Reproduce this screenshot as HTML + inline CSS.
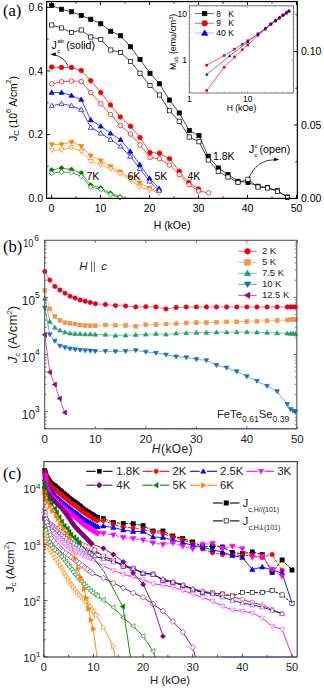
<!DOCTYPE html>
<html><head><meta charset="utf-8"><style>
html,body{margin:0;padding:0;background:#fff;}
svg{display:block;}
</style></head><body>
<svg width="324" height="689" viewBox="0 0 324 689">
<rect width="324" height="689" fill="#fff"/>
<polyline points="51.75,170 61.5,168 71.5,169.5 81.25,173 90.75,185 100.75,188 110.5,193.25 120,197" fill="none" stroke="#008000" stroke-width="0.7" />
<polygon points="51.75,167.48 54.27,170 51.75,172.52 49.23,170" fill="#008000" stroke="#008000" stroke-width="0.7" stroke-linejoin="miter"/>
<polygon points="61.5,165.48 64.02,168 61.5,170.52 58.98,168" fill="#008000" stroke="#008000" stroke-width="0.7" stroke-linejoin="miter"/>
<polygon points="71.5,166.98 74.02,169.5 71.5,172.02 68.98,169.5" fill="#008000" stroke="#008000" stroke-width="0.7" stroke-linejoin="miter"/>
<polygon points="81.25,170.48 83.77,173 81.25,175.52 78.73,173" fill="#008000" stroke="#008000" stroke-width="0.7" stroke-linejoin="miter"/>
<polygon points="90.75,182.48 93.27,185 90.75,187.52 88.23,185" fill="#008000" stroke="#008000" stroke-width="0.7" stroke-linejoin="miter"/>
<polygon points="100.75,185.48 103.27,188 100.75,190.52 98.23,188" fill="#008000" stroke="#008000" stroke-width="0.7" stroke-linejoin="miter"/>
<polygon points="110.5,190.73 113.02,193.25 110.5,195.77 107.98,193.25" fill="#008000" stroke="#008000" stroke-width="0.7" stroke-linejoin="miter"/>
<polygon points="120,194.48 122.52,197 120,199.52 117.48,197" fill="#008000" stroke="#008000" stroke-width="0.7" stroke-linejoin="miter"/>
<polyline points="51.75,173.25 61.5,172 71.5,172.5 81.25,176.25 90.75,187 100.75,189.5 110.5,194.5 120,197.5" fill="none" stroke="#008000" stroke-width="0.7" />
<polygon points="51.75,170.73 54.27,173.25 51.75,175.77 49.23,173.25" fill="#fff" stroke="#008000" stroke-width="0.7" stroke-linejoin="miter"/>
<polygon points="61.5,169.48 64.02,172 61.5,174.52 58.98,172" fill="#fff" stroke="#008000" stroke-width="0.7" stroke-linejoin="miter"/>
<polygon points="71.5,169.98 74.02,172.5 71.5,175.02 68.98,172.5" fill="#fff" stroke="#008000" stroke-width="0.7" stroke-linejoin="miter"/>
<polygon points="81.25,173.73 83.77,176.25 81.25,178.77 78.73,176.25" fill="#fff" stroke="#008000" stroke-width="0.7" stroke-linejoin="miter"/>
<polygon points="90.75,184.48 93.27,187 90.75,189.52 88.23,187" fill="#fff" stroke="#008000" stroke-width="0.7" stroke-linejoin="miter"/>
<polygon points="100.75,186.98 103.27,189.5 100.75,192.02 98.23,189.5" fill="#fff" stroke="#008000" stroke-width="0.7" stroke-linejoin="miter"/>
<polygon points="110.5,191.98 113.02,194.5 110.5,197.02 107.98,194.5" fill="#fff" stroke="#008000" stroke-width="0.7" stroke-linejoin="miter"/>
<polygon points="120,194.98 122.52,197.5 120,200.02 117.48,197.5" fill="#fff" stroke="#008000" stroke-width="0.7" stroke-linejoin="miter"/>
<polyline points="51.75,144.5 61.5,144.5 71.5,142 81.25,146.25 90.75,155.75 100.75,160.75 110.7,166.7 120.2,171.9 130.4,177.8 139.6,183 149.3,188 159.1,191.7" fill="none" stroke="#ff7f00" stroke-width="0.7" />
<polygon points="51.75,147.03 54.28,142.66 49.22,142.66" fill="#ff7f00" stroke="#ff7f00" stroke-width="0.7" stroke-linejoin="miter"/>
<polygon points="61.5,147.03 64.03,142.66 58.97,142.66" fill="#ff7f00" stroke="#ff7f00" stroke-width="0.7" stroke-linejoin="miter"/>
<polygon points="71.5,144.53 74.03,140.16 68.97,140.16" fill="#ff7f00" stroke="#ff7f00" stroke-width="0.7" stroke-linejoin="miter"/>
<polygon points="81.25,148.78 83.78,144.41 78.72,144.41" fill="#ff7f00" stroke="#ff7f00" stroke-width="0.7" stroke-linejoin="miter"/>
<polygon points="90.75,158.28 93.28,153.91 88.22,153.91" fill="#ff7f00" stroke="#ff7f00" stroke-width="0.7" stroke-linejoin="miter"/>
<polygon points="100.75,163.28 103.28,158.91 98.22,158.91" fill="#ff7f00" stroke="#ff7f00" stroke-width="0.7" stroke-linejoin="miter"/>
<polygon points="110.7,169.23 113.23,164.86 108.17,164.86" fill="#ff7f00" stroke="#ff7f00" stroke-width="0.7" stroke-linejoin="miter"/>
<polygon points="120.2,174.43 122.73,170.06 117.67,170.06" fill="#ff7f00" stroke="#ff7f00" stroke-width="0.7" stroke-linejoin="miter"/>
<polygon points="130.4,180.33 132.93,175.96 127.87,175.96" fill="#ff7f00" stroke="#ff7f00" stroke-width="0.7" stroke-linejoin="miter"/>
<polygon points="139.6,185.53 142.13,181.16 137.07,181.16" fill="#ff7f00" stroke="#ff7f00" stroke-width="0.7" stroke-linejoin="miter"/>
<polygon points="149.3,190.53 151.83,186.16 146.77,186.16" fill="#ff7f00" stroke="#ff7f00" stroke-width="0.7" stroke-linejoin="miter"/>
<polygon points="159.1,194.23 161.63,189.86 156.57,189.86" fill="#ff7f00" stroke="#ff7f00" stroke-width="0.7" stroke-linejoin="miter"/>
<polyline points="51.75,150 61.5,150 71.5,147.5 81.25,151.25 90.75,161.25 100.75,165 110.7,168.8 120.2,173.7 130.4,179.6 139.6,187 149.3,189.8 159.1,193" fill="none" stroke="#ff7f00" stroke-width="0.7" />
<polygon points="51.75,152.53 54.28,148.16 49.22,148.16" fill="#fff" stroke="#ff7f00" stroke-width="0.7" stroke-linejoin="miter"/>
<polygon points="61.5,152.53 64.03,148.16 58.97,148.16" fill="#fff" stroke="#ff7f00" stroke-width="0.7" stroke-linejoin="miter"/>
<polygon points="71.5,150.03 74.03,145.66 68.97,145.66" fill="#fff" stroke="#ff7f00" stroke-width="0.7" stroke-linejoin="miter"/>
<polygon points="81.25,153.78 83.78,149.41 78.72,149.41" fill="#fff" stroke="#ff7f00" stroke-width="0.7" stroke-linejoin="miter"/>
<polygon points="90.75,163.78 93.28,159.41 88.22,159.41" fill="#fff" stroke="#ff7f00" stroke-width="0.7" stroke-linejoin="miter"/>
<polygon points="100.75,167.53 103.28,163.16 98.22,163.16" fill="#fff" stroke="#ff7f00" stroke-width="0.7" stroke-linejoin="miter"/>
<polygon points="110.7,171.33 113.23,166.96 108.17,166.96" fill="#fff" stroke="#ff7f00" stroke-width="0.7" stroke-linejoin="miter"/>
<polygon points="120.2,176.23 122.73,171.86 117.67,171.86" fill="#fff" stroke="#ff7f00" stroke-width="0.7" stroke-linejoin="miter"/>
<polygon points="130.4,182.13 132.93,177.76 127.87,177.76" fill="#fff" stroke="#ff7f00" stroke-width="0.7" stroke-linejoin="miter"/>
<polygon points="139.6,189.53 142.13,185.16 137.07,185.16" fill="#fff" stroke="#ff7f00" stroke-width="0.7" stroke-linejoin="miter"/>
<polygon points="149.3,192.33 151.83,187.96 146.77,187.96" fill="#fff" stroke="#ff7f00" stroke-width="0.7" stroke-linejoin="miter"/>
<polygon points="159.1,195.53 161.63,191.16 156.57,191.16" fill="#fff" stroke="#ff7f00" stroke-width="0.7" stroke-linejoin="miter"/>
<polyline points="51.75,92.5 61.5,92.5 71.5,95.5 81.25,99.5 90.75,120 100.75,126.25 110.5,133.25 120.6,139.7 130.2,151.4 139.8,164.6 149.5,178.3 159.1,188.5" fill="none" stroke="#0000f0" stroke-width="0.7" />
<polygon points="51.75,89.97 54.28,94.34 49.22,94.34" fill="#0000f0" stroke="#0000f0" stroke-width="0.7" stroke-linejoin="miter"/>
<polygon points="61.5,89.97 64.03,94.34 58.97,94.34" fill="#0000f0" stroke="#0000f0" stroke-width="0.7" stroke-linejoin="miter"/>
<polygon points="71.5,92.97 74.03,97.34 68.97,97.34" fill="#0000f0" stroke="#0000f0" stroke-width="0.7" stroke-linejoin="miter"/>
<polygon points="81.25,96.97 83.78,101.34 78.72,101.34" fill="#0000f0" stroke="#0000f0" stroke-width="0.7" stroke-linejoin="miter"/>
<polygon points="90.75,117.47 93.28,121.84 88.22,121.84" fill="#0000f0" stroke="#0000f0" stroke-width="0.7" stroke-linejoin="miter"/>
<polygon points="100.75,123.72 103.28,128.09 98.22,128.09" fill="#0000f0" stroke="#0000f0" stroke-width="0.7" stroke-linejoin="miter"/>
<polygon points="110.5,130.72 113.03,135.09 107.97,135.09" fill="#0000f0" stroke="#0000f0" stroke-width="0.7" stroke-linejoin="miter"/>
<polygon points="120.6,137.17 123.13,141.54 118.07,141.54" fill="#0000f0" stroke="#0000f0" stroke-width="0.7" stroke-linejoin="miter"/>
<polygon points="130.2,148.87 132.73,153.24 127.67,153.24" fill="#0000f0" stroke="#0000f0" stroke-width="0.7" stroke-linejoin="miter"/>
<polygon points="139.8,162.07 142.33,166.44 137.27,166.44" fill="#0000f0" stroke="#0000f0" stroke-width="0.7" stroke-linejoin="miter"/>
<polygon points="149.5,175.77 152.03,180.14 146.97,180.14" fill="#0000f0" stroke="#0000f0" stroke-width="0.7" stroke-linejoin="miter"/>
<polygon points="159.1,185.97 161.63,190.34 156.57,190.34" fill="#0000f0" stroke="#0000f0" stroke-width="0.7" stroke-linejoin="miter"/>
<polyline points="51.75,105.75 61.5,103.75 71.5,105.75 81.25,109.5 90.75,127.5 100.75,133.25 110.5,139.5 120.6,146.25 130.2,156.4 139.8,168.6 149.5,181.3 159.1,190.4" fill="none" stroke="#0000f0" stroke-width="0.7" />
<polygon points="51.75,103.22 54.28,107.59 49.22,107.59" fill="#fff" stroke="#0000f0" stroke-width="0.7" stroke-linejoin="miter"/>
<polygon points="61.5,101.22 64.03,105.59 58.97,105.59" fill="#fff" stroke="#0000f0" stroke-width="0.7" stroke-linejoin="miter"/>
<polygon points="71.5,103.22 74.03,107.59 68.97,107.59" fill="#fff" stroke="#0000f0" stroke-width="0.7" stroke-linejoin="miter"/>
<polygon points="81.25,106.97 83.78,111.34 78.72,111.34" fill="#fff" stroke="#0000f0" stroke-width="0.7" stroke-linejoin="miter"/>
<polygon points="90.75,124.97 93.28,129.34 88.22,129.34" fill="#fff" stroke="#0000f0" stroke-width="0.7" stroke-linejoin="miter"/>
<polygon points="100.75,130.72 103.28,135.09 98.22,135.09" fill="#fff" stroke="#0000f0" stroke-width="0.7" stroke-linejoin="miter"/>
<polygon points="110.5,136.97 113.03,141.34 107.97,141.34" fill="#fff" stroke="#0000f0" stroke-width="0.7" stroke-linejoin="miter"/>
<polygon points="120.6,143.72 123.13,148.09 118.07,148.09" fill="#fff" stroke="#0000f0" stroke-width="0.7" stroke-linejoin="miter"/>
<polygon points="130.2,153.87 132.73,158.24 127.67,158.24" fill="#fff" stroke="#0000f0" stroke-width="0.7" stroke-linejoin="miter"/>
<polygon points="139.8,166.07 142.33,170.44 137.27,170.44" fill="#fff" stroke="#0000f0" stroke-width="0.7" stroke-linejoin="miter"/>
<polygon points="149.5,178.77 152.03,183.14 146.97,183.14" fill="#fff" stroke="#0000f0" stroke-width="0.7" stroke-linejoin="miter"/>
<polygon points="159.1,187.87 161.63,192.24 156.57,192.24" fill="#fff" stroke="#0000f0" stroke-width="0.7" stroke-linejoin="miter"/>
<polyline points="51.75,67 61.5,67.5 71.5,67.5 81.25,70.5 90.75,80.75 100.75,92.5 110.5,105 120.3,117 130.5,126.25 140,137.5 150,152.5 159.5,153.25 169.5,158.75 179.25,171.25 188.8,182.5 198.6,189" fill="none" stroke="#f00000" stroke-width="0.7" />
<circle cx="51.75" cy="67" r="2.3" fill="#f00000" stroke="#f00000" stroke-width="0.7"/>
<circle cx="61.5" cy="67.5" r="2.3" fill="#f00000" stroke="#f00000" stroke-width="0.7"/>
<circle cx="71.5" cy="67.5" r="2.3" fill="#f00000" stroke="#f00000" stroke-width="0.7"/>
<circle cx="81.25" cy="70.5" r="2.3" fill="#f00000" stroke="#f00000" stroke-width="0.7"/>
<circle cx="90.75" cy="80.75" r="2.3" fill="#f00000" stroke="#f00000" stroke-width="0.7"/>
<circle cx="100.75" cy="92.5" r="2.3" fill="#f00000" stroke="#f00000" stroke-width="0.7"/>
<circle cx="110.5" cy="105" r="2.3" fill="#f00000" stroke="#f00000" stroke-width="0.7"/>
<circle cx="120.3" cy="117" r="2.3" fill="#f00000" stroke="#f00000" stroke-width="0.7"/>
<circle cx="130.5" cy="126.25" r="2.3" fill="#f00000" stroke="#f00000" stroke-width="0.7"/>
<circle cx="140" cy="137.5" r="2.3" fill="#f00000" stroke="#f00000" stroke-width="0.7"/>
<circle cx="150" cy="152.5" r="2.3" fill="#f00000" stroke="#f00000" stroke-width="0.7"/>
<circle cx="159.5" cy="153.25" r="2.3" fill="#f00000" stroke="#f00000" stroke-width="0.7"/>
<circle cx="169.5" cy="158.75" r="2.3" fill="#f00000" stroke="#f00000" stroke-width="0.7"/>
<circle cx="179.25" cy="171.25" r="2.3" fill="#f00000" stroke="#f00000" stroke-width="0.7"/>
<circle cx="188.8" cy="182.5" r="2.3" fill="#f00000" stroke="#f00000" stroke-width="0.7"/>
<circle cx="198.6" cy="189" r="2.3" fill="#f00000" stroke="#f00000" stroke-width="0.7"/>
<polyline points="51.75,83.75 61.5,81.75 71.5,81 81.25,81.5 90.75,92.5 100.75,103.75 110.5,114.5 120.3,125.5 130.5,134 140,145 150,157.5 159.5,158.75 169.5,165 179.25,174.5 189.1,184.8 198.6,191 208.6,192.8" fill="none" stroke="#f00000" stroke-width="0.7" />
<circle cx="51.75" cy="83.75" r="2.3" fill="#fff" stroke="#f00000" stroke-width="0.7"/>
<circle cx="61.5" cy="81.75" r="2.3" fill="#fff" stroke="#f00000" stroke-width="0.7"/>
<circle cx="71.5" cy="81" r="2.3" fill="#fff" stroke="#f00000" stroke-width="0.7"/>
<circle cx="81.25" cy="81.5" r="2.3" fill="#fff" stroke="#f00000" stroke-width="0.7"/>
<circle cx="90.75" cy="92.5" r="2.3" fill="#fff" stroke="#f00000" stroke-width="0.7"/>
<circle cx="100.75" cy="103.75" r="2.3" fill="#fff" stroke="#f00000" stroke-width="0.7"/>
<circle cx="110.5" cy="114.5" r="2.3" fill="#fff" stroke="#f00000" stroke-width="0.7"/>
<circle cx="120.3" cy="125.5" r="2.3" fill="#fff" stroke="#f00000" stroke-width="0.7"/>
<circle cx="130.5" cy="134" r="2.3" fill="#fff" stroke="#f00000" stroke-width="0.7"/>
<circle cx="140" cy="145" r="2.3" fill="#fff" stroke="#f00000" stroke-width="0.7"/>
<circle cx="150" cy="157.5" r="2.3" fill="#fff" stroke="#f00000" stroke-width="0.7"/>
<circle cx="159.5" cy="158.75" r="2.3" fill="#fff" stroke="#f00000" stroke-width="0.7"/>
<circle cx="169.5" cy="165" r="2.3" fill="#fff" stroke="#f00000" stroke-width="0.7"/>
<circle cx="179.25" cy="174.5" r="2.3" fill="#fff" stroke="#f00000" stroke-width="0.7"/>
<circle cx="189.1" cy="184.8" r="2.3" fill="#fff" stroke="#f00000" stroke-width="0.7"/>
<circle cx="198.6" cy="191" r="2.3" fill="#fff" stroke="#f00000" stroke-width="0.7"/>
<circle cx="208.6" cy="192.8" r="2.3" fill="#fff" stroke="#f00000" stroke-width="0.7"/>
<polyline points="51.75,5.5 61.5,9.25 71.5,11.75 81.25,15.5 90.75,19.25 100.75,23.75 110.75,31.25 120.6,35.75 130.5,46.75 140,59.5 150,73.25 159.5,83.75 169.5,100 179.25,113 189.25,130.5 199,135.6 208.25,156.25 218.25,168 228,174.5 238,181.25 248,182.5 258,186.25 267.5,187.5 277.5,190.75 287.5,197" fill="none" stroke="#000" stroke-width="0.7" />
<rect x="49.65" y="3.4" width="4.2" height="4.2" fill="#000" stroke="#000" stroke-width="0.7"/>
<rect x="59.4" y="7.15" width="4.2" height="4.2" fill="#000" stroke="#000" stroke-width="0.7"/>
<rect x="69.4" y="9.65" width="4.2" height="4.2" fill="#000" stroke="#000" stroke-width="0.7"/>
<rect x="79.15" y="13.4" width="4.2" height="4.2" fill="#000" stroke="#000" stroke-width="0.7"/>
<rect x="88.65" y="17.15" width="4.2" height="4.2" fill="#000" stroke="#000" stroke-width="0.7"/>
<rect x="98.65" y="21.65" width="4.2" height="4.2" fill="#000" stroke="#000" stroke-width="0.7"/>
<rect x="108.65" y="29.15" width="4.2" height="4.2" fill="#000" stroke="#000" stroke-width="0.7"/>
<rect x="118.5" y="33.65" width="4.2" height="4.2" fill="#000" stroke="#000" stroke-width="0.7"/>
<rect x="128.4" y="44.65" width="4.2" height="4.2" fill="#000" stroke="#000" stroke-width="0.7"/>
<rect x="137.9" y="57.4" width="4.2" height="4.2" fill="#000" stroke="#000" stroke-width="0.7"/>
<rect x="147.9" y="71.15" width="4.2" height="4.2" fill="#000" stroke="#000" stroke-width="0.7"/>
<rect x="157.4" y="81.65" width="4.2" height="4.2" fill="#000" stroke="#000" stroke-width="0.7"/>
<rect x="167.4" y="97.9" width="4.2" height="4.2" fill="#000" stroke="#000" stroke-width="0.7"/>
<rect x="177.15" y="110.9" width="4.2" height="4.2" fill="#000" stroke="#000" stroke-width="0.7"/>
<rect x="187.15" y="128.4" width="4.2" height="4.2" fill="#000" stroke="#000" stroke-width="0.7"/>
<rect x="196.9" y="133.5" width="4.2" height="4.2" fill="#000" stroke="#000" stroke-width="0.7"/>
<rect x="206.15" y="154.15" width="4.2" height="4.2" fill="#000" stroke="#000" stroke-width="0.7"/>
<rect x="216.15" y="165.9" width="4.2" height="4.2" fill="#000" stroke="#000" stroke-width="0.7"/>
<rect x="225.9" y="172.4" width="4.2" height="4.2" fill="#000" stroke="#000" stroke-width="0.7"/>
<rect x="235.9" y="179.15" width="4.2" height="4.2" fill="#000" stroke="#000" stroke-width="0.7"/>
<rect x="245.9" y="180.4" width="4.2" height="4.2" fill="#000" stroke="#000" stroke-width="0.7"/>
<rect x="255.9" y="184.15" width="4.2" height="4.2" fill="#000" stroke="#000" stroke-width="0.7"/>
<rect x="265.4" y="185.4" width="4.2" height="4.2" fill="#000" stroke="#000" stroke-width="0.7"/>
<rect x="275.4" y="188.65" width="4.2" height="4.2" fill="#000" stroke="#000" stroke-width="0.7"/>
<rect x="285.4" y="194.9" width="4.2" height="4.2" fill="#000" stroke="#000" stroke-width="0.7"/>
<polyline points="51.75,25 61.5,28 71.5,32.5 81.25,30 90.75,37 100.75,39.5 110.75,50 120.6,52.5 130.5,61.5 140,73.25 150,85.5 159.5,95 169.5,110.75 179.25,121.25 189.25,137 199,141.75 208.25,160 218.25,171.25 228,177 238,182.5 248,179.25 258,187 267.5,188 277.5,191.25 287.5,197.5" fill="none" stroke="#000" stroke-width="0.7" />
<rect x="49.65" y="22.9" width="4.2" height="4.2" fill="#fff" stroke="#000" stroke-width="0.7"/>
<rect x="59.4" y="25.9" width="4.2" height="4.2" fill="#fff" stroke="#000" stroke-width="0.7"/>
<rect x="69.4" y="30.4" width="4.2" height="4.2" fill="#fff" stroke="#000" stroke-width="0.7"/>
<rect x="79.15" y="27.9" width="4.2" height="4.2" fill="#fff" stroke="#000" stroke-width="0.7"/>
<rect x="88.65" y="34.9" width="4.2" height="4.2" fill="#fff" stroke="#000" stroke-width="0.7"/>
<rect x="98.65" y="37.4" width="4.2" height="4.2" fill="#fff" stroke="#000" stroke-width="0.7"/>
<rect x="108.65" y="47.9" width="4.2" height="4.2" fill="#fff" stroke="#000" stroke-width="0.7"/>
<rect x="118.5" y="50.4" width="4.2" height="4.2" fill="#fff" stroke="#000" stroke-width="0.7"/>
<rect x="128.4" y="59.4" width="4.2" height="4.2" fill="#fff" stroke="#000" stroke-width="0.7"/>
<rect x="137.9" y="71.15" width="4.2" height="4.2" fill="#fff" stroke="#000" stroke-width="0.7"/>
<rect x="147.9" y="83.4" width="4.2" height="4.2" fill="#fff" stroke="#000" stroke-width="0.7"/>
<rect x="157.4" y="92.9" width="4.2" height="4.2" fill="#fff" stroke="#000" stroke-width="0.7"/>
<rect x="167.4" y="108.65" width="4.2" height="4.2" fill="#fff" stroke="#000" stroke-width="0.7"/>
<rect x="177.15" y="119.15" width="4.2" height="4.2" fill="#fff" stroke="#000" stroke-width="0.7"/>
<rect x="187.15" y="134.9" width="4.2" height="4.2" fill="#fff" stroke="#000" stroke-width="0.7"/>
<rect x="196.9" y="139.65" width="4.2" height="4.2" fill="#fff" stroke="#000" stroke-width="0.7"/>
<rect x="206.15" y="157.9" width="4.2" height="4.2" fill="#fff" stroke="#000" stroke-width="0.7"/>
<rect x="216.15" y="169.15" width="4.2" height="4.2" fill="#fff" stroke="#000" stroke-width="0.7"/>
<rect x="225.9" y="174.9" width="4.2" height="4.2" fill="#fff" stroke="#000" stroke-width="0.7"/>
<rect x="235.9" y="180.4" width="4.2" height="4.2" fill="#fff" stroke="#000" stroke-width="0.7"/>
<rect x="245.9" y="177.15" width="4.2" height="4.2" fill="#fff" stroke="#000" stroke-width="0.7"/>
<rect x="255.9" y="184.9" width="4.2" height="4.2" fill="#fff" stroke="#000" stroke-width="0.7"/>
<rect x="265.4" y="185.9" width="4.2" height="4.2" fill="#fff" stroke="#000" stroke-width="0.7"/>
<rect x="275.4" y="189.15" width="4.2" height="4.2" fill="#fff" stroke="#000" stroke-width="0.7"/>
<rect x="285.4" y="195.4" width="4.2" height="4.2" fill="#fff" stroke="#000" stroke-width="0.7"/>
<rect x="46.6" y="1.55" width="250.75000000000003" height="196.85" fill="none" stroke="#000" stroke-width="1.2"/>
<line x1="51.5" y1="198.4" x2="51.5" y2="194.9" stroke="#000" stroke-width="0.9" />
<line x1="51.5" y1="1.55" x2="51.5" y2="5.05" stroke="#000" stroke-width="0.9" />
<text x="51.5" y="211.5" font-family="Liberation Sans" font-size="10.5" text-anchor="middle" fill="#000" >0</text>
<line x1="76" y1="198.4" x2="76" y2="196.4" stroke="#000" stroke-width="0.9" />
<line x1="76" y1="1.55" x2="76" y2="3.55" stroke="#000" stroke-width="0.9" />
<line x1="100.5" y1="198.4" x2="100.5" y2="194.9" stroke="#000" stroke-width="0.9" />
<line x1="100.5" y1="1.55" x2="100.5" y2="5.05" stroke="#000" stroke-width="0.9" />
<text x="100.5" y="211.5" font-family="Liberation Sans" font-size="10.5" text-anchor="middle" fill="#000" >10</text>
<line x1="125" y1="198.4" x2="125" y2="196.4" stroke="#000" stroke-width="0.9" />
<line x1="125" y1="1.55" x2="125" y2="3.55" stroke="#000" stroke-width="0.9" />
<line x1="149.5" y1="198.4" x2="149.5" y2="194.9" stroke="#000" stroke-width="0.9" />
<line x1="149.5" y1="1.55" x2="149.5" y2="5.05" stroke="#000" stroke-width="0.9" />
<text x="149.5" y="211.5" font-family="Liberation Sans" font-size="10.5" text-anchor="middle" fill="#000" >20</text>
<line x1="174" y1="198.4" x2="174" y2="196.4" stroke="#000" stroke-width="0.9" />
<line x1="174" y1="1.55" x2="174" y2="3.55" stroke="#000" stroke-width="0.9" />
<line x1="198.5" y1="198.4" x2="198.5" y2="194.9" stroke="#000" stroke-width="0.9" />
<line x1="198.5" y1="1.55" x2="198.5" y2="5.05" stroke="#000" stroke-width="0.9" />
<text x="198.5" y="211.5" font-family="Liberation Sans" font-size="10.5" text-anchor="middle" fill="#000" >30</text>
<line x1="223" y1="198.4" x2="223" y2="196.4" stroke="#000" stroke-width="0.9" />
<line x1="223" y1="1.55" x2="223" y2="3.55" stroke="#000" stroke-width="0.9" />
<line x1="247.5" y1="198.4" x2="247.5" y2="194.9" stroke="#000" stroke-width="0.9" />
<line x1="247.5" y1="1.55" x2="247.5" y2="5.05" stroke="#000" stroke-width="0.9" />
<text x="247.5" y="211.5" font-family="Liberation Sans" font-size="10.5" text-anchor="middle" fill="#000" >40</text>
<line x1="272" y1="198.4" x2="272" y2="196.4" stroke="#000" stroke-width="0.9" />
<line x1="272" y1="1.55" x2="272" y2="3.55" stroke="#000" stroke-width="0.9" />
<line x1="296.5" y1="198.4" x2="296.5" y2="194.9" stroke="#000" stroke-width="0.9" />
<line x1="296.5" y1="1.55" x2="296.5" y2="5.05" stroke="#000" stroke-width="0.9" />
<text x="296.5" y="211.5" font-family="Liberation Sans" font-size="10.5" text-anchor="middle" fill="#000" >50</text>
<line x1="46.6" y1="198.05" x2="50.1" y2="198.05" stroke="#000" stroke-width="0.9" />
<text x="43" y="201.85" font-family="Liberation Sans" font-size="10.5" text-anchor="end" fill="#000" >0.0</text>
<line x1="46.6" y1="166.28" x2="48.6" y2="166.28" stroke="#000" stroke-width="0.9" />
<line x1="46.6" y1="134.5" x2="50.1" y2="134.5" stroke="#000" stroke-width="0.9" />
<text x="43" y="138.3" font-family="Liberation Sans" font-size="10.5" text-anchor="end" fill="#000" >0.2</text>
<line x1="46.6" y1="102.72" x2="48.6" y2="102.72" stroke="#000" stroke-width="0.9" />
<line x1="46.6" y1="70.95" x2="50.1" y2="70.95" stroke="#000" stroke-width="0.9" />
<text x="43" y="74.75" font-family="Liberation Sans" font-size="10.5" text-anchor="end" fill="#000" >0.4</text>
<line x1="46.6" y1="39.18" x2="48.6" y2="39.18" stroke="#000" stroke-width="0.9" />
<line x1="46.6" y1="7.4" x2="50.1" y2="7.4" stroke="#000" stroke-width="0.9" />
<text x="43" y="11.2" font-family="Liberation Sans" font-size="10.5" text-anchor="end" fill="#000" >0.6</text>
<line x1="297.35" y1="198.5" x2="293.85" y2="198.5" stroke="#000" stroke-width="0.9" />
<text x="301" y="202.3" font-family="Liberation Sans" font-size="10.5" text-anchor="start" fill="#000" >0.00</text>
<line x1="297.35" y1="161.75" x2="295.35" y2="161.75" stroke="#000" stroke-width="0.9" />
<line x1="297.35" y1="125" x2="293.85" y2="125" stroke="#000" stroke-width="0.9" />
<text x="301" y="128.8" font-family="Liberation Sans" font-size="10.5" text-anchor="start" fill="#000" >0.05</text>
<line x1="297.35" y1="88.25" x2="295.35" y2="88.25" stroke="#000" stroke-width="0.9" />
<line x1="297.35" y1="51.5" x2="293.85" y2="51.5" stroke="#000" stroke-width="0.9" />
<text x="301" y="55.3" font-family="Liberation Sans" font-size="10.5" text-anchor="start" fill="#000" >0.10</text>
<line x1="297.35" y1="14.75" x2="295.35" y2="14.75" stroke="#000" stroke-width="0.9" />
<text x="172" y="228.5" font-family="Liberation Sans" font-size="10.5" text-anchor="middle" fill="#000" >H (kOe)</text>
<text transform="translate(16.8,141) rotate(-90)" font-family="Liberation Sans" font-size="10.3">J<tspan font-size="7" dy="2.5">C</tspan><tspan dy="-2.5"> (10</tspan><tspan font-size="7" dy="-5.5">6</tspan><tspan dy="5.5"> A/cm</tspan><tspan font-size="7" dy="-5.5">2</tspan><tspan dy="5.5">)</tspan></text>
<text x="3" y="15.8" font-family="Liberation Serif" font-size="16.5" text-anchor="start" fill="#000" >(a)</text>
<text x="51.6" y="48.6" font-family="Liberation Sans" font-size="10.5">J</text>
<text x="57.2" y="43" font-family="Liberation Sans" font-size="6">ab</text>
<text x="57.2" y="52.8" font-family="Liberation Sans" font-size="6">c</text>
<text x="66.3" y="48.8" font-family="Liberation Sans" font-size="10.5">(solid)</text>
<path d="M68.2,66.5 Q64.4,57.2 54.5,54.8" fill="none" stroke="#000" stroke-width="0.75"/>
<polygon points="50.2,54.3 55.9,52.6 55.6,56.2" fill="#000"/>
<text x="248.9" y="152.5" font-family="Liberation Sans" font-size="10.5">J</text>
<text x="254.3" y="147.6" font-family="Liberation Sans" font-size="6.2">c</text>
<text x="254.3" y="157.2" font-family="Liberation Sans" font-size="6.2">c</text>
<text x="259.6" y="152.6" font-family="Liberation Sans" font-size="10.6">(open)</text>
<path d="M248.6,178 Q257.2,159.2 275.5,159.6" fill="none" stroke="#000" stroke-width="0.75"/>
<polygon points="279.4,159.4 274,157.7 274,161.2" fill="#000"/>
<text x="213" y="160" font-family="Liberation Sans" font-size="10.5" text-anchor="start" fill="#000" >1.8K</text>
<text x="187.5" y="179.5" font-family="Liberation Sans" font-size="10.5" text-anchor="start" fill="#000" >4K</text>
<text x="154.5" y="179.5" font-family="Liberation Sans" font-size="10.5" text-anchor="start" fill="#000" >5K</text>
<text x="127.5" y="179.5" font-family="Liberation Sans" font-size="10.5" text-anchor="start" fill="#000" >6K</text>
<text x="86.5" y="179.5" font-family="Liberation Sans" font-size="10.5" text-anchor="start" fill="#000" >7K</text>
<rect x="189.3" y="5.8" width="104.3" height="87.2" fill="#fff" stroke="#666" stroke-width="0.9"/>
<line x1="189.3" y1="93" x2="189.3" y2="90.5" stroke="#777" stroke-width="0.5" />
<line x1="189.3" y1="5.8" x2="189.3" y2="8.3" stroke="#777" stroke-width="0.5" />
<line x1="206.85" y1="93" x2="206.85" y2="91.7" stroke="#777" stroke-width="0.5" />
<line x1="206.85" y1="5.8" x2="206.85" y2="7.1" stroke="#777" stroke-width="0.5" />
<line x1="217.12" y1="93" x2="217.12" y2="91.7" stroke="#777" stroke-width="0.5" />
<line x1="217.12" y1="5.8" x2="217.12" y2="7.1" stroke="#777" stroke-width="0.5" />
<line x1="224.4" y1="93" x2="224.4" y2="91.7" stroke="#777" stroke-width="0.5" />
<line x1="224.4" y1="5.8" x2="224.4" y2="7.1" stroke="#777" stroke-width="0.5" />
<line x1="230.05" y1="93" x2="230.05" y2="91.7" stroke="#777" stroke-width="0.5" />
<line x1="230.05" y1="5.8" x2="230.05" y2="7.1" stroke="#777" stroke-width="0.5" />
<line x1="234.67" y1="93" x2="234.67" y2="91.7" stroke="#777" stroke-width="0.5" />
<line x1="234.67" y1="5.8" x2="234.67" y2="7.1" stroke="#777" stroke-width="0.5" />
<line x1="238.57" y1="93" x2="238.57" y2="91.7" stroke="#777" stroke-width="0.5" />
<line x1="238.57" y1="5.8" x2="238.57" y2="7.1" stroke="#777" stroke-width="0.5" />
<line x1="241.95" y1="93" x2="241.95" y2="91.7" stroke="#777" stroke-width="0.5" />
<line x1="241.95" y1="5.8" x2="241.95" y2="7.1" stroke="#777" stroke-width="0.5" />
<line x1="244.93" y1="93" x2="244.93" y2="91.7" stroke="#777" stroke-width="0.5" />
<line x1="244.93" y1="5.8" x2="244.93" y2="7.1" stroke="#777" stroke-width="0.5" />
<line x1="247.6" y1="93" x2="247.6" y2="90.5" stroke="#777" stroke-width="0.5" />
<line x1="247.6" y1="5.8" x2="247.6" y2="8.3" stroke="#777" stroke-width="0.5" />
<line x1="265.15" y1="93" x2="265.15" y2="91.7" stroke="#777" stroke-width="0.5" />
<line x1="265.15" y1="5.8" x2="265.15" y2="7.1" stroke="#777" stroke-width="0.5" />
<line x1="275.42" y1="93" x2="275.42" y2="91.7" stroke="#777" stroke-width="0.5" />
<line x1="275.42" y1="5.8" x2="275.42" y2="7.1" stroke="#777" stroke-width="0.5" />
<line x1="282.7" y1="93" x2="282.7" y2="91.7" stroke="#777" stroke-width="0.5" />
<line x1="282.7" y1="5.8" x2="282.7" y2="7.1" stroke="#777" stroke-width="0.5" />
<line x1="288.35" y1="93" x2="288.35" y2="91.7" stroke="#777" stroke-width="0.5" />
<line x1="288.35" y1="5.8" x2="288.35" y2="7.1" stroke="#777" stroke-width="0.5" />
<line x1="292.97" y1="93" x2="292.97" y2="91.7" stroke="#777" stroke-width="0.5" />
<line x1="292.97" y1="5.8" x2="292.97" y2="7.1" stroke="#777" stroke-width="0.5" />
<line x1="189.3" y1="92.21" x2="190.6" y2="92.21" stroke="#777" stroke-width="0.5" />
<line x1="293.6" y1="92.21" x2="292.3" y2="92.21" stroke="#777" stroke-width="0.5" />
<line x1="189.3" y1="84.15" x2="190.6" y2="84.15" stroke="#777" stroke-width="0.5" />
<line x1="293.6" y1="84.15" x2="292.3" y2="84.15" stroke="#777" stroke-width="0.5" />
<line x1="189.3" y1="78.43" x2="190.6" y2="78.43" stroke="#777" stroke-width="0.5" />
<line x1="293.6" y1="78.43" x2="292.3" y2="78.43" stroke="#777" stroke-width="0.5" />
<line x1="189.3" y1="73.99" x2="190.6" y2="73.99" stroke="#777" stroke-width="0.5" />
<line x1="293.6" y1="73.99" x2="292.3" y2="73.99" stroke="#777" stroke-width="0.5" />
<line x1="189.3" y1="70.36" x2="190.6" y2="70.36" stroke="#777" stroke-width="0.5" />
<line x1="293.6" y1="70.36" x2="292.3" y2="70.36" stroke="#777" stroke-width="0.5" />
<line x1="189.3" y1="67.29" x2="190.6" y2="67.29" stroke="#777" stroke-width="0.5" />
<line x1="293.6" y1="67.29" x2="292.3" y2="67.29" stroke="#777" stroke-width="0.5" />
<line x1="189.3" y1="64.64" x2="190.6" y2="64.64" stroke="#777" stroke-width="0.5" />
<line x1="293.6" y1="64.64" x2="292.3" y2="64.64" stroke="#777" stroke-width="0.5" />
<line x1="189.3" y1="62.3" x2="190.6" y2="62.3" stroke="#777" stroke-width="0.5" />
<line x1="293.6" y1="62.3" x2="292.3" y2="62.3" stroke="#777" stroke-width="0.5" />
<line x1="189.3" y1="60.2" x2="191.8" y2="60.2" stroke="#777" stroke-width="0.5" />
<line x1="293.6" y1="60.2" x2="291.1" y2="60.2" stroke="#777" stroke-width="0.5" />
<line x1="189.3" y1="46.41" x2="190.6" y2="46.41" stroke="#777" stroke-width="0.5" />
<line x1="293.6" y1="46.41" x2="292.3" y2="46.41" stroke="#777" stroke-width="0.5" />
<line x1="189.3" y1="38.35" x2="190.6" y2="38.35" stroke="#777" stroke-width="0.5" />
<line x1="293.6" y1="38.35" x2="292.3" y2="38.35" stroke="#777" stroke-width="0.5" />
<line x1="189.3" y1="32.63" x2="190.6" y2="32.63" stroke="#777" stroke-width="0.5" />
<line x1="293.6" y1="32.63" x2="292.3" y2="32.63" stroke="#777" stroke-width="0.5" />
<line x1="189.3" y1="28.19" x2="190.6" y2="28.19" stroke="#777" stroke-width="0.5" />
<line x1="293.6" y1="28.19" x2="292.3" y2="28.19" stroke="#777" stroke-width="0.5" />
<line x1="189.3" y1="24.56" x2="190.6" y2="24.56" stroke="#777" stroke-width="0.5" />
<line x1="293.6" y1="24.56" x2="292.3" y2="24.56" stroke="#777" stroke-width="0.5" />
<line x1="189.3" y1="21.49" x2="190.6" y2="21.49" stroke="#777" stroke-width="0.5" />
<line x1="293.6" y1="21.49" x2="292.3" y2="21.49" stroke="#777" stroke-width="0.5" />
<line x1="189.3" y1="18.84" x2="190.6" y2="18.84" stroke="#777" stroke-width="0.5" />
<line x1="293.6" y1="18.84" x2="292.3" y2="18.84" stroke="#777" stroke-width="0.5" />
<line x1="189.3" y1="16.5" x2="190.6" y2="16.5" stroke="#777" stroke-width="0.5" />
<line x1="293.6" y1="16.5" x2="292.3" y2="16.5" stroke="#777" stroke-width="0.5" />
<line x1="189.3" y1="14.4" x2="191.8" y2="14.4" stroke="#777" stroke-width="0.5" />
<line x1="293.6" y1="14.4" x2="291.1" y2="14.4" stroke="#777" stroke-width="0.5" />
<text x="187" y="17" font-family="Liberation Sans" font-size="8.5" text-anchor="end" fill="#000" >10</text>
<text x="187" y="63" font-family="Liberation Sans" font-size="8.5" text-anchor="end" fill="#000" >1</text>
<text x="189.3" y="101.5" font-family="Liberation Sans" font-size="8.5" text-anchor="middle" fill="#000" >1</text>
<text x="247.8" y="101.5" font-family="Liberation Sans" font-size="8.5" text-anchor="middle" fill="#000" >10</text>
<text x="241.5" y="111" font-family="Liberation Sans" font-size="8.5" text-anchor="middle" fill="#000" >H (kOe)</text>
<text transform="translate(176.4,70) rotate(-90)" font-family="Liberation Sans" font-size="8.8">M<tspan font-size="5.5" dy="2">ab</tspan><tspan dy="-2"> (emu/cm</tspan><tspan font-size="5.5" dy="-3.5">3</tspan><tspan dy="3.5">)</tspan></text>
<polyline points="206.8,90.5 224.1,67.3 234.6,57 242.2,49.8 247.8,45 258,35.5 265.4,29.3 270.9,24.6 275.6,21.2 279.4,18.4 283,15.6 286.3,13.3 289,11.3" fill="none" stroke="#c00000" stroke-width="0.6" />
<rect x="205.7" y="89.4" width="2.2" height="2.2" fill="#e00000" stroke="#e00000" stroke-width="0.3"/>
<rect x="223" y="66.2" width="2.2" height="2.2" fill="#e00000" stroke="#e00000" stroke-width="0.3"/>
<rect x="233.5" y="55.9" width="2.2" height="2.2" fill="#e00000" stroke="#e00000" stroke-width="0.3"/>
<rect x="241.1" y="48.7" width="2.2" height="2.2" fill="#e00000" stroke="#e00000" stroke-width="0.3"/>
<rect x="246.7" y="43.9" width="2.2" height="2.2" fill="#e00000" stroke="#e00000" stroke-width="0.3"/>
<rect x="256.9" y="34.4" width="2.2" height="2.2" fill="#e00000" stroke="#e00000" stroke-width="0.3"/>
<rect x="264.3" y="28.2" width="2.2" height="2.2" fill="#e00000" stroke="#e00000" stroke-width="0.3"/>
<rect x="269.8" y="23.5" width="2.2" height="2.2" fill="#e00000" stroke="#e00000" stroke-width="0.3"/>
<rect x="274.5" y="20.1" width="2.2" height="2.2" fill="#e00000" stroke="#e00000" stroke-width="0.3"/>
<rect x="278.3" y="17.3" width="2.2" height="2.2" fill="#e00000" stroke="#e00000" stroke-width="0.3"/>
<rect x="281.9" y="14.5" width="2.2" height="2.2" fill="#e00000" stroke="#e00000" stroke-width="0.3"/>
<rect x="285.2" y="12.2" width="2.2" height="2.2" fill="#e00000" stroke="#e00000" stroke-width="0.3"/>
<rect x="287.9" y="10.2" width="2.2" height="2.2" fill="#e00000" stroke="#e00000" stroke-width="0.3"/>
<polyline points="206.8,65.1 224.1,55.6 234.6,49.1 242.2,44.2 247.8,40.9 258,33.9 265.4,28.7 270.9,24.1 275.6,20.7 279.4,18 283,15.2 286.3,13 289,11.1" fill="none" stroke="#c00000" stroke-width="0.6" />
<rect x="205.7" y="64" width="2.2" height="2.2" fill="#e00000" stroke="#e00000" stroke-width="0.3"/>
<rect x="223" y="54.5" width="2.2" height="2.2" fill="#e00000" stroke="#e00000" stroke-width="0.3"/>
<rect x="233.5" y="48" width="2.2" height="2.2" fill="#e00000" stroke="#e00000" stroke-width="0.3"/>
<rect x="241.1" y="43.1" width="2.2" height="2.2" fill="#e00000" stroke="#e00000" stroke-width="0.3"/>
<rect x="246.7" y="39.8" width="2.2" height="2.2" fill="#e00000" stroke="#e00000" stroke-width="0.3"/>
<rect x="256.9" y="32.8" width="2.2" height="2.2" fill="#e00000" stroke="#e00000" stroke-width="0.3"/>
<rect x="264.3" y="27.6" width="2.2" height="2.2" fill="#e00000" stroke="#e00000" stroke-width="0.3"/>
<rect x="269.8" y="23" width="2.2" height="2.2" fill="#e00000" stroke="#e00000" stroke-width="0.3"/>
<rect x="274.5" y="19.6" width="2.2" height="2.2" fill="#e00000" stroke="#e00000" stroke-width="0.3"/>
<rect x="278.3" y="16.9" width="2.2" height="2.2" fill="#e00000" stroke="#e00000" stroke-width="0.3"/>
<rect x="281.9" y="14.1" width="2.2" height="2.2" fill="#e00000" stroke="#e00000" stroke-width="0.3"/>
<rect x="285.2" y="11.9" width="2.2" height="2.2" fill="#e00000" stroke="#e00000" stroke-width="0.3"/>
<rect x="287.9" y="10" width="2.2" height="2.2" fill="#e00000" stroke="#e00000" stroke-width="0.3"/>
<polyline points="206.8,74.5 229.6,56 247.8,41.9 258,34 265.4,28.3 270.9,23.6 275.6,20.1 279.4,17.3 283,14.6 286.3,12.3 289,10.4" fill="none" stroke="#2020e0" stroke-width="0.6" />
<polygon points="206.8,73.07 208.23,75.54 205.37,75.54" fill="#0000e0" stroke="#0000e0" stroke-width="0.3" stroke-linejoin="miter"/>
<polygon points="229.6,54.57 231.03,57.04 228.17,57.04" fill="#0000e0" stroke="#0000e0" stroke-width="0.3" stroke-linejoin="miter"/>
<polygon points="247.8,40.47 249.23,42.94 246.37,42.94" fill="#0000e0" stroke="#0000e0" stroke-width="0.3" stroke-linejoin="miter"/>
<polygon points="258,32.57 259.43,35.04 256.57,35.04" fill="#0000e0" stroke="#0000e0" stroke-width="0.3" stroke-linejoin="miter"/>
<polygon points="265.4,26.87 266.83,29.34 263.97,29.34" fill="#0000e0" stroke="#0000e0" stroke-width="0.3" stroke-linejoin="miter"/>
<polygon points="270.9,22.17 272.33,24.64 269.47,24.64" fill="#0000e0" stroke="#0000e0" stroke-width="0.3" stroke-linejoin="miter"/>
<polygon points="275.6,18.67 277.03,21.14 274.17,21.14" fill="#0000e0" stroke="#0000e0" stroke-width="0.3" stroke-linejoin="miter"/>
<polygon points="279.4,15.87 280.83,18.34 277.97,18.34" fill="#0000e0" stroke="#0000e0" stroke-width="0.3" stroke-linejoin="miter"/>
<polygon points="283,13.17 284.43,15.64 281.57,15.64" fill="#0000e0" stroke="#0000e0" stroke-width="0.3" stroke-linejoin="miter"/>
<polygon points="286.3,10.87 287.73,13.34 284.87,13.34" fill="#0000e0" stroke="#0000e0" stroke-width="0.3" stroke-linejoin="miter"/>
<polygon points="289,8.97 290.43,11.44 287.57,11.44" fill="#0000e0" stroke="#0000e0" stroke-width="0.3" stroke-linejoin="miter"/>
<line x1="194.9" y1="13.6" x2="213.9" y2="13.6" stroke="#000" stroke-width="0.6" />
<rect x="202.55" y="11.45" width="4.3" height="4.3" fill="#000" stroke="#000" stroke-width="0.7"/>
<line x1="194.9" y1="23.3" x2="213.9" y2="23.3" stroke="#e00000" stroke-width="0.6" />
<circle cx="204.7" cy="23.3" r="2.8" fill="#f00000" stroke="#f00000" stroke-width="0.7"/>
<line x1="194.9" y1="33" x2="213.9" y2="33" stroke="#8888ff" stroke-width="0.6" />
<polygon points="204.7,29.92 207.78,35.24 201.62,35.24" fill="#0000f0" stroke="#0000f0" stroke-width="0.7" stroke-linejoin="miter"/>
<text x="216.3" y="16.7" font-family="Liberation Sans" font-size="8.5" text-anchor="start" fill="#000" >8</text>
<text x="228.3" y="16.7" font-family="Liberation Sans" font-size="8.5" text-anchor="start" fill="#000" >K</text>
<text x="216.3" y="26.4" font-family="Liberation Sans" font-size="8.5" text-anchor="start" fill="#000" >9</text>
<text x="228.3" y="26.4" font-family="Liberation Sans" font-size="8.5" text-anchor="start" fill="#000" >K</text>
<text x="216.3" y="36.1" font-family="Liberation Sans" font-size="8.5" text-anchor="start" fill="#000" >40</text>
<text x="228.3" y="36.1" font-family="Liberation Sans" font-size="8.5" text-anchor="start" fill="#000" >K</text>
<polyline points="44.8,307.9 49.85,334.5 54.9,341 59.95,346 65,347.5 70.06,348.8 75.11,349.4 80.16,350 85.21,350.5 90.26,350.8 95.31,351.2 105.41,351.2 115.51,351.5 125.62,351.1 135.72,350.4 145.82,351.9 155.92,353 166.02,354.8 176.13,356.7 186.23,357.4 196.33,359.3 206.43,360.4 216.53,365.2 226.64,367.8 236.74,371.5 246.84,376.4 256.94,380.9 267.04,386 277.15,391.5 287.25,404.3 290.53,409.1 293.06,410.8 295.33,411.7" fill="none" stroke="#4a9ad0" stroke-width="0.8" />
<polygon points="44.8,310.21 47.11,306.22 42.49,306.22" fill="#1a6ebe" stroke="#1a6ebe" stroke-width="0.7" stroke-linejoin="miter"/>
<polygon points="49.85,336.81 52.16,332.82 47.54,332.82" fill="#1a6ebe" stroke="#1a6ebe" stroke-width="0.7" stroke-linejoin="miter"/>
<polygon points="54.9,343.31 57.21,339.32 52.59,339.32" fill="#1a6ebe" stroke="#1a6ebe" stroke-width="0.7" stroke-linejoin="miter"/>
<polygon points="59.95,348.31 62.26,344.32 57.64,344.32" fill="#1a6ebe" stroke="#1a6ebe" stroke-width="0.7" stroke-linejoin="miter"/>
<polygon points="65,349.81 67.31,345.82 62.69,345.82" fill="#1a6ebe" stroke="#1a6ebe" stroke-width="0.7" stroke-linejoin="miter"/>
<polygon points="70.06,351.11 72.37,347.12 67.75,347.12" fill="#1a6ebe" stroke="#1a6ebe" stroke-width="0.7" stroke-linejoin="miter"/>
<polygon points="75.11,351.71 77.42,347.72 72.8,347.72" fill="#1a6ebe" stroke="#1a6ebe" stroke-width="0.7" stroke-linejoin="miter"/>
<polygon points="80.16,352.31 82.47,348.32 77.85,348.32" fill="#1a6ebe" stroke="#1a6ebe" stroke-width="0.7" stroke-linejoin="miter"/>
<polygon points="85.21,352.81 87.52,348.82 82.9,348.82" fill="#1a6ebe" stroke="#1a6ebe" stroke-width="0.7" stroke-linejoin="miter"/>
<polygon points="90.26,353.11 92.57,349.12 87.95,349.12" fill="#1a6ebe" stroke="#1a6ebe" stroke-width="0.7" stroke-linejoin="miter"/>
<polygon points="95.31,353.51 97.62,349.52 93,349.52" fill="#1a6ebe" stroke="#1a6ebe" stroke-width="0.7" stroke-linejoin="miter"/>
<polygon points="105.41,353.51 107.72,349.52 103.1,349.52" fill="#1a6ebe" stroke="#1a6ebe" stroke-width="0.7" stroke-linejoin="miter"/>
<polygon points="115.51,353.81 117.82,349.82 113.2,349.82" fill="#1a6ebe" stroke="#1a6ebe" stroke-width="0.7" stroke-linejoin="miter"/>
<polygon points="125.62,353.41 127.93,349.42 123.31,349.42" fill="#1a6ebe" stroke="#1a6ebe" stroke-width="0.7" stroke-linejoin="miter"/>
<polygon points="135.72,352.71 138.03,348.72 133.41,348.72" fill="#1a6ebe" stroke="#1a6ebe" stroke-width="0.7" stroke-linejoin="miter"/>
<polygon points="145.82,354.21 148.13,350.22 143.51,350.22" fill="#1a6ebe" stroke="#1a6ebe" stroke-width="0.7" stroke-linejoin="miter"/>
<polygon points="155.92,355.31 158.23,351.32 153.61,351.32" fill="#1a6ebe" stroke="#1a6ebe" stroke-width="0.7" stroke-linejoin="miter"/>
<polygon points="166.02,357.11 168.33,353.12 163.71,353.12" fill="#1a6ebe" stroke="#1a6ebe" stroke-width="0.7" stroke-linejoin="miter"/>
<polygon points="176.13,359.01 178.44,355.02 173.82,355.02" fill="#1a6ebe" stroke="#1a6ebe" stroke-width="0.7" stroke-linejoin="miter"/>
<polygon points="186.23,359.71 188.54,355.72 183.92,355.72" fill="#1a6ebe" stroke="#1a6ebe" stroke-width="0.7" stroke-linejoin="miter"/>
<polygon points="196.33,361.61 198.64,357.62 194.02,357.62" fill="#1a6ebe" stroke="#1a6ebe" stroke-width="0.7" stroke-linejoin="miter"/>
<polygon points="206.43,362.71 208.74,358.72 204.12,358.72" fill="#1a6ebe" stroke="#1a6ebe" stroke-width="0.7" stroke-linejoin="miter"/>
<polygon points="216.53,367.51 218.84,363.52 214.22,363.52" fill="#1a6ebe" stroke="#1a6ebe" stroke-width="0.7" stroke-linejoin="miter"/>
<polygon points="226.64,370.11 228.95,366.12 224.33,366.12" fill="#1a6ebe" stroke="#1a6ebe" stroke-width="0.7" stroke-linejoin="miter"/>
<polygon points="236.74,373.81 239.05,369.82 234.43,369.82" fill="#1a6ebe" stroke="#1a6ebe" stroke-width="0.7" stroke-linejoin="miter"/>
<polygon points="246.84,378.71 249.15,374.72 244.53,374.72" fill="#1a6ebe" stroke="#1a6ebe" stroke-width="0.7" stroke-linejoin="miter"/>
<polygon points="256.94,383.21 259.25,379.22 254.63,379.22" fill="#1a6ebe" stroke="#1a6ebe" stroke-width="0.7" stroke-linejoin="miter"/>
<polygon points="267.04,388.31 269.35,384.32 264.73,384.32" fill="#1a6ebe" stroke="#1a6ebe" stroke-width="0.7" stroke-linejoin="miter"/>
<polygon points="277.15,393.81 279.46,389.82 274.84,389.82" fill="#1a6ebe" stroke="#1a6ebe" stroke-width="0.7" stroke-linejoin="miter"/>
<polygon points="287.25,406.61 289.56,402.62 284.94,402.62" fill="#1a6ebe" stroke="#1a6ebe" stroke-width="0.7" stroke-linejoin="miter"/>
<polygon points="290.53,411.41 292.84,407.42 288.22,407.42" fill="#1a6ebe" stroke="#1a6ebe" stroke-width="0.7" stroke-linejoin="miter"/>
<polygon points="293.06,413.11 295.37,409.12 290.75,409.12" fill="#1a6ebe" stroke="#1a6ebe" stroke-width="0.7" stroke-linejoin="miter"/>
<polygon points="295.33,414.01 297.64,410.02 293.02,410.02" fill="#1a6ebe" stroke="#1a6ebe" stroke-width="0.7" stroke-linejoin="miter"/>
<polyline points="44.8,298.6 49.85,321.5 54.9,327.5 59.95,330.3 65,332.2 70.06,333.2 75.11,333.8 80.16,333.8 85.21,334.2 90.26,334.2 95.31,334.5 105.41,334.5 115.51,335.5 125.62,335.2 135.72,334.8 145.82,334.4 155.92,333.7 166.02,334.4 176.13,333.3 186.23,333 196.33,332.6 206.43,332.6 216.53,332.2 226.64,332.2 236.74,332.1 246.84,332 256.94,332.3 267.04,332.6 277.15,333 287.25,333.3 290.53,333.5 293.06,333.6 295.33,333.7" fill="none" stroke="#50c090" stroke-width="0.8" />
<polygon points="44.8,296.29 47.11,300.28 42.49,300.28" fill="#1ea06e" stroke="#1ea06e" stroke-width="0.7" stroke-linejoin="miter"/>
<polygon points="49.85,319.19 52.16,323.18 47.54,323.18" fill="#1ea06e" stroke="#1ea06e" stroke-width="0.7" stroke-linejoin="miter"/>
<polygon points="54.9,325.19 57.21,329.18 52.59,329.18" fill="#1ea06e" stroke="#1ea06e" stroke-width="0.7" stroke-linejoin="miter"/>
<polygon points="59.95,327.99 62.26,331.98 57.64,331.98" fill="#1ea06e" stroke="#1ea06e" stroke-width="0.7" stroke-linejoin="miter"/>
<polygon points="65,329.89 67.31,333.88 62.69,333.88" fill="#1ea06e" stroke="#1ea06e" stroke-width="0.7" stroke-linejoin="miter"/>
<polygon points="70.06,330.89 72.37,334.88 67.75,334.88" fill="#1ea06e" stroke="#1ea06e" stroke-width="0.7" stroke-linejoin="miter"/>
<polygon points="75.11,331.49 77.42,335.48 72.8,335.48" fill="#1ea06e" stroke="#1ea06e" stroke-width="0.7" stroke-linejoin="miter"/>
<polygon points="80.16,331.49 82.47,335.48 77.85,335.48" fill="#1ea06e" stroke="#1ea06e" stroke-width="0.7" stroke-linejoin="miter"/>
<polygon points="85.21,331.89 87.52,335.88 82.9,335.88" fill="#1ea06e" stroke="#1ea06e" stroke-width="0.7" stroke-linejoin="miter"/>
<polygon points="90.26,331.89 92.57,335.88 87.95,335.88" fill="#1ea06e" stroke="#1ea06e" stroke-width="0.7" stroke-linejoin="miter"/>
<polygon points="95.31,332.19 97.62,336.18 93,336.18" fill="#1ea06e" stroke="#1ea06e" stroke-width="0.7" stroke-linejoin="miter"/>
<polygon points="105.41,332.19 107.72,336.18 103.1,336.18" fill="#1ea06e" stroke="#1ea06e" stroke-width="0.7" stroke-linejoin="miter"/>
<polygon points="115.51,333.19 117.82,337.18 113.2,337.18" fill="#1ea06e" stroke="#1ea06e" stroke-width="0.7" stroke-linejoin="miter"/>
<polygon points="125.62,332.89 127.93,336.88 123.31,336.88" fill="#1ea06e" stroke="#1ea06e" stroke-width="0.7" stroke-linejoin="miter"/>
<polygon points="135.72,332.49 138.03,336.48 133.41,336.48" fill="#1ea06e" stroke="#1ea06e" stroke-width="0.7" stroke-linejoin="miter"/>
<polygon points="145.82,332.09 148.13,336.08 143.51,336.08" fill="#1ea06e" stroke="#1ea06e" stroke-width="0.7" stroke-linejoin="miter"/>
<polygon points="155.92,331.39 158.23,335.38 153.61,335.38" fill="#1ea06e" stroke="#1ea06e" stroke-width="0.7" stroke-linejoin="miter"/>
<polygon points="166.02,332.09 168.33,336.08 163.71,336.08" fill="#1ea06e" stroke="#1ea06e" stroke-width="0.7" stroke-linejoin="miter"/>
<polygon points="176.13,330.99 178.44,334.98 173.82,334.98" fill="#1ea06e" stroke="#1ea06e" stroke-width="0.7" stroke-linejoin="miter"/>
<polygon points="186.23,330.69 188.54,334.68 183.92,334.68" fill="#1ea06e" stroke="#1ea06e" stroke-width="0.7" stroke-linejoin="miter"/>
<polygon points="196.33,330.29 198.64,334.28 194.02,334.28" fill="#1ea06e" stroke="#1ea06e" stroke-width="0.7" stroke-linejoin="miter"/>
<polygon points="206.43,330.29 208.74,334.28 204.12,334.28" fill="#1ea06e" stroke="#1ea06e" stroke-width="0.7" stroke-linejoin="miter"/>
<polygon points="216.53,329.89 218.84,333.88 214.22,333.88" fill="#1ea06e" stroke="#1ea06e" stroke-width="0.7" stroke-linejoin="miter"/>
<polygon points="226.64,329.89 228.95,333.88 224.33,333.88" fill="#1ea06e" stroke="#1ea06e" stroke-width="0.7" stroke-linejoin="miter"/>
<polygon points="236.74,329.79 239.05,333.78 234.43,333.78" fill="#1ea06e" stroke="#1ea06e" stroke-width="0.7" stroke-linejoin="miter"/>
<polygon points="246.84,329.69 249.15,333.68 244.53,333.68" fill="#1ea06e" stroke="#1ea06e" stroke-width="0.7" stroke-linejoin="miter"/>
<polygon points="256.94,329.99 259.25,333.98 254.63,333.98" fill="#1ea06e" stroke="#1ea06e" stroke-width="0.7" stroke-linejoin="miter"/>
<polygon points="267.04,330.29 269.35,334.28 264.73,334.28" fill="#1ea06e" stroke="#1ea06e" stroke-width="0.7" stroke-linejoin="miter"/>
<polygon points="277.15,330.69 279.46,334.68 274.84,334.68" fill="#1ea06e" stroke="#1ea06e" stroke-width="0.7" stroke-linejoin="miter"/>
<polygon points="287.25,330.99 289.56,334.98 284.94,334.98" fill="#1ea06e" stroke="#1ea06e" stroke-width="0.7" stroke-linejoin="miter"/>
<polygon points="290.53,331.19 292.84,335.18 288.22,335.18" fill="#1ea06e" stroke="#1ea06e" stroke-width="0.7" stroke-linejoin="miter"/>
<polygon points="293.06,331.29 295.37,335.28 290.75,335.28" fill="#1ea06e" stroke="#1ea06e" stroke-width="0.7" stroke-linejoin="miter"/>
<polygon points="295.33,331.39 297.64,335.38 293.02,335.38" fill="#1ea06e" stroke="#1ea06e" stroke-width="0.7" stroke-linejoin="miter"/>
<polyline points="44.8,290.5 49.85,308.9 54.9,316.3 59.95,320.3 65,322.7 70.06,323.3 75.11,324 80.16,325 85.21,325.5 90.26,325.75 95.31,325.75 105.41,325 115.51,325.2 125.62,325.5 135.72,326.2 145.82,324.8 155.92,324.4 166.02,324.1 176.13,323.7 186.23,323 196.33,322.6 206.43,322.6 216.53,322.2 226.64,321.9 236.74,321.8 246.84,321.5 256.94,321.2 267.04,320.8 277.15,320.5 287.25,320 290.53,319.6 293.06,319.4 295.33,319.3" fill="none" stroke="#f4b07a" stroke-width="0.8" />
<rect x="42.9" y="288.6" width="3.8" height="3.8" fill="#f0964a" stroke="#f0964a" stroke-width="0.7"/>
<rect x="47.95" y="307" width="3.8" height="3.8" fill="#f0964a" stroke="#f0964a" stroke-width="0.7"/>
<rect x="53" y="314.4" width="3.8" height="3.8" fill="#f0964a" stroke="#f0964a" stroke-width="0.7"/>
<rect x="58.05" y="318.4" width="3.8" height="3.8" fill="#f0964a" stroke="#f0964a" stroke-width="0.7"/>
<rect x="63.1" y="320.8" width="3.8" height="3.8" fill="#f0964a" stroke="#f0964a" stroke-width="0.7"/>
<rect x="68.16" y="321.4" width="3.8" height="3.8" fill="#f0964a" stroke="#f0964a" stroke-width="0.7"/>
<rect x="73.21" y="322.1" width="3.8" height="3.8" fill="#f0964a" stroke="#f0964a" stroke-width="0.7"/>
<rect x="78.26" y="323.1" width="3.8" height="3.8" fill="#f0964a" stroke="#f0964a" stroke-width="0.7"/>
<rect x="83.31" y="323.6" width="3.8" height="3.8" fill="#f0964a" stroke="#f0964a" stroke-width="0.7"/>
<rect x="88.36" y="323.85" width="3.8" height="3.8" fill="#f0964a" stroke="#f0964a" stroke-width="0.7"/>
<rect x="93.41" y="323.85" width="3.8" height="3.8" fill="#f0964a" stroke="#f0964a" stroke-width="0.7"/>
<rect x="103.51" y="323.1" width="3.8" height="3.8" fill="#f0964a" stroke="#f0964a" stroke-width="0.7"/>
<rect x="113.61" y="323.3" width="3.8" height="3.8" fill="#f0964a" stroke="#f0964a" stroke-width="0.7"/>
<rect x="123.72" y="323.6" width="3.8" height="3.8" fill="#f0964a" stroke="#f0964a" stroke-width="0.7"/>
<rect x="133.82" y="324.3" width="3.8" height="3.8" fill="#f0964a" stroke="#f0964a" stroke-width="0.7"/>
<rect x="143.92" y="322.9" width="3.8" height="3.8" fill="#f0964a" stroke="#f0964a" stroke-width="0.7"/>
<rect x="154.02" y="322.5" width="3.8" height="3.8" fill="#f0964a" stroke="#f0964a" stroke-width="0.7"/>
<rect x="164.12" y="322.2" width="3.8" height="3.8" fill="#f0964a" stroke="#f0964a" stroke-width="0.7"/>
<rect x="174.23" y="321.8" width="3.8" height="3.8" fill="#f0964a" stroke="#f0964a" stroke-width="0.7"/>
<rect x="184.33" y="321.1" width="3.8" height="3.8" fill="#f0964a" stroke="#f0964a" stroke-width="0.7"/>
<rect x="194.43" y="320.7" width="3.8" height="3.8" fill="#f0964a" stroke="#f0964a" stroke-width="0.7"/>
<rect x="204.53" y="320.7" width="3.8" height="3.8" fill="#f0964a" stroke="#f0964a" stroke-width="0.7"/>
<rect x="214.63" y="320.3" width="3.8" height="3.8" fill="#f0964a" stroke="#f0964a" stroke-width="0.7"/>
<rect x="224.74" y="320" width="3.8" height="3.8" fill="#f0964a" stroke="#f0964a" stroke-width="0.7"/>
<rect x="234.84" y="319.9" width="3.8" height="3.8" fill="#f0964a" stroke="#f0964a" stroke-width="0.7"/>
<rect x="244.94" y="319.6" width="3.8" height="3.8" fill="#f0964a" stroke="#f0964a" stroke-width="0.7"/>
<rect x="255.04" y="319.3" width="3.8" height="3.8" fill="#f0964a" stroke="#f0964a" stroke-width="0.7"/>
<rect x="265.14" y="318.9" width="3.8" height="3.8" fill="#f0964a" stroke="#f0964a" stroke-width="0.7"/>
<rect x="275.25" y="318.6" width="3.8" height="3.8" fill="#f0964a" stroke="#f0964a" stroke-width="0.7"/>
<rect x="285.35" y="318.1" width="3.8" height="3.8" fill="#f0964a" stroke="#f0964a" stroke-width="0.7"/>
<rect x="288.63" y="317.7" width="3.8" height="3.8" fill="#f0964a" stroke="#f0964a" stroke-width="0.7"/>
<rect x="291.16" y="317.5" width="3.8" height="3.8" fill="#f0964a" stroke="#f0964a" stroke-width="0.7"/>
<rect x="293.43" y="317.4" width="3.8" height="3.8" fill="#f0964a" stroke="#f0964a" stroke-width="0.7"/>
<polyline points="44.8,271.5 49.85,280.1 54.9,286.4 59.95,290 65,293.2 70.06,296.2 75.11,298 80.16,300 85.21,301.25 90.26,302.5 95.31,303.75 105.41,304.5 115.51,305.6 125.62,306 135.72,307 145.82,306.7 155.92,307 166.02,309 176.13,307.5 186.23,307 196.33,307 206.43,307 216.53,307 226.64,307 236.74,307 246.84,307 256.94,307 267.04,307 277.15,307 287.25,307 290.53,307 293.06,306.9 295.33,306.9" fill="none" stroke="#f05060" stroke-width="0.8" />
<circle cx="44.8" cy="271.5" r="2.15" fill="#e6001e" stroke="#e6001e" stroke-width="0.7"/>
<circle cx="49.85" cy="280.1" r="2.15" fill="#e6001e" stroke="#e6001e" stroke-width="0.7"/>
<circle cx="54.9" cy="286.4" r="2.15" fill="#e6001e" stroke="#e6001e" stroke-width="0.7"/>
<circle cx="59.95" cy="290" r="2.15" fill="#e6001e" stroke="#e6001e" stroke-width="0.7"/>
<circle cx="65" cy="293.2" r="2.15" fill="#e6001e" stroke="#e6001e" stroke-width="0.7"/>
<circle cx="70.06" cy="296.2" r="2.15" fill="#e6001e" stroke="#e6001e" stroke-width="0.7"/>
<circle cx="75.11" cy="298" r="2.15" fill="#e6001e" stroke="#e6001e" stroke-width="0.7"/>
<circle cx="80.16" cy="300" r="2.15" fill="#e6001e" stroke="#e6001e" stroke-width="0.7"/>
<circle cx="85.21" cy="301.25" r="2.15" fill="#e6001e" stroke="#e6001e" stroke-width="0.7"/>
<circle cx="90.26" cy="302.5" r="2.15" fill="#e6001e" stroke="#e6001e" stroke-width="0.7"/>
<circle cx="95.31" cy="303.75" r="2.15" fill="#e6001e" stroke="#e6001e" stroke-width="0.7"/>
<circle cx="105.41" cy="304.5" r="2.15" fill="#e6001e" stroke="#e6001e" stroke-width="0.7"/>
<circle cx="115.51" cy="305.6" r="2.15" fill="#e6001e" stroke="#e6001e" stroke-width="0.7"/>
<circle cx="125.62" cy="306" r="2.15" fill="#e6001e" stroke="#e6001e" stroke-width="0.7"/>
<circle cx="135.72" cy="307" r="2.15" fill="#e6001e" stroke="#e6001e" stroke-width="0.7"/>
<circle cx="145.82" cy="306.7" r="2.15" fill="#e6001e" stroke="#e6001e" stroke-width="0.7"/>
<circle cx="155.92" cy="307" r="2.15" fill="#e6001e" stroke="#e6001e" stroke-width="0.7"/>
<circle cx="166.02" cy="309" r="2.15" fill="#e6001e" stroke="#e6001e" stroke-width="0.7"/>
<circle cx="176.13" cy="307.5" r="2.15" fill="#e6001e" stroke="#e6001e" stroke-width="0.7"/>
<circle cx="186.23" cy="307" r="2.15" fill="#e6001e" stroke="#e6001e" stroke-width="0.7"/>
<circle cx="196.33" cy="307" r="2.15" fill="#e6001e" stroke="#e6001e" stroke-width="0.7"/>
<circle cx="206.43" cy="307" r="2.15" fill="#e6001e" stroke="#e6001e" stroke-width="0.7"/>
<circle cx="216.53" cy="307" r="2.15" fill="#e6001e" stroke="#e6001e" stroke-width="0.7"/>
<circle cx="226.64" cy="307" r="2.15" fill="#e6001e" stroke="#e6001e" stroke-width="0.7"/>
<circle cx="236.74" cy="307" r="2.15" fill="#e6001e" stroke="#e6001e" stroke-width="0.7"/>
<circle cx="246.84" cy="307" r="2.15" fill="#e6001e" stroke="#e6001e" stroke-width="0.7"/>
<circle cx="256.94" cy="307" r="2.15" fill="#e6001e" stroke="#e6001e" stroke-width="0.7"/>
<circle cx="267.04" cy="307" r="2.15" fill="#e6001e" stroke="#e6001e" stroke-width="0.7"/>
<circle cx="277.15" cy="307" r="2.15" fill="#e6001e" stroke="#e6001e" stroke-width="0.7"/>
<circle cx="287.25" cy="307" r="2.15" fill="#e6001e" stroke="#e6001e" stroke-width="0.7"/>
<circle cx="290.53" cy="307" r="2.15" fill="#e6001e" stroke="#e6001e" stroke-width="0.7"/>
<circle cx="293.06" cy="306.9" r="2.15" fill="#e6001e" stroke="#e6001e" stroke-width="0.7"/>
<circle cx="295.33" cy="306.9" r="2.15" fill="#e6001e" stroke="#e6001e" stroke-width="0.7"/>
<polyline points="44.7,334.7 49.8,372.2 54.8,384.5 59.6,398.6 64.8,412.5" fill="none" stroke="#a040a0" stroke-width="0.8" />
<polygon points="42.23,334.7 46.5,332.22 46.5,337.18" fill="#8c0a8c" stroke="#8c0a8c" stroke-width="0.7" stroke-linejoin="miter"/>
<polygon points="47.32,372.2 51.6,369.72 51.6,374.68" fill="#8c0a8c" stroke="#8c0a8c" stroke-width="0.7" stroke-linejoin="miter"/>
<polygon points="52.32,384.5 56.6,382.02 56.6,386.98" fill="#8c0a8c" stroke="#8c0a8c" stroke-width="0.7" stroke-linejoin="miter"/>
<polygon points="57.12,398.6 61.4,396.12 61.4,401.08" fill="#8c0a8c" stroke="#8c0a8c" stroke-width="0.7" stroke-linejoin="miter"/>
<polygon points="62.32,412.5 66.6,410.02 66.6,414.98" fill="#8c0a8c" stroke="#8c0a8c" stroke-width="0.7" stroke-linejoin="miter"/>
<rect x="44.7" y="240.3" width="252.1" height="188.5" fill="none" stroke="#555" stroke-width="1.1"/>
<line x1="104" y1="428.8" x2="296.8" y2="428.8" stroke="#3a3aa0" stroke-width="1.1" stroke-dasharray="1.2,0.6"/>
<line x1="44.8" y1="428.8" x2="44.8" y2="426.3" stroke="#555" stroke-width="0.9" />
<line x1="44.8" y1="240.3" x2="44.8" y2="242.8" stroke="#555" stroke-width="0.9" />
<text x="44.8" y="442.8" font-family="Liberation Sans" font-size="11.5" text-anchor="middle" fill="#222" >0</text>
<line x1="95.31" y1="428.8" x2="95.31" y2="426.3" stroke="#555" stroke-width="0.9" />
<line x1="95.31" y1="240.3" x2="95.31" y2="242.8" stroke="#555" stroke-width="0.9" />
<text x="95.31" y="442.8" font-family="Liberation Sans" font-size="11.5" text-anchor="middle" fill="#222" >10</text>
<line x1="145.82" y1="428.8" x2="145.82" y2="426.3" stroke="#555" stroke-width="0.9" />
<line x1="145.82" y1="240.3" x2="145.82" y2="242.8" stroke="#555" stroke-width="0.9" />
<text x="145.82" y="442.8" font-family="Liberation Sans" font-size="11.5" text-anchor="middle" fill="#222" >20</text>
<line x1="196.33" y1="428.8" x2="196.33" y2="426.3" stroke="#555" stroke-width="0.9" />
<line x1="196.33" y1="240.3" x2="196.33" y2="242.8" stroke="#555" stroke-width="0.9" />
<text x="196.33" y="442.8" font-family="Liberation Sans" font-size="11.5" text-anchor="middle" fill="#222" >30</text>
<line x1="246.84" y1="428.8" x2="246.84" y2="426.3" stroke="#555" stroke-width="0.9" />
<line x1="246.84" y1="240.3" x2="246.84" y2="242.8" stroke="#555" stroke-width="0.9" />
<text x="246.84" y="442.8" font-family="Liberation Sans" font-size="11.5" text-anchor="middle" fill="#222" >40</text>
<line x1="297.35" y1="428.8" x2="297.35" y2="426.3" stroke="#555" stroke-width="0.9" />
<line x1="297.35" y1="240.3" x2="297.35" y2="242.8" stroke="#555" stroke-width="0.9" />
<text x="297.35" y="442.8" font-family="Liberation Sans" font-size="11.5" text-anchor="middle" fill="#222" >50</text>
<line x1="44.7" y1="428.79" x2="46.7" y2="428.79" stroke="#555" stroke-width="0.8" />
<line x1="296.8" y1="428.79" x2="294.8" y2="428.79" stroke="#555" stroke-width="0.8" />
<line x1="44.7" y1="424.27" x2="46.7" y2="424.27" stroke="#555" stroke-width="0.8" />
<line x1="296.8" y1="424.27" x2="294.8" y2="424.27" stroke="#555" stroke-width="0.8" />
<line x1="44.7" y1="420.44" x2="46.7" y2="420.44" stroke="#555" stroke-width="0.8" />
<line x1="296.8" y1="420.44" x2="294.8" y2="420.44" stroke="#555" stroke-width="0.8" />
<line x1="44.7" y1="417.13" x2="46.7" y2="417.13" stroke="#555" stroke-width="0.8" />
<line x1="296.8" y1="417.13" x2="294.8" y2="417.13" stroke="#555" stroke-width="0.8" />
<line x1="44.7" y1="414.21" x2="46.7" y2="414.21" stroke="#555" stroke-width="0.8" />
<line x1="296.8" y1="414.21" x2="294.8" y2="414.21" stroke="#555" stroke-width="0.8" />
<line x1="44.7" y1="411.6" x2="48.2" y2="411.6" stroke="#555" stroke-width="0.8" />
<line x1="296.8" y1="411.6" x2="293.3" y2="411.6" stroke="#555" stroke-width="0.8" />
<line x1="44.7" y1="394.41" x2="46.7" y2="394.41" stroke="#555" stroke-width="0.8" />
<line x1="296.8" y1="394.41" x2="294.8" y2="394.41" stroke="#555" stroke-width="0.8" />
<line x1="44.7" y1="384.36" x2="46.7" y2="384.36" stroke="#555" stroke-width="0.8" />
<line x1="296.8" y1="384.36" x2="294.8" y2="384.36" stroke="#555" stroke-width="0.8" />
<line x1="44.7" y1="377.22" x2="46.7" y2="377.22" stroke="#555" stroke-width="0.8" />
<line x1="296.8" y1="377.22" x2="294.8" y2="377.22" stroke="#555" stroke-width="0.8" />
<line x1="44.7" y1="371.69" x2="46.7" y2="371.69" stroke="#555" stroke-width="0.8" />
<line x1="296.8" y1="371.69" x2="294.8" y2="371.69" stroke="#555" stroke-width="0.8" />
<line x1="44.7" y1="367.17" x2="46.7" y2="367.17" stroke="#555" stroke-width="0.8" />
<line x1="296.8" y1="367.17" x2="294.8" y2="367.17" stroke="#555" stroke-width="0.8" />
<line x1="44.7" y1="363.34" x2="46.7" y2="363.34" stroke="#555" stroke-width="0.8" />
<line x1="296.8" y1="363.34" x2="294.8" y2="363.34" stroke="#555" stroke-width="0.8" />
<line x1="44.7" y1="360.03" x2="46.7" y2="360.03" stroke="#555" stroke-width="0.8" />
<line x1="296.8" y1="360.03" x2="294.8" y2="360.03" stroke="#555" stroke-width="0.8" />
<line x1="44.7" y1="357.11" x2="46.7" y2="357.11" stroke="#555" stroke-width="0.8" />
<line x1="296.8" y1="357.11" x2="294.8" y2="357.11" stroke="#555" stroke-width="0.8" />
<line x1="44.7" y1="354.5" x2="48.2" y2="354.5" stroke="#555" stroke-width="0.8" />
<line x1="296.8" y1="354.5" x2="293.3" y2="354.5" stroke="#555" stroke-width="0.8" />
<line x1="44.7" y1="337.31" x2="46.7" y2="337.31" stroke="#555" stroke-width="0.8" />
<line x1="296.8" y1="337.31" x2="294.8" y2="337.31" stroke="#555" stroke-width="0.8" />
<line x1="44.7" y1="327.26" x2="46.7" y2="327.26" stroke="#555" stroke-width="0.8" />
<line x1="296.8" y1="327.26" x2="294.8" y2="327.26" stroke="#555" stroke-width="0.8" />
<line x1="44.7" y1="320.12" x2="46.7" y2="320.12" stroke="#555" stroke-width="0.8" />
<line x1="296.8" y1="320.12" x2="294.8" y2="320.12" stroke="#555" stroke-width="0.8" />
<line x1="44.7" y1="314.59" x2="46.7" y2="314.59" stroke="#555" stroke-width="0.8" />
<line x1="296.8" y1="314.59" x2="294.8" y2="314.59" stroke="#555" stroke-width="0.8" />
<line x1="44.7" y1="310.07" x2="46.7" y2="310.07" stroke="#555" stroke-width="0.8" />
<line x1="296.8" y1="310.07" x2="294.8" y2="310.07" stroke="#555" stroke-width="0.8" />
<line x1="44.7" y1="306.24" x2="46.7" y2="306.24" stroke="#555" stroke-width="0.8" />
<line x1="296.8" y1="306.24" x2="294.8" y2="306.24" stroke="#555" stroke-width="0.8" />
<line x1="44.7" y1="302.93" x2="46.7" y2="302.93" stroke="#555" stroke-width="0.8" />
<line x1="296.8" y1="302.93" x2="294.8" y2="302.93" stroke="#555" stroke-width="0.8" />
<line x1="44.7" y1="300.01" x2="46.7" y2="300.01" stroke="#555" stroke-width="0.8" />
<line x1="296.8" y1="300.01" x2="294.8" y2="300.01" stroke="#555" stroke-width="0.8" />
<line x1="44.7" y1="297.4" x2="48.2" y2="297.4" stroke="#555" stroke-width="0.8" />
<line x1="296.8" y1="297.4" x2="293.3" y2="297.4" stroke="#555" stroke-width="0.8" />
<line x1="44.7" y1="280.21" x2="46.7" y2="280.21" stroke="#555" stroke-width="0.8" />
<line x1="296.8" y1="280.21" x2="294.8" y2="280.21" stroke="#555" stroke-width="0.8" />
<line x1="44.7" y1="270.16" x2="46.7" y2="270.16" stroke="#555" stroke-width="0.8" />
<line x1="296.8" y1="270.16" x2="294.8" y2="270.16" stroke="#555" stroke-width="0.8" />
<line x1="44.7" y1="263.02" x2="46.7" y2="263.02" stroke="#555" stroke-width="0.8" />
<line x1="296.8" y1="263.02" x2="294.8" y2="263.02" stroke="#555" stroke-width="0.8" />
<line x1="44.7" y1="257.49" x2="46.7" y2="257.49" stroke="#555" stroke-width="0.8" />
<line x1="296.8" y1="257.49" x2="294.8" y2="257.49" stroke="#555" stroke-width="0.8" />
<line x1="44.7" y1="252.97" x2="46.7" y2="252.97" stroke="#555" stroke-width="0.8" />
<line x1="296.8" y1="252.97" x2="294.8" y2="252.97" stroke="#555" stroke-width="0.8" />
<line x1="44.7" y1="249.14" x2="46.7" y2="249.14" stroke="#555" stroke-width="0.8" />
<line x1="296.8" y1="249.14" x2="294.8" y2="249.14" stroke="#555" stroke-width="0.8" />
<line x1="44.7" y1="245.83" x2="46.7" y2="245.83" stroke="#555" stroke-width="0.8" />
<line x1="296.8" y1="245.83" x2="294.8" y2="245.83" stroke="#555" stroke-width="0.8" />
<line x1="44.7" y1="242.91" x2="46.7" y2="242.91" stroke="#555" stroke-width="0.8" />
<line x1="296.8" y1="242.91" x2="294.8" y2="242.91" stroke="#555" stroke-width="0.8" />
<text x="23.2" y="247" font-family="Liberation Sans" font-size="11.2" fill="#222" textLength="10.1" lengthAdjust="spacingAndGlyphs">10</text>
<text x="34.2" y="240.6" font-family="Liberation Sans" font-size="8.6" fill="#222">6</text>
<text x="39.8" y="304.7" font-family="Liberation Sans" font-size="12" text-anchor="end" fill="#222">10<tspan font-size="8.5" dy="-6.8">5</tspan></text>
<text x="39.8" y="361.8" font-family="Liberation Sans" font-size="12" text-anchor="end" fill="#222">10<tspan font-size="8.5" dy="-6.8">4</tspan></text>
<text x="39.8" y="418.9" font-family="Liberation Sans" font-size="12" text-anchor="end" fill="#222">10<tspan font-size="8.5" dy="-6.8">3</tspan></text>
<text x="3" y="252" font-family="Liberation Serif" font-size="16.5" text-anchor="start" fill="#000" >(b)</text>
<text transform="translate(17,363.3) rotate(-90)" font-family="Liberation Sans" font-size="13.2" fill="#222"><tspan font-style="italic">J</tspan><tspan font-size="8" dy="3">c</tspan><tspan dy="-3"> (A/cm</tspan><tspan font-size="8" dy="-5">2</tspan><tspan dy="5">)</tspan></text>
<text x="151.8" y="452.6" font-family="Liberation Sans" font-size="12" fill="#222"><tspan font-style="italic">H</tspan><tspan letter-spacing="0.35" dx="0.6">(kOe)</tspan></text>
<text x="79.3" y="270.4" font-family="Liberation Sans" font-size="11.5" fill="#222"><tspan font-style="italic">H</tspan></text>
<line x1="91.6" y1="261.5" x2="91.6" y2="271.8" stroke="#444" stroke-width="0.9" />
<line x1="94.4" y1="261.5" x2="94.4" y2="271.8" stroke="#444" stroke-width="0.9" />
<text x="101.3" y="270.4" font-family="Liberation Sans" font-size="11.5" font-style="italic" fill="#222">c</text>
<text x="216.9" y="418.2" font-family="Liberation Sans" font-size="11.3" fill="#222">FeTe<tspan font-size="8.6" dy="3.6">0.61</tspan><tspan dy="-3.6">Se</tspan><tspan font-size="8.6" dy="3.6">0.39</tspan></text>
<line x1="238.2" y1="251.3" x2="256.7" y2="251.3" stroke="#f05060" stroke-width="0.9" />
<circle cx="247.5" cy="251.3" r="2.8" fill="#e6001e" stroke="#e6001e" stroke-width="0.5"/>
<text x="261.9" y="254.4" font-family="Liberation Sans" font-size="9.5" text-anchor="start" fill="#222" >2 K</text>
<line x1="238.2" y1="262.3" x2="256.7" y2="262.3" stroke="#f4b07a" stroke-width="0.9" />
<rect x="244.5" y="259.3" width="6" height="6" fill="#f0964a" stroke="#f0964a" stroke-width="0.5"/>
<text x="261.9" y="265.4" font-family="Liberation Sans" font-size="9.5" text-anchor="start" fill="#222" >5 K</text>
<line x1="238.2" y1="273.3" x2="256.7" y2="273.3" stroke="#50c090" stroke-width="0.9" />
<polygon points="247.5,270 250.8,275.7 244.2,275.7" fill="#1ea06e" stroke="#1ea06e" stroke-width="0.5" stroke-linejoin="miter"/>
<text x="261.9" y="276.4" font-family="Liberation Sans" font-size="9.5" text-anchor="start" fill="#222" >7.5 K</text>
<line x1="238.2" y1="284.3" x2="256.7" y2="284.3" stroke="#4a9ad0" stroke-width="0.9" />
<polygon points="247.5,287.6 250.8,281.9 244.2,281.9" fill="#1a6ebe" stroke="#1a6ebe" stroke-width="0.5" stroke-linejoin="miter"/>
<text x="261.9" y="287.4" font-family="Liberation Sans" font-size="9.5" text-anchor="start" fill="#222" >10 K</text>
<line x1="238.2" y1="295.3" x2="256.7" y2="295.3" stroke="#a040a0" stroke-width="0.9" />
<polygon points="244.2,295.3 249.9,292 249.9,298.6" fill="#8c0a8c" stroke="#8c0a8c" stroke-width="0.5" stroke-linejoin="miter"/>
<text x="261.9" y="298.4" font-family="Liberation Sans" font-size="9.5" text-anchor="start" fill="#222" >12.5 K</text>
<g>
<polyline points="44.8,518 46.27,520.62 47.82,523.16 50.22,524.95 52.63,526.74 55.04,528.53 57.5,530.25 59.96,531.97 62.41,533.69 64.87,535.41 67.33,537.13 69.79,538.85 72.4,540.32 75.03,541.77 77.66,543.21 80.3,544.63 83.04,545.85 85.79,547.06 88.53,548.27 91.27,549.49 94.02,550.7 94.7,551 103.37,556.5 113.3,560.5 123.22,566.5 133.15,568.5 143.08,573.5 153.01,574.2 162.94,580.5 172.86,582.5 182.79,585.5 192.72,590 202.65,592.5 212.58,593 222.5,594 232.43,596 242.36,592.5 252.29,592.5 262.22,592.5 272.14,590.5 282.07,595 292,603.3" fill="none" stroke="#000" stroke-width="0.9" stroke-dasharray="3,1.2"/>
<rect x="42.7" y="515.9" width="4.2" height="4.2" fill="#fff" stroke="#000" stroke-width="0.6"/>
<rect x="44.17" y="518.52" width="4.2" height="4.2" fill="#fff" stroke="#000" stroke-width="0.6"/>
<rect x="45.72" y="521.06" width="4.2" height="4.2" fill="#fff" stroke="#000" stroke-width="0.6"/>
<rect x="48.12" y="522.85" width="4.2" height="4.2" fill="#fff" stroke="#000" stroke-width="0.6"/>
<rect x="50.53" y="524.64" width="4.2" height="4.2" fill="#fff" stroke="#000" stroke-width="0.6"/>
<rect x="52.94" y="526.43" width="4.2" height="4.2" fill="#fff" stroke="#000" stroke-width="0.6"/>
<rect x="55.4" y="528.15" width="4.2" height="4.2" fill="#fff" stroke="#000" stroke-width="0.6"/>
<rect x="57.86" y="529.87" width="4.2" height="4.2" fill="#fff" stroke="#000" stroke-width="0.6"/>
<rect x="60.31" y="531.59" width="4.2" height="4.2" fill="#fff" stroke="#000" stroke-width="0.6"/>
<rect x="62.77" y="533.31" width="4.2" height="4.2" fill="#fff" stroke="#000" stroke-width="0.6"/>
<rect x="65.23" y="535.03" width="4.2" height="4.2" fill="#fff" stroke="#000" stroke-width="0.6"/>
<rect x="67.69" y="536.75" width="4.2" height="4.2" fill="#fff" stroke="#000" stroke-width="0.6"/>
<rect x="70.3" y="538.22" width="4.2" height="4.2" fill="#fff" stroke="#000" stroke-width="0.6"/>
<rect x="72.93" y="539.67" width="4.2" height="4.2" fill="#fff" stroke="#000" stroke-width="0.6"/>
<rect x="75.56" y="541.11" width="4.2" height="4.2" fill="#fff" stroke="#000" stroke-width="0.6"/>
<rect x="78.2" y="542.53" width="4.2" height="4.2" fill="#fff" stroke="#000" stroke-width="0.6"/>
<rect x="80.94" y="543.75" width="4.2" height="4.2" fill="#fff" stroke="#000" stroke-width="0.6"/>
<rect x="83.69" y="544.96" width="4.2" height="4.2" fill="#fff" stroke="#000" stroke-width="0.6"/>
<rect x="86.43" y="546.17" width="4.2" height="4.2" fill="#fff" stroke="#000" stroke-width="0.6"/>
<rect x="89.17" y="547.39" width="4.2" height="4.2" fill="#fff" stroke="#000" stroke-width="0.6"/>
<rect x="91.92" y="548.6" width="4.2" height="4.2" fill="#fff" stroke="#000" stroke-width="0.6"/>
<rect x="92.6" y="548.9" width="4.2" height="4.2" fill="#fff" stroke="#000" stroke-width="0.6"/>
<rect x="101.27" y="554.4" width="4.2" height="4.2" fill="#fff" stroke="#000" stroke-width="0.6"/>
<rect x="111.2" y="558.4" width="4.2" height="4.2" fill="#fff" stroke="#000" stroke-width="0.6"/>
<rect x="121.12" y="564.4" width="4.2" height="4.2" fill="#fff" stroke="#000" stroke-width="0.6"/>
<rect x="131.05" y="566.4" width="4.2" height="4.2" fill="#fff" stroke="#000" stroke-width="0.6"/>
<rect x="140.98" y="571.4" width="4.2" height="4.2" fill="#fff" stroke="#000" stroke-width="0.6"/>
<rect x="150.91" y="572.1" width="4.2" height="4.2" fill="#fff" stroke="#000" stroke-width="0.6"/>
<rect x="160.84" y="578.4" width="4.2" height="4.2" fill="#fff" stroke="#000" stroke-width="0.6"/>
<rect x="170.76" y="580.4" width="4.2" height="4.2" fill="#fff" stroke="#000" stroke-width="0.6"/>
<rect x="180.69" y="583.4" width="4.2" height="4.2" fill="#fff" stroke="#000" stroke-width="0.6"/>
<rect x="190.62" y="587.9" width="4.2" height="4.2" fill="#fff" stroke="#000" stroke-width="0.6"/>
<rect x="200.55" y="590.4" width="4.2" height="4.2" fill="#fff" stroke="#000" stroke-width="0.6"/>
<rect x="210.48" y="590.9" width="4.2" height="4.2" fill="#fff" stroke="#000" stroke-width="0.6"/>
<rect x="220.4" y="591.9" width="4.2" height="4.2" fill="#fff" stroke="#000" stroke-width="0.6"/>
<rect x="230.33" y="593.9" width="4.2" height="4.2" fill="#fff" stroke="#000" stroke-width="0.6"/>
<rect x="240.26" y="590.4" width="4.2" height="4.2" fill="#fff" stroke="#000" stroke-width="0.6"/>
<rect x="250.19" y="590.4" width="4.2" height="4.2" fill="#fff" stroke="#000" stroke-width="0.6"/>
<rect x="260.12" y="590.4" width="4.2" height="4.2" fill="#fff" stroke="#000" stroke-width="0.6"/>
<rect x="270.04" y="588.4" width="4.2" height="4.2" fill="#fff" stroke="#000" stroke-width="0.6"/>
<rect x="279.97" y="592.9" width="4.2" height="4.2" fill="#fff" stroke="#000" stroke-width="0.6"/>
<rect x="289.9" y="601.2" width="4.2" height="4.2" fill="#fff" stroke="#000" stroke-width="0.6"/>
</g>
<g>
<polyline points="44.8,517 46.27,519.62 47.82,522.16 50.22,523.95 52.63,525.74 55.04,527.53 57.5,529.25 59.96,530.97 62.41,532.69 64.87,534.41 67.33,536.13 69.79,537.85 72.4,539.32 75.03,540.77 77.66,542.21 80.3,543.63 83.04,544.85 85.79,546.06 88.53,547.27 91.27,548.49 94.02,549.7 94.7,550 103.37,555.9 113.3,560 123.22,566 133.15,568 143.08,573 153.01,574 162.94,580 172.86,582 182.79,585 192.72,589 202.65,591 212.58,593 222.5,594.5 232.43,596.5 242.36,599.5 252.29,602.5 262.22,605 272.14,609.5 282.07,613.5" fill="none" stroke="#ff0000" stroke-width="0.9" />
<circle cx="44.8" cy="517" r="2.2" fill="#fff" stroke="#ff0000" stroke-width="0.5"/>
<circle cx="46.27" cy="519.62" r="2.2" fill="#fff" stroke="#ff0000" stroke-width="0.5"/>
<circle cx="47.82" cy="522.16" r="2.2" fill="#fff" stroke="#ff0000" stroke-width="0.5"/>
<circle cx="50.22" cy="523.95" r="2.2" fill="#fff" stroke="#ff0000" stroke-width="0.5"/>
<circle cx="52.63" cy="525.74" r="2.2" fill="#fff" stroke="#ff0000" stroke-width="0.5"/>
<circle cx="55.04" cy="527.53" r="2.2" fill="#fff" stroke="#ff0000" stroke-width="0.5"/>
<circle cx="57.5" cy="529.25" r="2.2" fill="#fff" stroke="#ff0000" stroke-width="0.5"/>
<circle cx="59.96" cy="530.97" r="2.2" fill="#fff" stroke="#ff0000" stroke-width="0.5"/>
<circle cx="62.41" cy="532.69" r="2.2" fill="#fff" stroke="#ff0000" stroke-width="0.5"/>
<circle cx="64.87" cy="534.41" r="2.2" fill="#fff" stroke="#ff0000" stroke-width="0.5"/>
<circle cx="67.33" cy="536.13" r="2.2" fill="#fff" stroke="#ff0000" stroke-width="0.5"/>
<circle cx="69.79" cy="537.85" r="2.2" fill="#fff" stroke="#ff0000" stroke-width="0.5"/>
<circle cx="72.4" cy="539.32" r="2.2" fill="#fff" stroke="#ff0000" stroke-width="0.5"/>
<circle cx="75.03" cy="540.77" r="2.2" fill="#fff" stroke="#ff0000" stroke-width="0.5"/>
<circle cx="77.66" cy="542.21" r="2.2" fill="#fff" stroke="#ff0000" stroke-width="0.5"/>
<circle cx="80.3" cy="543.63" r="2.2" fill="#fff" stroke="#ff0000" stroke-width="0.5"/>
<circle cx="83.04" cy="544.85" r="2.2" fill="#fff" stroke="#ff0000" stroke-width="0.5"/>
<circle cx="85.79" cy="546.06" r="2.2" fill="#fff" stroke="#ff0000" stroke-width="0.5"/>
<circle cx="88.53" cy="547.27" r="2.2" fill="#fff" stroke="#ff0000" stroke-width="0.5"/>
<circle cx="91.27" cy="548.49" r="2.2" fill="#fff" stroke="#ff0000" stroke-width="0.5"/>
<circle cx="94.02" cy="549.7" r="2.2" fill="#fff" stroke="#ff0000" stroke-width="0.5"/>
<circle cx="94.7" cy="550" r="2.2" fill="#fff" stroke="#ff0000" stroke-width="0.5"/>
<circle cx="103.37" cy="555.9" r="2.2" fill="#fff" stroke="#ff0000" stroke-width="0.5"/>
<circle cx="113.3" cy="560" r="2.2" fill="#fff" stroke="#ff0000" stroke-width="0.5"/>
<circle cx="123.22" cy="566" r="2.2" fill="#fff" stroke="#ff0000" stroke-width="0.5"/>
<circle cx="133.15" cy="568" r="2.2" fill="#fff" stroke="#ff0000" stroke-width="0.5"/>
<circle cx="143.08" cy="573" r="2.2" fill="#fff" stroke="#ff0000" stroke-width="0.5"/>
<circle cx="153.01" cy="574" r="2.2" fill="#fff" stroke="#ff0000" stroke-width="0.5"/>
<circle cx="162.94" cy="580" r="2.2" fill="#fff" stroke="#ff0000" stroke-width="0.5"/>
<circle cx="172.86" cy="582" r="2.2" fill="#fff" stroke="#ff0000" stroke-width="0.5"/>
<circle cx="182.79" cy="585" r="2.2" fill="#fff" stroke="#ff0000" stroke-width="0.5"/>
<circle cx="192.72" cy="589" r="2.2" fill="#fff" stroke="#ff0000" stroke-width="0.5"/>
<circle cx="202.65" cy="591" r="2.2" fill="#fff" stroke="#ff0000" stroke-width="0.5"/>
<circle cx="212.58" cy="593" r="2.2" fill="#fff" stroke="#ff0000" stroke-width="0.5"/>
<circle cx="222.5" cy="594.5" r="2.2" fill="#fff" stroke="#ff0000" stroke-width="0.5"/>
<circle cx="232.43" cy="596.5" r="2.2" fill="#fff" stroke="#ff0000" stroke-width="0.5"/>
<circle cx="242.36" cy="599.5" r="2.2" fill="#fff" stroke="#ff0000" stroke-width="0.5"/>
<circle cx="252.29" cy="602.5" r="2.2" fill="#fff" stroke="#ff0000" stroke-width="0.5"/>
<circle cx="262.22" cy="605" r="2.2" fill="#fff" stroke="#ff0000" stroke-width="0.5"/>
<circle cx="272.14" cy="609.5" r="2.2" fill="#fff" stroke="#ff0000" stroke-width="0.5"/>
<circle cx="282.07" cy="613.5" r="2.2" fill="#fff" stroke="#ff0000" stroke-width="0.5"/>
</g>
<g>
<polyline points="44.8,518 46.27,520.62 47.81,523.17 50.11,525.1 52.41,527.03 54.71,528.95 57.01,530.87 59.32,532.78 61.63,534.7 64.02,536.51 66.42,538.31 68.82,540.11 71.31,541.78 73.88,543.33 76.45,544.87 79.02,546.41 81.59,547.97 84.15,549.54 86.71,551.11 89.26,552.67 91.82,554.24 94.38,555.8 94.7,556 103.37,558.9 113.3,561.9 123.22,564.4 133.15,568.7 143.08,573 153.01,574.5 162.94,579 172.86,582 182.79,585 192.72,589 202.65,592 212.58,594 222.5,597 232.43,600.5 242.36,603 252.29,605 262.22,607 272.14,610.5 282.07,613.75" fill="none" stroke="#0000ff" stroke-width="0.9" />
<polygon points="44.8,515.47 47.33,519.84 42.27,519.84" fill="#fff" stroke="#0000ff" stroke-width="0.45" stroke-linejoin="miter"/>
<polygon points="46.27,518.09 48.8,522.46 43.74,522.46" fill="#fff" stroke="#0000ff" stroke-width="0.45" stroke-linejoin="miter"/>
<polygon points="47.81,520.64 50.34,525.01 45.28,525.01" fill="#fff" stroke="#0000ff" stroke-width="0.45" stroke-linejoin="miter"/>
<polygon points="50.11,522.57 52.64,526.94 47.58,526.94" fill="#fff" stroke="#0000ff" stroke-width="0.45" stroke-linejoin="miter"/>
<polygon points="52.41,524.5 54.94,528.87 49.88,528.87" fill="#fff" stroke="#0000ff" stroke-width="0.45" stroke-linejoin="miter"/>
<polygon points="54.71,526.42 57.24,530.79 52.18,530.79" fill="#fff" stroke="#0000ff" stroke-width="0.45" stroke-linejoin="miter"/>
<polygon points="57.01,528.34 59.54,532.71 54.48,532.71" fill="#fff" stroke="#0000ff" stroke-width="0.45" stroke-linejoin="miter"/>
<polygon points="59.32,530.25 61.85,534.62 56.79,534.62" fill="#fff" stroke="#0000ff" stroke-width="0.45" stroke-linejoin="miter"/>
<polygon points="61.63,532.17 64.16,536.54 59.1,536.54" fill="#fff" stroke="#0000ff" stroke-width="0.45" stroke-linejoin="miter"/>
<polygon points="64.02,533.98 66.55,538.35 61.49,538.35" fill="#fff" stroke="#0000ff" stroke-width="0.45" stroke-linejoin="miter"/>
<polygon points="66.42,535.78 68.95,540.15 63.89,540.15" fill="#fff" stroke="#0000ff" stroke-width="0.45" stroke-linejoin="miter"/>
<polygon points="68.82,537.58 71.35,541.95 66.29,541.95" fill="#fff" stroke="#0000ff" stroke-width="0.45" stroke-linejoin="miter"/>
<polygon points="71.31,539.25 73.84,543.62 68.78,543.62" fill="#fff" stroke="#0000ff" stroke-width="0.45" stroke-linejoin="miter"/>
<polygon points="73.88,540.8 76.41,545.17 71.35,545.17" fill="#fff" stroke="#0000ff" stroke-width="0.45" stroke-linejoin="miter"/>
<polygon points="76.45,542.34 78.98,546.71 73.92,546.71" fill="#fff" stroke="#0000ff" stroke-width="0.45" stroke-linejoin="miter"/>
<polygon points="79.02,543.88 81.55,548.25 76.49,548.25" fill="#fff" stroke="#0000ff" stroke-width="0.45" stroke-linejoin="miter"/>
<polygon points="81.59,545.44 84.12,549.81 79.06,549.81" fill="#fff" stroke="#0000ff" stroke-width="0.45" stroke-linejoin="miter"/>
<polygon points="84.15,547.01 86.68,551.38 81.62,551.38" fill="#fff" stroke="#0000ff" stroke-width="0.45" stroke-linejoin="miter"/>
<polygon points="86.71,548.58 89.24,552.95 84.18,552.95" fill="#fff" stroke="#0000ff" stroke-width="0.45" stroke-linejoin="miter"/>
<polygon points="89.26,550.14 91.79,554.51 86.73,554.51" fill="#fff" stroke="#0000ff" stroke-width="0.45" stroke-linejoin="miter"/>
<polygon points="91.82,551.71 94.35,556.08 89.29,556.08" fill="#fff" stroke="#0000ff" stroke-width="0.45" stroke-linejoin="miter"/>
<polygon points="94.38,553.27 96.91,557.64 91.85,557.64" fill="#fff" stroke="#0000ff" stroke-width="0.45" stroke-linejoin="miter"/>
<polygon points="94.7,553.47 97.23,557.84 92.17,557.84" fill="#fff" stroke="#0000ff" stroke-width="0.45" stroke-linejoin="miter"/>
<polygon points="103.37,556.37 105.9,560.74 100.84,560.74" fill="#fff" stroke="#0000ff" stroke-width="0.45" stroke-linejoin="miter"/>
<polygon points="113.3,559.37 115.83,563.74 110.77,563.74" fill="#fff" stroke="#0000ff" stroke-width="0.45" stroke-linejoin="miter"/>
<polygon points="123.22,561.87 125.75,566.24 120.69,566.24" fill="#fff" stroke="#0000ff" stroke-width="0.45" stroke-linejoin="miter"/>
<polygon points="133.15,566.17 135.68,570.54 130.62,570.54" fill="#fff" stroke="#0000ff" stroke-width="0.45" stroke-linejoin="miter"/>
<polygon points="143.08,570.47 145.61,574.84 140.55,574.84" fill="#fff" stroke="#0000ff" stroke-width="0.45" stroke-linejoin="miter"/>
<polygon points="153.01,571.97 155.54,576.34 150.48,576.34" fill="#fff" stroke="#0000ff" stroke-width="0.45" stroke-linejoin="miter"/>
<polygon points="162.94,576.47 165.47,580.84 160.41,580.84" fill="#fff" stroke="#0000ff" stroke-width="0.45" stroke-linejoin="miter"/>
<polygon points="172.86,579.47 175.39,583.84 170.33,583.84" fill="#fff" stroke="#0000ff" stroke-width="0.45" stroke-linejoin="miter"/>
<polygon points="182.79,582.47 185.32,586.84 180.26,586.84" fill="#fff" stroke="#0000ff" stroke-width="0.45" stroke-linejoin="miter"/>
<polygon points="192.72,586.47 195.25,590.84 190.19,590.84" fill="#fff" stroke="#0000ff" stroke-width="0.45" stroke-linejoin="miter"/>
<polygon points="202.65,589.47 205.18,593.84 200.12,593.84" fill="#fff" stroke="#0000ff" stroke-width="0.45" stroke-linejoin="miter"/>
<polygon points="212.58,591.47 215.11,595.84 210.05,595.84" fill="#fff" stroke="#0000ff" stroke-width="0.45" stroke-linejoin="miter"/>
<polygon points="222.5,594.47 225.03,598.84 219.97,598.84" fill="#fff" stroke="#0000ff" stroke-width="0.45" stroke-linejoin="miter"/>
<polygon points="232.43,597.97 234.96,602.34 229.9,602.34" fill="#fff" stroke="#0000ff" stroke-width="0.45" stroke-linejoin="miter"/>
<polygon points="242.36,600.47 244.89,604.84 239.83,604.84" fill="#fff" stroke="#0000ff" stroke-width="0.45" stroke-linejoin="miter"/>
<polygon points="252.29,602.47 254.82,606.84 249.76,606.84" fill="#fff" stroke="#0000ff" stroke-width="0.45" stroke-linejoin="miter"/>
<polygon points="262.22,604.47 264.75,608.84 259.69,608.84" fill="#fff" stroke="#0000ff" stroke-width="0.45" stroke-linejoin="miter"/>
<polygon points="272.14,607.97 274.67,612.34 269.61,612.34" fill="#fff" stroke="#0000ff" stroke-width="0.45" stroke-linejoin="miter"/>
<polygon points="282.07,611.22 284.6,615.59 279.54,615.59" fill="#fff" stroke="#0000ff" stroke-width="0.45" stroke-linejoin="miter"/>
</g>
<g>
<polyline points="44.8,522 46.34,524.57 48.23,526.9 50.18,529.18 52.13,531.45 54.09,533.73 56.11,535.94 58.2,538.09 60.29,540.24 62.42,542.36 64.67,544.34 66.93,546.31 69.19,548.29 71.72,549.86 74.4,551.2 77.09,552.54 79.77,553.88 82.5,555.13 85.23,556.36 87.97,557.59 90.7,558.83 93.3,560 103.37,566 113.3,570.6 123.22,574.3 133.15,577 143.08,579.8 153.01,583.75 162.94,585 172.86,587 182.79,590.5 192.72,594 202.65,597.5 212.58,601.25 222.5,606.25 232.43,610 242.36,611.25 252.29,613 262.22,618 272.14,626.25 282.07,629.5 292.5,657" fill="none" stroke="#ff00ff" stroke-width="0.9" />
<polygon points="44.8,524.53 47.33,520.16 42.27,520.16" fill="#fff" stroke="#ff00ff" stroke-width="0.45" stroke-linejoin="miter"/>
<polygon points="46.34,527.1 48.87,522.73 43.81,522.73" fill="#fff" stroke="#ff00ff" stroke-width="0.45" stroke-linejoin="miter"/>
<polygon points="48.23,529.43 50.76,525.06 45.7,525.06" fill="#fff" stroke="#ff00ff" stroke-width="0.45" stroke-linejoin="miter"/>
<polygon points="50.18,531.71 52.71,527.34 47.65,527.34" fill="#fff" stroke="#ff00ff" stroke-width="0.45" stroke-linejoin="miter"/>
<polygon points="52.13,533.98 54.66,529.61 49.6,529.61" fill="#fff" stroke="#ff00ff" stroke-width="0.45" stroke-linejoin="miter"/>
<polygon points="54.09,536.26 56.62,531.89 51.56,531.89" fill="#fff" stroke="#ff00ff" stroke-width="0.45" stroke-linejoin="miter"/>
<polygon points="56.11,538.47 58.64,534.1 53.58,534.1" fill="#fff" stroke="#ff00ff" stroke-width="0.45" stroke-linejoin="miter"/>
<polygon points="58.2,540.62 60.73,536.25 55.67,536.25" fill="#fff" stroke="#ff00ff" stroke-width="0.45" stroke-linejoin="miter"/>
<polygon points="60.29,542.77 62.82,538.4 57.76,538.4" fill="#fff" stroke="#ff00ff" stroke-width="0.45" stroke-linejoin="miter"/>
<polygon points="62.42,544.89 64.95,540.52 59.89,540.52" fill="#fff" stroke="#ff00ff" stroke-width="0.45" stroke-linejoin="miter"/>
<polygon points="64.67,546.87 67.2,542.5 62.14,542.5" fill="#fff" stroke="#ff00ff" stroke-width="0.45" stroke-linejoin="miter"/>
<polygon points="66.93,548.84 69.46,544.47 64.4,544.47" fill="#fff" stroke="#ff00ff" stroke-width="0.45" stroke-linejoin="miter"/>
<polygon points="69.19,550.82 71.72,546.45 66.66,546.45" fill="#fff" stroke="#ff00ff" stroke-width="0.45" stroke-linejoin="miter"/>
<polygon points="71.72,552.39 74.25,548.02 69.19,548.02" fill="#fff" stroke="#ff00ff" stroke-width="0.45" stroke-linejoin="miter"/>
<polygon points="74.4,553.73 76.93,549.36 71.87,549.36" fill="#fff" stroke="#ff00ff" stroke-width="0.45" stroke-linejoin="miter"/>
<polygon points="77.09,555.07 79.62,550.7 74.56,550.7" fill="#fff" stroke="#ff00ff" stroke-width="0.45" stroke-linejoin="miter"/>
<polygon points="79.77,556.41 82.3,552.04 77.24,552.04" fill="#fff" stroke="#ff00ff" stroke-width="0.45" stroke-linejoin="miter"/>
<polygon points="82.5,557.66 85.03,553.29 79.97,553.29" fill="#fff" stroke="#ff00ff" stroke-width="0.45" stroke-linejoin="miter"/>
<polygon points="85.23,558.89 87.76,554.52 82.7,554.52" fill="#fff" stroke="#ff00ff" stroke-width="0.45" stroke-linejoin="miter"/>
<polygon points="87.97,560.12 90.5,555.75 85.44,555.75" fill="#fff" stroke="#ff00ff" stroke-width="0.45" stroke-linejoin="miter"/>
<polygon points="90.7,561.36 93.23,556.99 88.17,556.99" fill="#fff" stroke="#ff00ff" stroke-width="0.45" stroke-linejoin="miter"/>
<polygon points="93.3,562.53 95.83,558.16 90.77,558.16" fill="#fff" stroke="#ff00ff" stroke-width="0.45" stroke-linejoin="miter"/>
<polygon points="103.37,568.53 105.9,564.16 100.84,564.16" fill="#fff" stroke="#ff00ff" stroke-width="0.45" stroke-linejoin="miter"/>
<polygon points="113.3,573.13 115.83,568.76 110.77,568.76" fill="#fff" stroke="#ff00ff" stroke-width="0.45" stroke-linejoin="miter"/>
<polygon points="123.22,576.83 125.75,572.46 120.69,572.46" fill="#fff" stroke="#ff00ff" stroke-width="0.45" stroke-linejoin="miter"/>
<polygon points="133.15,579.53 135.68,575.16 130.62,575.16" fill="#fff" stroke="#ff00ff" stroke-width="0.45" stroke-linejoin="miter"/>
<polygon points="143.08,582.33 145.61,577.96 140.55,577.96" fill="#fff" stroke="#ff00ff" stroke-width="0.45" stroke-linejoin="miter"/>
<polygon points="153.01,586.28 155.54,581.91 150.48,581.91" fill="#fff" stroke="#ff00ff" stroke-width="0.45" stroke-linejoin="miter"/>
<polygon points="162.94,587.53 165.47,583.16 160.41,583.16" fill="#fff" stroke="#ff00ff" stroke-width="0.45" stroke-linejoin="miter"/>
<polygon points="172.86,589.53 175.39,585.16 170.33,585.16" fill="#fff" stroke="#ff00ff" stroke-width="0.45" stroke-linejoin="miter"/>
<polygon points="182.79,593.03 185.32,588.66 180.26,588.66" fill="#fff" stroke="#ff00ff" stroke-width="0.45" stroke-linejoin="miter"/>
<polygon points="192.72,596.53 195.25,592.16 190.19,592.16" fill="#fff" stroke="#ff00ff" stroke-width="0.45" stroke-linejoin="miter"/>
<polygon points="202.65,600.03 205.18,595.66 200.12,595.66" fill="#fff" stroke="#ff00ff" stroke-width="0.45" stroke-linejoin="miter"/>
<polygon points="212.58,603.78 215.11,599.41 210.05,599.41" fill="#fff" stroke="#ff00ff" stroke-width="0.45" stroke-linejoin="miter"/>
<polygon points="222.5,608.78 225.03,604.41 219.97,604.41" fill="#fff" stroke="#ff00ff" stroke-width="0.45" stroke-linejoin="miter"/>
<polygon points="232.43,612.53 234.96,608.16 229.9,608.16" fill="#fff" stroke="#ff00ff" stroke-width="0.45" stroke-linejoin="miter"/>
<polygon points="242.36,613.78 244.89,609.41 239.83,609.41" fill="#fff" stroke="#ff00ff" stroke-width="0.45" stroke-linejoin="miter"/>
<polygon points="252.29,615.53 254.82,611.16 249.76,611.16" fill="#fff" stroke="#ff00ff" stroke-width="0.45" stroke-linejoin="miter"/>
<polygon points="262.22,620.53 264.75,616.16 259.69,616.16" fill="#fff" stroke="#ff00ff" stroke-width="0.45" stroke-linejoin="miter"/>
<polygon points="272.14,628.78 274.67,624.41 269.61,624.41" fill="#fff" stroke="#ff00ff" stroke-width="0.45" stroke-linejoin="miter"/>
<polygon points="282.07,632.03 284.6,627.66 279.54,627.66" fill="#fff" stroke="#ff00ff" stroke-width="0.45" stroke-linejoin="miter"/>
</g>
<g>
<polyline points="44.8,509 45.06,512.39 45.33,515.78 45.78,519.14 46.61,522.44 47.43,525.73 48.31,529.02 49.28,532.28 50.26,535.53 51.53,538.64 53.7,541.25 55.86,543.87 58.17,546.37 60.57,548.77 63.05,551.09 65.78,553.11 68.51,555.14 71.23,557.18 73.94,559.23 76.65,561.29 79.38,563.32 82.11,565.35 84.83,567.38 87.51,569.48 90.19,571.57 92.4,573.3 103.37,578 113.3,583 123.22,587.8 133.15,592.8 143.08,597.4 153.01,604 162.94,611 172.86,621.5 182.79,632 192.72,647.5 195.5,657" fill="none" stroke="#800080" stroke-width="0.9" />
<polygon points="44.8,506.12 47.68,509 44.8,511.88 41.92,509" fill="#fff" stroke="#800080" stroke-width="0.6" stroke-linejoin="miter"/>
<polygon points="45.06,509.51 47.94,512.39 45.06,515.27 42.18,512.39" fill="#fff" stroke="#800080" stroke-width="0.6" stroke-linejoin="miter"/>
<polygon points="45.33,512.9 48.21,515.78 45.33,518.66 42.45,515.78" fill="#fff" stroke="#800080" stroke-width="0.6" stroke-linejoin="miter"/>
<polygon points="45.78,516.26 48.66,519.14 45.78,522.02 42.9,519.14" fill="#fff" stroke="#800080" stroke-width="0.6" stroke-linejoin="miter"/>
<polygon points="46.61,519.56 49.49,522.44 46.61,525.32 43.73,522.44" fill="#fff" stroke="#800080" stroke-width="0.6" stroke-linejoin="miter"/>
<polygon points="47.43,522.85 50.31,525.73 47.43,528.61 44.55,525.73" fill="#fff" stroke="#800080" stroke-width="0.6" stroke-linejoin="miter"/>
<polygon points="48.31,526.14 51.19,529.02 48.31,531.9 45.43,529.02" fill="#fff" stroke="#800080" stroke-width="0.6" stroke-linejoin="miter"/>
<polygon points="49.28,529.4 52.16,532.28 49.28,535.16 46.4,532.28" fill="#fff" stroke="#800080" stroke-width="0.6" stroke-linejoin="miter"/>
<polygon points="50.26,532.65 53.14,535.53 50.26,538.41 47.38,535.53" fill="#fff" stroke="#800080" stroke-width="0.6" stroke-linejoin="miter"/>
<polygon points="51.53,535.76 54.41,538.64 51.53,541.52 48.65,538.64" fill="#fff" stroke="#800080" stroke-width="0.6" stroke-linejoin="miter"/>
<polygon points="53.7,538.37 56.58,541.25 53.7,544.13 50.82,541.25" fill="#fff" stroke="#800080" stroke-width="0.6" stroke-linejoin="miter"/>
<polygon points="55.86,540.99 58.74,543.87 55.86,546.75 52.98,543.87" fill="#fff" stroke="#800080" stroke-width="0.6" stroke-linejoin="miter"/>
<polygon points="58.17,543.49 61.05,546.37 58.17,549.25 55.29,546.37" fill="#fff" stroke="#800080" stroke-width="0.6" stroke-linejoin="miter"/>
<polygon points="60.57,545.89 63.45,548.77 60.57,551.65 57.69,548.77" fill="#fff" stroke="#800080" stroke-width="0.6" stroke-linejoin="miter"/>
<polygon points="63.05,548.21 65.93,551.09 63.05,553.97 60.17,551.09" fill="#fff" stroke="#800080" stroke-width="0.6" stroke-linejoin="miter"/>
<polygon points="65.78,550.23 68.66,553.11 65.78,555.99 62.9,553.11" fill="#fff" stroke="#800080" stroke-width="0.6" stroke-linejoin="miter"/>
<polygon points="68.51,552.26 71.39,555.14 68.51,558.02 65.63,555.14" fill="#fff" stroke="#800080" stroke-width="0.6" stroke-linejoin="miter"/>
<polygon points="71.23,554.3 74.11,557.18 71.23,560.06 68.35,557.18" fill="#fff" stroke="#800080" stroke-width="0.6" stroke-linejoin="miter"/>
<polygon points="73.94,556.35 76.82,559.23 73.94,562.11 71.06,559.23" fill="#fff" stroke="#800080" stroke-width="0.6" stroke-linejoin="miter"/>
<polygon points="76.65,558.41 79.53,561.29 76.65,564.17 73.77,561.29" fill="#fff" stroke="#800080" stroke-width="0.6" stroke-linejoin="miter"/>
<polygon points="79.38,560.44 82.26,563.32 79.38,566.2 76.5,563.32" fill="#fff" stroke="#800080" stroke-width="0.6" stroke-linejoin="miter"/>
<polygon points="82.11,562.47 84.99,565.35 82.11,568.23 79.23,565.35" fill="#fff" stroke="#800080" stroke-width="0.6" stroke-linejoin="miter"/>
<polygon points="84.83,564.5 87.71,567.38 84.83,570.26 81.95,567.38" fill="#fff" stroke="#800080" stroke-width="0.6" stroke-linejoin="miter"/>
<polygon points="87.51,566.6 90.39,569.48 87.51,572.36 84.63,569.48" fill="#fff" stroke="#800080" stroke-width="0.6" stroke-linejoin="miter"/>
<polygon points="90.19,568.69 93.07,571.57 90.19,574.45 87.31,571.57" fill="#fff" stroke="#800080" stroke-width="0.6" stroke-linejoin="miter"/>
<polygon points="92.4,570.42 95.28,573.3 92.4,576.18 89.52,573.3" fill="#fff" stroke="#800080" stroke-width="0.6" stroke-linejoin="miter"/>
<polygon points="103.37,575.12 106.25,578 103.37,580.88 100.49,578" fill="#fff" stroke="#800080" stroke-width="0.6" stroke-linejoin="miter"/>
<polygon points="113.3,580.12 116.18,583 113.3,585.88 110.42,583" fill="#fff" stroke="#800080" stroke-width="0.6" stroke-linejoin="miter"/>
<polygon points="123.22,584.92 126.1,587.8 123.22,590.68 120.34,587.8" fill="#fff" stroke="#800080" stroke-width="0.6" stroke-linejoin="miter"/>
<polygon points="133.15,589.92 136.03,592.8 133.15,595.68 130.27,592.8" fill="#fff" stroke="#800080" stroke-width="0.6" stroke-linejoin="miter"/>
<polygon points="143.08,594.52 145.96,597.4 143.08,600.28 140.2,597.4" fill="#fff" stroke="#800080" stroke-width="0.6" stroke-linejoin="miter"/>
<polygon points="153.01,601.12 155.89,604 153.01,606.88 150.13,604" fill="#fff" stroke="#800080" stroke-width="0.6" stroke-linejoin="miter"/>
<polygon points="162.94,608.12 165.82,611 162.94,613.88 160.06,611" fill="#fff" stroke="#800080" stroke-width="0.6" stroke-linejoin="miter"/>
<polygon points="172.86,618.62 175.74,621.5 172.86,624.38 169.98,621.5" fill="#fff" stroke="#800080" stroke-width="0.6" stroke-linejoin="miter"/>
<polygon points="182.79,629.12 185.67,632 182.79,634.88 179.91,632" fill="#fff" stroke="#800080" stroke-width="0.6" stroke-linejoin="miter"/>
<polygon points="192.72,644.62 195.6,647.5 192.72,650.38 189.84,647.5" fill="#fff" stroke="#800080" stroke-width="0.6" stroke-linejoin="miter"/>
</g>
<g>
<polyline points="44.8,527 45.49,530.13 46.18,533.25 46.86,536.38 48.01,539.35 49.27,542.3 50.74,545.12 52.5,547.79 54.73,550.04 57.21,552.07 59.52,554.27 61.59,556.71 63.65,559.15 65.62,561.68 67.55,564.23 69.48,566.78 71.39,569.35 73.3,571.91 75.21,574.48 77.29,576.91 79.38,579.34 81.51,581.72 83.75,584.01 86,586.29 88.27,588.54 90.56,590.78 92.98,592.85 95.65,594.61 97.6,595.9 103.4,600 113.3,607.5 123.2,617.5 133.2,626.25 143.1,636.25 153,651.25 155,657" fill="none" stroke="#008000" stroke-width="0.9" />
<polygon points="42.27,527 46.64,524.47 46.64,529.53" fill="#fff" stroke="#008000" stroke-width="0.6" stroke-linejoin="miter"/>
<polygon points="42.96,530.13 47.33,527.6 47.33,532.66" fill="#fff" stroke="#008000" stroke-width="0.6" stroke-linejoin="miter"/>
<polygon points="43.65,533.25 48.02,530.72 48.02,535.78" fill="#fff" stroke="#008000" stroke-width="0.6" stroke-linejoin="miter"/>
<polygon points="44.33,536.38 48.7,533.85 48.7,538.91" fill="#fff" stroke="#008000" stroke-width="0.6" stroke-linejoin="miter"/>
<polygon points="45.48,539.35 49.85,536.82 49.85,541.88" fill="#fff" stroke="#008000" stroke-width="0.6" stroke-linejoin="miter"/>
<polygon points="46.74,542.3 51.11,539.77 51.11,544.83" fill="#fff" stroke="#008000" stroke-width="0.6" stroke-linejoin="miter"/>
<polygon points="48.21,545.12 52.58,542.59 52.58,547.65" fill="#fff" stroke="#008000" stroke-width="0.6" stroke-linejoin="miter"/>
<polygon points="49.97,547.79 54.34,545.26 54.34,550.32" fill="#fff" stroke="#008000" stroke-width="0.6" stroke-linejoin="miter"/>
<polygon points="52.2,550.04 56.57,547.51 56.57,552.57" fill="#fff" stroke="#008000" stroke-width="0.6" stroke-linejoin="miter"/>
<polygon points="54.68,552.07 59.05,549.54 59.05,554.6" fill="#fff" stroke="#008000" stroke-width="0.6" stroke-linejoin="miter"/>
<polygon points="56.99,554.27 61.36,551.74 61.36,556.8" fill="#fff" stroke="#008000" stroke-width="0.6" stroke-linejoin="miter"/>
<polygon points="59.06,556.71 63.43,554.18 63.43,559.24" fill="#fff" stroke="#008000" stroke-width="0.6" stroke-linejoin="miter"/>
<polygon points="61.12,559.15 65.49,556.62 65.49,561.68" fill="#fff" stroke="#008000" stroke-width="0.6" stroke-linejoin="miter"/>
<polygon points="63.09,561.68 67.46,559.15 67.46,564.21" fill="#fff" stroke="#008000" stroke-width="0.6" stroke-linejoin="miter"/>
<polygon points="65.02,564.23 69.39,561.7 69.39,566.76" fill="#fff" stroke="#008000" stroke-width="0.6" stroke-linejoin="miter"/>
<polygon points="66.95,566.78 71.32,564.25 71.32,569.31" fill="#fff" stroke="#008000" stroke-width="0.6" stroke-linejoin="miter"/>
<polygon points="68.86,569.35 73.23,566.82 73.23,571.88" fill="#fff" stroke="#008000" stroke-width="0.6" stroke-linejoin="miter"/>
<polygon points="70.77,571.91 75.14,569.38 75.14,574.44" fill="#fff" stroke="#008000" stroke-width="0.6" stroke-linejoin="miter"/>
<polygon points="72.68,574.48 77.05,571.95 77.05,577.01" fill="#fff" stroke="#008000" stroke-width="0.6" stroke-linejoin="miter"/>
<polygon points="74.76,576.91 79.13,574.38 79.13,579.44" fill="#fff" stroke="#008000" stroke-width="0.6" stroke-linejoin="miter"/>
<polygon points="76.85,579.34 81.22,576.81 81.22,581.87" fill="#fff" stroke="#008000" stroke-width="0.6" stroke-linejoin="miter"/>
<polygon points="78.98,581.72 83.35,579.19 83.35,584.25" fill="#fff" stroke="#008000" stroke-width="0.6" stroke-linejoin="miter"/>
<polygon points="81.22,584.01 85.59,581.48 85.59,586.54" fill="#fff" stroke="#008000" stroke-width="0.6" stroke-linejoin="miter"/>
<polygon points="83.47,586.29 87.84,583.76 87.84,588.82" fill="#fff" stroke="#008000" stroke-width="0.6" stroke-linejoin="miter"/>
<polygon points="85.74,588.54 90.11,586.01 90.11,591.07" fill="#fff" stroke="#008000" stroke-width="0.6" stroke-linejoin="miter"/>
<polygon points="88.03,590.78 92.4,588.25 92.4,593.31" fill="#fff" stroke="#008000" stroke-width="0.6" stroke-linejoin="miter"/>
<polygon points="90.45,592.85 94.82,590.32 94.82,595.38" fill="#fff" stroke="#008000" stroke-width="0.6" stroke-linejoin="miter"/>
<polygon points="93.12,594.61 97.49,592.08 97.49,597.14" fill="#fff" stroke="#008000" stroke-width="0.6" stroke-linejoin="miter"/>
<polygon points="95.07,595.9 99.44,593.37 99.44,598.43" fill="#fff" stroke="#008000" stroke-width="0.6" stroke-linejoin="miter"/>
<polygon points="100.87,600 105.24,597.47 105.24,602.53" fill="#fff" stroke="#008000" stroke-width="0.6" stroke-linejoin="miter"/>
<polygon points="110.77,607.5 115.14,604.97 115.14,610.03" fill="#fff" stroke="#008000" stroke-width="0.6" stroke-linejoin="miter"/>
<polygon points="120.67,617.5 125.04,614.97 125.04,620.03" fill="#fff" stroke="#008000" stroke-width="0.6" stroke-linejoin="miter"/>
<polygon points="130.67,626.25 135.04,623.72 135.04,628.78" fill="#fff" stroke="#008000" stroke-width="0.6" stroke-linejoin="miter"/>
<polygon points="140.57,636.25 144.94,633.72 144.94,638.78" fill="#fff" stroke="#008000" stroke-width="0.6" stroke-linejoin="miter"/>
<polygon points="150.47,651.25 154.84,648.72 154.84,653.78" fill="#fff" stroke="#008000" stroke-width="0.6" stroke-linejoin="miter"/>
</g>
<g>
<polyline points="44.8,532 44.88,535.2 44.96,538.4 45.26,541.58 45.79,544.73 47.46,547.24 49.89,549.32 51.69,551.95 53.43,554.64 55.17,557.33 56.94,559.99 58.73,562.64 60.52,565.29 62.14,568.05 63.66,570.87 65.18,573.68 66.7,576.5 68.36,579.23 70.03,581.97 71.69,584.7 73.51,587.33 75.42,589.9 77.33,592.46 79.5,594.8 81.77,597.07 84.02,599.33 86.27,601.62 88.51,603.9 90.38,606.49 92.17,609.14 93.96,611.79 95.75,614.44 96.4,615.4 103.4,627.5 113.3,646.25 115,657" fill="none" stroke="#ff8000" stroke-width="0.9" />
<polygon points="47.33,532 42.96,529.47 42.96,534.53" fill="#fff" stroke="#ff8000" stroke-width="0.6" stroke-linejoin="miter"/>
<polygon points="47.41,535.2 43.04,532.67 43.04,537.73" fill="#fff" stroke="#ff8000" stroke-width="0.6" stroke-linejoin="miter"/>
<polygon points="47.49,538.4 43.12,535.87 43.12,540.93" fill="#fff" stroke="#ff8000" stroke-width="0.6" stroke-linejoin="miter"/>
<polygon points="47.79,541.58 43.42,539.05 43.42,544.11" fill="#fff" stroke="#ff8000" stroke-width="0.6" stroke-linejoin="miter"/>
<polygon points="48.32,544.73 43.95,542.2 43.95,547.26" fill="#fff" stroke="#ff8000" stroke-width="0.6" stroke-linejoin="miter"/>
<polygon points="49.99,547.24 45.62,544.71 45.62,549.77" fill="#fff" stroke="#ff8000" stroke-width="0.6" stroke-linejoin="miter"/>
<polygon points="52.42,549.32 48.05,546.79 48.05,551.85" fill="#fff" stroke="#ff8000" stroke-width="0.6" stroke-linejoin="miter"/>
<polygon points="54.22,551.95 49.85,549.42 49.85,554.48" fill="#fff" stroke="#ff8000" stroke-width="0.6" stroke-linejoin="miter"/>
<polygon points="55.96,554.64 51.59,552.11 51.59,557.17" fill="#fff" stroke="#ff8000" stroke-width="0.6" stroke-linejoin="miter"/>
<polygon points="57.7,557.33 53.33,554.8 53.33,559.86" fill="#fff" stroke="#ff8000" stroke-width="0.6" stroke-linejoin="miter"/>
<polygon points="59.47,559.99 55.1,557.46 55.1,562.52" fill="#fff" stroke="#ff8000" stroke-width="0.6" stroke-linejoin="miter"/>
<polygon points="61.26,562.64 56.89,560.11 56.89,565.17" fill="#fff" stroke="#ff8000" stroke-width="0.6" stroke-linejoin="miter"/>
<polygon points="63.05,565.29 58.68,562.76 58.68,567.82" fill="#fff" stroke="#ff8000" stroke-width="0.6" stroke-linejoin="miter"/>
<polygon points="64.67,568.05 60.3,565.52 60.3,570.58" fill="#fff" stroke="#ff8000" stroke-width="0.6" stroke-linejoin="miter"/>
<polygon points="66.19,570.87 61.82,568.34 61.82,573.4" fill="#fff" stroke="#ff8000" stroke-width="0.6" stroke-linejoin="miter"/>
<polygon points="67.71,573.68 63.34,571.15 63.34,576.21" fill="#fff" stroke="#ff8000" stroke-width="0.6" stroke-linejoin="miter"/>
<polygon points="69.23,576.5 64.86,573.97 64.86,579.03" fill="#fff" stroke="#ff8000" stroke-width="0.6" stroke-linejoin="miter"/>
<polygon points="70.89,579.23 66.52,576.7 66.52,581.76" fill="#fff" stroke="#ff8000" stroke-width="0.6" stroke-linejoin="miter"/>
<polygon points="72.56,581.97 68.19,579.44 68.19,584.5" fill="#fff" stroke="#ff8000" stroke-width="0.6" stroke-linejoin="miter"/>
<polygon points="74.22,584.7 69.85,582.17 69.85,587.23" fill="#fff" stroke="#ff8000" stroke-width="0.6" stroke-linejoin="miter"/>
<polygon points="76.04,587.33 71.67,584.8 71.67,589.86" fill="#fff" stroke="#ff8000" stroke-width="0.6" stroke-linejoin="miter"/>
<polygon points="77.95,589.9 73.58,587.37 73.58,592.43" fill="#fff" stroke="#ff8000" stroke-width="0.6" stroke-linejoin="miter"/>
<polygon points="79.86,592.46 75.49,589.93 75.49,594.99" fill="#fff" stroke="#ff8000" stroke-width="0.6" stroke-linejoin="miter"/>
<polygon points="82.03,594.8 77.66,592.27 77.66,597.33" fill="#fff" stroke="#ff8000" stroke-width="0.6" stroke-linejoin="miter"/>
<polygon points="84.3,597.07 79.93,594.54 79.93,599.6" fill="#fff" stroke="#ff8000" stroke-width="0.6" stroke-linejoin="miter"/>
<polygon points="86.55,599.33 82.18,596.8 82.18,601.86" fill="#fff" stroke="#ff8000" stroke-width="0.6" stroke-linejoin="miter"/>
<polygon points="88.8,601.62 84.43,599.09 84.43,604.15" fill="#fff" stroke="#ff8000" stroke-width="0.6" stroke-linejoin="miter"/>
<polygon points="91.04,603.9 86.67,601.37 86.67,606.43" fill="#fff" stroke="#ff8000" stroke-width="0.6" stroke-linejoin="miter"/>
<polygon points="92.91,606.49 88.54,603.96 88.54,609.02" fill="#fff" stroke="#ff8000" stroke-width="0.6" stroke-linejoin="miter"/>
<polygon points="94.7,609.14 90.33,606.61 90.33,611.67" fill="#fff" stroke="#ff8000" stroke-width="0.6" stroke-linejoin="miter"/>
<polygon points="96.49,611.79 92.12,609.26 92.12,614.32" fill="#fff" stroke="#ff8000" stroke-width="0.6" stroke-linejoin="miter"/>
<polygon points="98.28,614.44 93.91,611.91 93.91,616.97" fill="#fff" stroke="#ff8000" stroke-width="0.6" stroke-linejoin="miter"/>
<polygon points="98.93,615.4 94.56,612.87 94.56,617.93" fill="#fff" stroke="#ff8000" stroke-width="0.6" stroke-linejoin="miter"/>
<polygon points="105.93,627.5 101.56,624.97 101.56,630.03" fill="#fff" stroke="#ff8000" stroke-width="0.6" stroke-linejoin="miter"/>
<polygon points="115.83,646.25 111.46,643.72 111.46,648.78" fill="#fff" stroke="#ff8000" stroke-width="0.6" stroke-linejoin="miter"/>
</g>
<g>
<polyline points="44.8,470.7 45.19,472.66 45.7,474.58 46.63,476.35 47.56,478.12 48.6,479.83 49.65,481.54 50.9,483.06 52.48,484.27 54.07,485.49 55.63,486.75 57.13,488.06 58.64,489.38 60.15,490.69 61.68,491.97 63.23,493.24 64.77,494.51 66.32,495.78 67.85,497.06 69.39,498.35 70.92,499.63 72.53,500.81 74.2,501.92 75.87,503.02 77.51,504.16 79.03,505.46 80.55,506.76 82.07,508.06 83.68,509.23 85.36,510.31 87.05,511.39 88.72,512.49 90.38,513.61 92.03,514.73 93.69,515.85 95.47,516.76 97.26,517.64 97.6,517.8 103.37,518.5 113.3,522.5 123.22,523.5 133.15,523.75 143.08,525.75 153.01,531 162.94,531 172.86,536 182.79,538.5 192.72,542 202.65,546.5 212.58,546.25 222.5,547 232.43,552.5 242.36,553.75 252.29,552 262.22,554.5 272.14,572.5 282.07,560 292,570" fill="none" stroke="#000" stroke-width="0.9" stroke-dasharray="3,1.2"/>
<rect x="42.7" y="468.6" width="4.2" height="4.2" fill="#000" stroke="#000" stroke-width="0.6"/>
<rect x="43.09" y="470.56" width="4.2" height="4.2" fill="#000" stroke="#000" stroke-width="0.6"/>
<rect x="43.6" y="472.48" width="4.2" height="4.2" fill="#000" stroke="#000" stroke-width="0.6"/>
<rect x="44.53" y="474.25" width="4.2" height="4.2" fill="#000" stroke="#000" stroke-width="0.6"/>
<rect x="45.46" y="476.02" width="4.2" height="4.2" fill="#000" stroke="#000" stroke-width="0.6"/>
<rect x="46.5" y="477.73" width="4.2" height="4.2" fill="#000" stroke="#000" stroke-width="0.6"/>
<rect x="47.55" y="479.44" width="4.2" height="4.2" fill="#000" stroke="#000" stroke-width="0.6"/>
<rect x="48.8" y="480.96" width="4.2" height="4.2" fill="#000" stroke="#000" stroke-width="0.6"/>
<rect x="50.38" y="482.17" width="4.2" height="4.2" fill="#000" stroke="#000" stroke-width="0.6"/>
<rect x="51.97" y="483.39" width="4.2" height="4.2" fill="#000" stroke="#000" stroke-width="0.6"/>
<rect x="53.53" y="484.65" width="4.2" height="4.2" fill="#000" stroke="#000" stroke-width="0.6"/>
<rect x="55.03" y="485.96" width="4.2" height="4.2" fill="#000" stroke="#000" stroke-width="0.6"/>
<rect x="56.54" y="487.28" width="4.2" height="4.2" fill="#000" stroke="#000" stroke-width="0.6"/>
<rect x="58.05" y="488.59" width="4.2" height="4.2" fill="#000" stroke="#000" stroke-width="0.6"/>
<rect x="59.58" y="489.87" width="4.2" height="4.2" fill="#000" stroke="#000" stroke-width="0.6"/>
<rect x="61.13" y="491.14" width="4.2" height="4.2" fill="#000" stroke="#000" stroke-width="0.6"/>
<rect x="62.67" y="492.41" width="4.2" height="4.2" fill="#000" stroke="#000" stroke-width="0.6"/>
<rect x="64.22" y="493.68" width="4.2" height="4.2" fill="#000" stroke="#000" stroke-width="0.6"/>
<rect x="65.75" y="494.96" width="4.2" height="4.2" fill="#000" stroke="#000" stroke-width="0.6"/>
<rect x="67.29" y="496.25" width="4.2" height="4.2" fill="#000" stroke="#000" stroke-width="0.6"/>
<rect x="68.82" y="497.53" width="4.2" height="4.2" fill="#000" stroke="#000" stroke-width="0.6"/>
<rect x="70.43" y="498.71" width="4.2" height="4.2" fill="#000" stroke="#000" stroke-width="0.6"/>
<rect x="72.1" y="499.82" width="4.2" height="4.2" fill="#000" stroke="#000" stroke-width="0.6"/>
<rect x="73.77" y="500.92" width="4.2" height="4.2" fill="#000" stroke="#000" stroke-width="0.6"/>
<rect x="75.41" y="502.06" width="4.2" height="4.2" fill="#000" stroke="#000" stroke-width="0.6"/>
<rect x="76.93" y="503.36" width="4.2" height="4.2" fill="#000" stroke="#000" stroke-width="0.6"/>
<rect x="78.45" y="504.66" width="4.2" height="4.2" fill="#000" stroke="#000" stroke-width="0.6"/>
<rect x="79.97" y="505.96" width="4.2" height="4.2" fill="#000" stroke="#000" stroke-width="0.6"/>
<rect x="81.58" y="507.13" width="4.2" height="4.2" fill="#000" stroke="#000" stroke-width="0.6"/>
<rect x="83.26" y="508.21" width="4.2" height="4.2" fill="#000" stroke="#000" stroke-width="0.6"/>
<rect x="84.95" y="509.29" width="4.2" height="4.2" fill="#000" stroke="#000" stroke-width="0.6"/>
<rect x="86.62" y="510.39" width="4.2" height="4.2" fill="#000" stroke="#000" stroke-width="0.6"/>
<rect x="88.28" y="511.51" width="4.2" height="4.2" fill="#000" stroke="#000" stroke-width="0.6"/>
<rect x="89.93" y="512.63" width="4.2" height="4.2" fill="#000" stroke="#000" stroke-width="0.6"/>
<rect x="91.59" y="513.75" width="4.2" height="4.2" fill="#000" stroke="#000" stroke-width="0.6"/>
<rect x="93.37" y="514.66" width="4.2" height="4.2" fill="#000" stroke="#000" stroke-width="0.6"/>
<rect x="95.16" y="515.54" width="4.2" height="4.2" fill="#000" stroke="#000" stroke-width="0.6"/>
<rect x="95.5" y="515.7" width="4.2" height="4.2" fill="#000" stroke="#000" stroke-width="0.6"/>
<rect x="101.27" y="516.4" width="4.2" height="4.2" fill="#000" stroke="#000" stroke-width="0.6"/>
<rect x="111.2" y="520.4" width="4.2" height="4.2" fill="#000" stroke="#000" stroke-width="0.6"/>
<rect x="121.12" y="521.4" width="4.2" height="4.2" fill="#000" stroke="#000" stroke-width="0.6"/>
<rect x="131.05" y="521.65" width="4.2" height="4.2" fill="#000" stroke="#000" stroke-width="0.6"/>
<rect x="140.98" y="523.65" width="4.2" height="4.2" fill="#000" stroke="#000" stroke-width="0.6"/>
<rect x="150.91" y="528.9" width="4.2" height="4.2" fill="#000" stroke="#000" stroke-width="0.6"/>
<rect x="160.84" y="528.9" width="4.2" height="4.2" fill="#000" stroke="#000" stroke-width="0.6"/>
<rect x="170.76" y="533.9" width="4.2" height="4.2" fill="#000" stroke="#000" stroke-width="0.6"/>
<rect x="180.69" y="536.4" width="4.2" height="4.2" fill="#000" stroke="#000" stroke-width="0.6"/>
<rect x="190.62" y="539.9" width="4.2" height="4.2" fill="#000" stroke="#000" stroke-width="0.6"/>
<rect x="200.55" y="544.4" width="4.2" height="4.2" fill="#000" stroke="#000" stroke-width="0.6"/>
<rect x="210.48" y="544.15" width="4.2" height="4.2" fill="#000" stroke="#000" stroke-width="0.6"/>
<rect x="220.4" y="544.9" width="4.2" height="4.2" fill="#000" stroke="#000" stroke-width="0.6"/>
<rect x="230.33" y="550.4" width="4.2" height="4.2" fill="#000" stroke="#000" stroke-width="0.6"/>
<rect x="240.26" y="551.65" width="4.2" height="4.2" fill="#000" stroke="#000" stroke-width="0.6"/>
<rect x="250.19" y="549.9" width="4.2" height="4.2" fill="#000" stroke="#000" stroke-width="0.6"/>
<rect x="260.12" y="552.4" width="4.2" height="4.2" fill="#000" stroke="#000" stroke-width="0.6"/>
<rect x="270.04" y="570.4" width="4.2" height="4.2" fill="#000" stroke="#000" stroke-width="0.6"/>
<rect x="279.97" y="557.9" width="4.2" height="4.2" fill="#000" stroke="#000" stroke-width="0.6"/>
<rect x="289.9" y="567.9" width="4.2" height="4.2" fill="#000" stroke="#000" stroke-width="0.6"/>
</g>
<g>
<polyline points="44.8,472.2 45.43,474.1 46.05,476 46.68,477.9 47.3,479.8 48.14,481.6 49.17,483.32 50.2,485.03 51.67,486.37 53.2,487.66 54.72,488.96 56.23,490.27 57.74,491.59 59.24,492.9 60.76,494.21 62.3,495.48 63.85,496.75 65.39,498.02 66.93,499.3 68.47,500.58 70,501.86 71.53,503.14 73.2,504.26 74.87,505.36 76.53,506.46 78.11,507.68 79.63,508.98 81.15,510.28 82.68,511.58 84.35,512.66 86.04,513.75 87.72,514.83 89.38,515.94 91.04,517.06 92.69,518.18 94.4,519.22 96.23,520.01 97.6,520.6 103.37,520.5 113.3,524.5 123.22,527 133.15,528 143.08,529.5 153.01,532 162.94,533.75 172.86,537 182.79,539.8 192.72,543.5 202.65,549 212.58,552.8 222.5,554.6 232.43,555 242.36,555.5 252.29,555.5 262.22,557.5 272.14,554.5 282.07,570.5" fill="none" stroke="#ff0000" stroke-width="0.9" stroke-dasharray="3,1.2"/>
<circle cx="44.8" cy="472.2" r="2.2" fill="#ff0000" stroke="#ff0000" stroke-width="0.6"/>
<circle cx="45.43" cy="474.1" r="2.2" fill="#ff0000" stroke="#ff0000" stroke-width="0.6"/>
<circle cx="46.05" cy="476" r="2.2" fill="#ff0000" stroke="#ff0000" stroke-width="0.6"/>
<circle cx="46.68" cy="477.9" r="2.2" fill="#ff0000" stroke="#ff0000" stroke-width="0.6"/>
<circle cx="47.3" cy="479.8" r="2.2" fill="#ff0000" stroke="#ff0000" stroke-width="0.6"/>
<circle cx="48.14" cy="481.6" r="2.2" fill="#ff0000" stroke="#ff0000" stroke-width="0.6"/>
<circle cx="49.17" cy="483.32" r="2.2" fill="#ff0000" stroke="#ff0000" stroke-width="0.6"/>
<circle cx="50.2" cy="485.03" r="2.2" fill="#ff0000" stroke="#ff0000" stroke-width="0.6"/>
<circle cx="51.67" cy="486.37" r="2.2" fill="#ff0000" stroke="#ff0000" stroke-width="0.6"/>
<circle cx="53.2" cy="487.66" r="2.2" fill="#ff0000" stroke="#ff0000" stroke-width="0.6"/>
<circle cx="54.72" cy="488.96" r="2.2" fill="#ff0000" stroke="#ff0000" stroke-width="0.6"/>
<circle cx="56.23" cy="490.27" r="2.2" fill="#ff0000" stroke="#ff0000" stroke-width="0.6"/>
<circle cx="57.74" cy="491.59" r="2.2" fill="#ff0000" stroke="#ff0000" stroke-width="0.6"/>
<circle cx="59.24" cy="492.9" r="2.2" fill="#ff0000" stroke="#ff0000" stroke-width="0.6"/>
<circle cx="60.76" cy="494.21" r="2.2" fill="#ff0000" stroke="#ff0000" stroke-width="0.6"/>
<circle cx="62.3" cy="495.48" r="2.2" fill="#ff0000" stroke="#ff0000" stroke-width="0.6"/>
<circle cx="63.85" cy="496.75" r="2.2" fill="#ff0000" stroke="#ff0000" stroke-width="0.6"/>
<circle cx="65.39" cy="498.02" r="2.2" fill="#ff0000" stroke="#ff0000" stroke-width="0.6"/>
<circle cx="66.93" cy="499.3" r="2.2" fill="#ff0000" stroke="#ff0000" stroke-width="0.6"/>
<circle cx="68.47" cy="500.58" r="2.2" fill="#ff0000" stroke="#ff0000" stroke-width="0.6"/>
<circle cx="70" cy="501.86" r="2.2" fill="#ff0000" stroke="#ff0000" stroke-width="0.6"/>
<circle cx="71.53" cy="503.14" r="2.2" fill="#ff0000" stroke="#ff0000" stroke-width="0.6"/>
<circle cx="73.2" cy="504.26" r="2.2" fill="#ff0000" stroke="#ff0000" stroke-width="0.6"/>
<circle cx="74.87" cy="505.36" r="2.2" fill="#ff0000" stroke="#ff0000" stroke-width="0.6"/>
<circle cx="76.53" cy="506.46" r="2.2" fill="#ff0000" stroke="#ff0000" stroke-width="0.6"/>
<circle cx="78.11" cy="507.68" r="2.2" fill="#ff0000" stroke="#ff0000" stroke-width="0.6"/>
<circle cx="79.63" cy="508.98" r="2.2" fill="#ff0000" stroke="#ff0000" stroke-width="0.6"/>
<circle cx="81.15" cy="510.28" r="2.2" fill="#ff0000" stroke="#ff0000" stroke-width="0.6"/>
<circle cx="82.68" cy="511.58" r="2.2" fill="#ff0000" stroke="#ff0000" stroke-width="0.6"/>
<circle cx="84.35" cy="512.66" r="2.2" fill="#ff0000" stroke="#ff0000" stroke-width="0.6"/>
<circle cx="86.04" cy="513.75" r="2.2" fill="#ff0000" stroke="#ff0000" stroke-width="0.6"/>
<circle cx="87.72" cy="514.83" r="2.2" fill="#ff0000" stroke="#ff0000" stroke-width="0.6"/>
<circle cx="89.38" cy="515.94" r="2.2" fill="#ff0000" stroke="#ff0000" stroke-width="0.6"/>
<circle cx="91.04" cy="517.06" r="2.2" fill="#ff0000" stroke="#ff0000" stroke-width="0.6"/>
<circle cx="92.69" cy="518.18" r="2.2" fill="#ff0000" stroke="#ff0000" stroke-width="0.6"/>
<circle cx="94.4" cy="519.22" r="2.2" fill="#ff0000" stroke="#ff0000" stroke-width="0.6"/>
<circle cx="96.23" cy="520.01" r="2.2" fill="#ff0000" stroke="#ff0000" stroke-width="0.6"/>
<circle cx="97.6" cy="520.6" r="2.2" fill="#ff0000" stroke="#ff0000" stroke-width="0.6"/>
<circle cx="103.37" cy="520.5" r="2.2" fill="#ff0000" stroke="#ff0000" stroke-width="0.6"/>
<circle cx="113.3" cy="524.5" r="2.2" fill="#ff0000" stroke="#ff0000" stroke-width="0.6"/>
<circle cx="123.22" cy="527" r="2.2" fill="#ff0000" stroke="#ff0000" stroke-width="0.6"/>
<circle cx="133.15" cy="528" r="2.2" fill="#ff0000" stroke="#ff0000" stroke-width="0.6"/>
<circle cx="143.08" cy="529.5" r="2.2" fill="#ff0000" stroke="#ff0000" stroke-width="0.6"/>
<circle cx="153.01" cy="532" r="2.2" fill="#ff0000" stroke="#ff0000" stroke-width="0.6"/>
<circle cx="162.94" cy="533.75" r="2.2" fill="#ff0000" stroke="#ff0000" stroke-width="0.6"/>
<circle cx="172.86" cy="537" r="2.2" fill="#ff0000" stroke="#ff0000" stroke-width="0.6"/>
<circle cx="182.79" cy="539.8" r="2.2" fill="#ff0000" stroke="#ff0000" stroke-width="0.6"/>
<circle cx="192.72" cy="543.5" r="2.2" fill="#ff0000" stroke="#ff0000" stroke-width="0.6"/>
<circle cx="202.65" cy="549" r="2.2" fill="#ff0000" stroke="#ff0000" stroke-width="0.6"/>
<circle cx="212.58" cy="552.8" r="2.2" fill="#ff0000" stroke="#ff0000" stroke-width="0.6"/>
<circle cx="222.5" cy="554.6" r="2.2" fill="#ff0000" stroke="#ff0000" stroke-width="0.6"/>
<circle cx="232.43" cy="555" r="2.2" fill="#ff0000" stroke="#ff0000" stroke-width="0.6"/>
<circle cx="242.36" cy="555.5" r="2.2" fill="#ff0000" stroke="#ff0000" stroke-width="0.6"/>
<circle cx="252.29" cy="555.5" r="2.2" fill="#ff0000" stroke="#ff0000" stroke-width="0.6"/>
<circle cx="262.22" cy="557.5" r="2.2" fill="#ff0000" stroke="#ff0000" stroke-width="0.6"/>
<circle cx="272.14" cy="554.5" r="2.2" fill="#ff0000" stroke="#ff0000" stroke-width="0.6"/>
<circle cx="282.07" cy="570.5" r="2.2" fill="#ff0000" stroke="#ff0000" stroke-width="0.6"/>
</g>
<g>
<polyline points="44.8,479.2 45.65,481.01 46.49,482.82 47.34,484.64 48.37,486.34 49.49,488 50.62,489.65 51.8,491.27 52.97,492.89 54.14,494.51 55.39,496.06 56.87,497.4 58.35,498.75 59.83,500.09 61.36,501.39 62.92,502.64 64.47,503.89 66.03,505.15 67.58,506.41 69.13,507.68 70.68,508.95 72.26,510.17 73.89,511.33 75.51,512.49 77.14,513.66 78.69,514.92 80.24,516.19 81.79,517.45 83.4,518.63 85.09,519.69 86.79,520.75 88.49,521.8 90.25,522.75 92.02,523.69 93.78,524.64 95.54,525.59 97.3,526.54 97.6,526.7 103.37,526 113.3,527.5 123.22,530 133.15,531.5 143.08,531.5 153.01,537 162.94,537.5 172.86,539.8 182.79,542.6 192.72,545.4 202.65,547.2 212.58,550 222.5,551.9 232.43,555.5 242.36,557.5 252.29,569.5 262.22,567 272.14,570 282.07,573 292,603" fill="none" stroke="#0000ff" stroke-width="0.9" />
<polygon points="44.8,476.56 47.44,481.12 42.16,481.12" fill="#0000ff" stroke="#0000ff" stroke-width="0.6" stroke-linejoin="miter"/>
<polygon points="45.65,478.37 48.29,482.93 43.01,482.93" fill="#0000ff" stroke="#0000ff" stroke-width="0.6" stroke-linejoin="miter"/>
<polygon points="46.49,480.18 49.13,484.74 43.85,484.74" fill="#0000ff" stroke="#0000ff" stroke-width="0.6" stroke-linejoin="miter"/>
<polygon points="47.34,482 49.98,486.56 44.7,486.56" fill="#0000ff" stroke="#0000ff" stroke-width="0.6" stroke-linejoin="miter"/>
<polygon points="48.37,483.7 51.01,488.26 45.73,488.26" fill="#0000ff" stroke="#0000ff" stroke-width="0.6" stroke-linejoin="miter"/>
<polygon points="49.49,485.36 52.13,489.92 46.85,489.92" fill="#0000ff" stroke="#0000ff" stroke-width="0.6" stroke-linejoin="miter"/>
<polygon points="50.62,487.01 53.26,491.57 47.98,491.57" fill="#0000ff" stroke="#0000ff" stroke-width="0.6" stroke-linejoin="miter"/>
<polygon points="51.8,488.63 54.44,493.19 49.16,493.19" fill="#0000ff" stroke="#0000ff" stroke-width="0.6" stroke-linejoin="miter"/>
<polygon points="52.97,490.25 55.61,494.81 50.33,494.81" fill="#0000ff" stroke="#0000ff" stroke-width="0.6" stroke-linejoin="miter"/>
<polygon points="54.14,491.87 56.78,496.43 51.5,496.43" fill="#0000ff" stroke="#0000ff" stroke-width="0.6" stroke-linejoin="miter"/>
<polygon points="55.39,493.42 58.03,497.98 52.75,497.98" fill="#0000ff" stroke="#0000ff" stroke-width="0.6" stroke-linejoin="miter"/>
<polygon points="56.87,494.76 59.51,499.32 54.23,499.32" fill="#0000ff" stroke="#0000ff" stroke-width="0.6" stroke-linejoin="miter"/>
<polygon points="58.35,496.11 60.99,500.67 55.71,500.67" fill="#0000ff" stroke="#0000ff" stroke-width="0.6" stroke-linejoin="miter"/>
<polygon points="59.83,497.45 62.47,502.01 57.19,502.01" fill="#0000ff" stroke="#0000ff" stroke-width="0.6" stroke-linejoin="miter"/>
<polygon points="61.36,498.75 64,503.31 58.72,503.31" fill="#0000ff" stroke="#0000ff" stroke-width="0.6" stroke-linejoin="miter"/>
<polygon points="62.92,500 65.56,504.56 60.28,504.56" fill="#0000ff" stroke="#0000ff" stroke-width="0.6" stroke-linejoin="miter"/>
<polygon points="64.47,501.25 67.11,505.81 61.83,505.81" fill="#0000ff" stroke="#0000ff" stroke-width="0.6" stroke-linejoin="miter"/>
<polygon points="66.03,502.51 68.67,507.07 63.39,507.07" fill="#0000ff" stroke="#0000ff" stroke-width="0.6" stroke-linejoin="miter"/>
<polygon points="67.58,503.77 70.22,508.33 64.94,508.33" fill="#0000ff" stroke="#0000ff" stroke-width="0.6" stroke-linejoin="miter"/>
<polygon points="69.13,505.04 71.77,509.6 66.49,509.6" fill="#0000ff" stroke="#0000ff" stroke-width="0.6" stroke-linejoin="miter"/>
<polygon points="70.68,506.31 73.32,510.87 68.04,510.87" fill="#0000ff" stroke="#0000ff" stroke-width="0.6" stroke-linejoin="miter"/>
<polygon points="72.26,507.53 74.9,512.09 69.62,512.09" fill="#0000ff" stroke="#0000ff" stroke-width="0.6" stroke-linejoin="miter"/>
<polygon points="73.89,508.69 76.53,513.25 71.25,513.25" fill="#0000ff" stroke="#0000ff" stroke-width="0.6" stroke-linejoin="miter"/>
<polygon points="75.51,509.85 78.15,514.41 72.87,514.41" fill="#0000ff" stroke="#0000ff" stroke-width="0.6" stroke-linejoin="miter"/>
<polygon points="77.14,511.02 79.78,515.58 74.5,515.58" fill="#0000ff" stroke="#0000ff" stroke-width="0.6" stroke-linejoin="miter"/>
<polygon points="78.69,512.28 81.33,516.84 76.05,516.84" fill="#0000ff" stroke="#0000ff" stroke-width="0.6" stroke-linejoin="miter"/>
<polygon points="80.24,513.55 82.88,518.11 77.6,518.11" fill="#0000ff" stroke="#0000ff" stroke-width="0.6" stroke-linejoin="miter"/>
<polygon points="81.79,514.81 84.43,519.37 79.15,519.37" fill="#0000ff" stroke="#0000ff" stroke-width="0.6" stroke-linejoin="miter"/>
<polygon points="83.4,515.99 86.04,520.55 80.76,520.55" fill="#0000ff" stroke="#0000ff" stroke-width="0.6" stroke-linejoin="miter"/>
<polygon points="85.09,517.05 87.73,521.61 82.45,521.61" fill="#0000ff" stroke="#0000ff" stroke-width="0.6" stroke-linejoin="miter"/>
<polygon points="86.79,518.11 89.43,522.67 84.15,522.67" fill="#0000ff" stroke="#0000ff" stroke-width="0.6" stroke-linejoin="miter"/>
<polygon points="88.49,519.16 91.13,523.72 85.85,523.72" fill="#0000ff" stroke="#0000ff" stroke-width="0.6" stroke-linejoin="miter"/>
<polygon points="90.25,520.11 92.89,524.67 87.61,524.67" fill="#0000ff" stroke="#0000ff" stroke-width="0.6" stroke-linejoin="miter"/>
<polygon points="92.02,521.05 94.66,525.61 89.38,525.61" fill="#0000ff" stroke="#0000ff" stroke-width="0.6" stroke-linejoin="miter"/>
<polygon points="93.78,522 96.42,526.56 91.14,526.56" fill="#0000ff" stroke="#0000ff" stroke-width="0.6" stroke-linejoin="miter"/>
<polygon points="95.54,522.95 98.18,527.51 92.9,527.51" fill="#0000ff" stroke="#0000ff" stroke-width="0.6" stroke-linejoin="miter"/>
<polygon points="97.3,523.9 99.94,528.46 94.66,528.46" fill="#0000ff" stroke="#0000ff" stroke-width="0.6" stroke-linejoin="miter"/>
<polygon points="97.6,524.06 100.24,528.62 94.96,528.62" fill="#0000ff" stroke="#0000ff" stroke-width="0.6" stroke-linejoin="miter"/>
<polygon points="103.37,523.36 106.01,527.92 100.73,527.92" fill="#0000ff" stroke="#0000ff" stroke-width="0.6" stroke-linejoin="miter"/>
<polygon points="113.3,524.86 115.94,529.42 110.66,529.42" fill="#0000ff" stroke="#0000ff" stroke-width="0.6" stroke-linejoin="miter"/>
<polygon points="123.22,527.36 125.86,531.92 120.58,531.92" fill="#0000ff" stroke="#0000ff" stroke-width="0.6" stroke-linejoin="miter"/>
<polygon points="133.15,528.86 135.79,533.42 130.51,533.42" fill="#0000ff" stroke="#0000ff" stroke-width="0.6" stroke-linejoin="miter"/>
<polygon points="143.08,528.86 145.72,533.42 140.44,533.42" fill="#0000ff" stroke="#0000ff" stroke-width="0.6" stroke-linejoin="miter"/>
<polygon points="153.01,534.36 155.65,538.92 150.37,538.92" fill="#0000ff" stroke="#0000ff" stroke-width="0.6" stroke-linejoin="miter"/>
<polygon points="162.94,534.86 165.58,539.42 160.3,539.42" fill="#0000ff" stroke="#0000ff" stroke-width="0.6" stroke-linejoin="miter"/>
<polygon points="172.86,537.16 175.5,541.72 170.22,541.72" fill="#0000ff" stroke="#0000ff" stroke-width="0.6" stroke-linejoin="miter"/>
<polygon points="182.79,539.96 185.43,544.52 180.15,544.52" fill="#0000ff" stroke="#0000ff" stroke-width="0.6" stroke-linejoin="miter"/>
<polygon points="192.72,542.76 195.36,547.32 190.08,547.32" fill="#0000ff" stroke="#0000ff" stroke-width="0.6" stroke-linejoin="miter"/>
<polygon points="202.65,544.56 205.29,549.12 200.01,549.12" fill="#0000ff" stroke="#0000ff" stroke-width="0.6" stroke-linejoin="miter"/>
<polygon points="212.58,547.36 215.22,551.92 209.94,551.92" fill="#0000ff" stroke="#0000ff" stroke-width="0.6" stroke-linejoin="miter"/>
<polygon points="222.5,549.26 225.14,553.82 219.86,553.82" fill="#0000ff" stroke="#0000ff" stroke-width="0.6" stroke-linejoin="miter"/>
<polygon points="232.43,552.86 235.07,557.42 229.79,557.42" fill="#0000ff" stroke="#0000ff" stroke-width="0.6" stroke-linejoin="miter"/>
<polygon points="242.36,554.86 245,559.42 239.72,559.42" fill="#0000ff" stroke="#0000ff" stroke-width="0.6" stroke-linejoin="miter"/>
<polygon points="252.29,566.86 254.93,571.42 249.65,571.42" fill="#0000ff" stroke="#0000ff" stroke-width="0.6" stroke-linejoin="miter"/>
<polygon points="262.22,564.36 264.86,568.92 259.58,568.92" fill="#0000ff" stroke="#0000ff" stroke-width="0.6" stroke-linejoin="miter"/>
<polygon points="272.14,567.36 274.78,571.92 269.5,571.92" fill="#0000ff" stroke="#0000ff" stroke-width="0.6" stroke-linejoin="miter"/>
<polygon points="282.07,570.36 284.71,574.92 279.43,574.92" fill="#0000ff" stroke="#0000ff" stroke-width="0.6" stroke-linejoin="miter"/>
</g>
<g>
<polyline points="44.8,475.2 44.97,477.19 45.13,479.19 45.3,481.18 45.57,483.16 45.85,485.14 46.39,487.05 47.22,488.87 48.04,490.69 48.86,492.51 49.69,494.33 50.66,496.05 52.11,497.43 53.55,498.81 55,500.2 56.48,501.54 57.96,502.89 59.44,504.23 60.92,505.57 62.41,506.91 63.9,508.24 65.4,509.57 66.92,510.87 68.46,512.13 70.01,513.4 71.56,514.67 73.12,515.92 74.68,517.17 76.24,518.43 77.77,519.71 79.25,521.06 80.73,522.41 82.21,523.75 83.78,524.97 85.41,526.14 87.04,527.3 88.68,528.44 90.38,529.5 92.07,530.56 93.77,531.62 95.52,532.58 97.28,533.53 97.6,533.7 103.37,533.5 113.3,535 123.22,537.5 133.15,538.5 143.08,540 153.01,543 162.94,544.5 172.86,543 182.79,546.3 192.72,549 202.65,544.4 212.58,543.5 222.5,548.1 232.43,546.25 242.36,548.75 252.29,557.5 262.22,556.25 272.14,569.5 282.07,576.25" fill="none" stroke="#ff00ff" stroke-width="0.9" stroke-dasharray="3,1.2"/>
<polygon points="44.8,477.95 47.55,473.2 42.05,473.2" fill="#ff00ff" stroke="#ff00ff" stroke-width="0.6" stroke-linejoin="miter"/>
<polygon points="44.97,479.94 47.72,475.19 42.22,475.19" fill="#ff00ff" stroke="#ff00ff" stroke-width="0.6" stroke-linejoin="miter"/>
<polygon points="45.13,481.94 47.88,477.19 42.38,477.19" fill="#ff00ff" stroke="#ff00ff" stroke-width="0.6" stroke-linejoin="miter"/>
<polygon points="45.3,483.93 48.05,479.18 42.55,479.18" fill="#ff00ff" stroke="#ff00ff" stroke-width="0.6" stroke-linejoin="miter"/>
<polygon points="45.57,485.91 48.32,481.16 42.82,481.16" fill="#ff00ff" stroke="#ff00ff" stroke-width="0.6" stroke-linejoin="miter"/>
<polygon points="45.85,487.89 48.6,483.14 43.1,483.14" fill="#ff00ff" stroke="#ff00ff" stroke-width="0.6" stroke-linejoin="miter"/>
<polygon points="46.39,489.8 49.14,485.05 43.64,485.05" fill="#ff00ff" stroke="#ff00ff" stroke-width="0.6" stroke-linejoin="miter"/>
<polygon points="47.22,491.62 49.97,486.87 44.47,486.87" fill="#ff00ff" stroke="#ff00ff" stroke-width="0.6" stroke-linejoin="miter"/>
<polygon points="48.04,493.44 50.79,488.69 45.29,488.69" fill="#ff00ff" stroke="#ff00ff" stroke-width="0.6" stroke-linejoin="miter"/>
<polygon points="48.86,495.26 51.61,490.51 46.11,490.51" fill="#ff00ff" stroke="#ff00ff" stroke-width="0.6" stroke-linejoin="miter"/>
<polygon points="49.69,497.08 52.44,492.33 46.94,492.33" fill="#ff00ff" stroke="#ff00ff" stroke-width="0.6" stroke-linejoin="miter"/>
<polygon points="50.66,498.8 53.41,494.05 47.91,494.05" fill="#ff00ff" stroke="#ff00ff" stroke-width="0.6" stroke-linejoin="miter"/>
<polygon points="52.11,500.18 54.86,495.43 49.36,495.43" fill="#ff00ff" stroke="#ff00ff" stroke-width="0.6" stroke-linejoin="miter"/>
<polygon points="53.55,501.56 56.3,496.81 50.8,496.81" fill="#ff00ff" stroke="#ff00ff" stroke-width="0.6" stroke-linejoin="miter"/>
<polygon points="55,502.95 57.75,498.2 52.25,498.2" fill="#ff00ff" stroke="#ff00ff" stroke-width="0.6" stroke-linejoin="miter"/>
<polygon points="56.48,504.29 59.23,499.54 53.73,499.54" fill="#ff00ff" stroke="#ff00ff" stroke-width="0.6" stroke-linejoin="miter"/>
<polygon points="57.96,505.64 60.71,500.89 55.21,500.89" fill="#ff00ff" stroke="#ff00ff" stroke-width="0.6" stroke-linejoin="miter"/>
<polygon points="59.44,506.98 62.19,502.23 56.69,502.23" fill="#ff00ff" stroke="#ff00ff" stroke-width="0.6" stroke-linejoin="miter"/>
<polygon points="60.92,508.32 63.67,503.57 58.17,503.57" fill="#ff00ff" stroke="#ff00ff" stroke-width="0.6" stroke-linejoin="miter"/>
<polygon points="62.41,509.66 65.16,504.91 59.66,504.91" fill="#ff00ff" stroke="#ff00ff" stroke-width="0.6" stroke-linejoin="miter"/>
<polygon points="63.9,510.99 66.65,506.24 61.15,506.24" fill="#ff00ff" stroke="#ff00ff" stroke-width="0.6" stroke-linejoin="miter"/>
<polygon points="65.4,512.32 68.15,507.57 62.65,507.57" fill="#ff00ff" stroke="#ff00ff" stroke-width="0.6" stroke-linejoin="miter"/>
<polygon points="66.92,513.62 69.67,508.87 64.17,508.87" fill="#ff00ff" stroke="#ff00ff" stroke-width="0.6" stroke-linejoin="miter"/>
<polygon points="68.46,514.88 71.21,510.13 65.71,510.13" fill="#ff00ff" stroke="#ff00ff" stroke-width="0.6" stroke-linejoin="miter"/>
<polygon points="70.01,516.15 72.76,511.4 67.26,511.4" fill="#ff00ff" stroke="#ff00ff" stroke-width="0.6" stroke-linejoin="miter"/>
<polygon points="71.56,517.42 74.31,512.67 68.81,512.67" fill="#ff00ff" stroke="#ff00ff" stroke-width="0.6" stroke-linejoin="miter"/>
<polygon points="73.12,518.67 75.87,513.92 70.37,513.92" fill="#ff00ff" stroke="#ff00ff" stroke-width="0.6" stroke-linejoin="miter"/>
<polygon points="74.68,519.92 77.43,515.17 71.93,515.17" fill="#ff00ff" stroke="#ff00ff" stroke-width="0.6" stroke-linejoin="miter"/>
<polygon points="76.24,521.18 78.99,516.43 73.49,516.43" fill="#ff00ff" stroke="#ff00ff" stroke-width="0.6" stroke-linejoin="miter"/>
<polygon points="77.77,522.46 80.52,517.71 75.02,517.71" fill="#ff00ff" stroke="#ff00ff" stroke-width="0.6" stroke-linejoin="miter"/>
<polygon points="79.25,523.81 82,519.06 76.5,519.06" fill="#ff00ff" stroke="#ff00ff" stroke-width="0.6" stroke-linejoin="miter"/>
<polygon points="80.73,525.16 83.48,520.41 77.98,520.41" fill="#ff00ff" stroke="#ff00ff" stroke-width="0.6" stroke-linejoin="miter"/>
<polygon points="82.21,526.5 84.96,521.75 79.46,521.75" fill="#ff00ff" stroke="#ff00ff" stroke-width="0.6" stroke-linejoin="miter"/>
<polygon points="83.78,527.72 86.53,522.97 81.03,522.97" fill="#ff00ff" stroke="#ff00ff" stroke-width="0.6" stroke-linejoin="miter"/>
<polygon points="85.41,528.89 88.16,524.14 82.66,524.14" fill="#ff00ff" stroke="#ff00ff" stroke-width="0.6" stroke-linejoin="miter"/>
<polygon points="87.04,530.05 89.79,525.3 84.29,525.3" fill="#ff00ff" stroke="#ff00ff" stroke-width="0.6" stroke-linejoin="miter"/>
<polygon points="88.68,531.19 91.43,526.44 85.93,526.44" fill="#ff00ff" stroke="#ff00ff" stroke-width="0.6" stroke-linejoin="miter"/>
<polygon points="90.38,532.25 93.13,527.5 87.63,527.5" fill="#ff00ff" stroke="#ff00ff" stroke-width="0.6" stroke-linejoin="miter"/>
<polygon points="92.07,533.31 94.82,528.56 89.32,528.56" fill="#ff00ff" stroke="#ff00ff" stroke-width="0.6" stroke-linejoin="miter"/>
<polygon points="93.77,534.37 96.52,529.62 91.02,529.62" fill="#ff00ff" stroke="#ff00ff" stroke-width="0.6" stroke-linejoin="miter"/>
<polygon points="95.52,535.33 98.27,530.58 92.77,530.58" fill="#ff00ff" stroke="#ff00ff" stroke-width="0.6" stroke-linejoin="miter"/>
<polygon points="97.28,536.28 100.03,531.53 94.53,531.53" fill="#ff00ff" stroke="#ff00ff" stroke-width="0.6" stroke-linejoin="miter"/>
<polygon points="97.6,536.45 100.35,531.7 94.85,531.7" fill="#ff00ff" stroke="#ff00ff" stroke-width="0.6" stroke-linejoin="miter"/>
<polygon points="103.37,536.25 106.12,531.5 100.62,531.5" fill="#ff00ff" stroke="#ff00ff" stroke-width="0.6" stroke-linejoin="miter"/>
<polygon points="113.3,537.75 116.05,533 110.55,533" fill="#ff00ff" stroke="#ff00ff" stroke-width="0.6" stroke-linejoin="miter"/>
<polygon points="123.22,540.25 125.97,535.5 120.47,535.5" fill="#ff00ff" stroke="#ff00ff" stroke-width="0.6" stroke-linejoin="miter"/>
<polygon points="133.15,541.25 135.9,536.5 130.4,536.5" fill="#ff00ff" stroke="#ff00ff" stroke-width="0.6" stroke-linejoin="miter"/>
<polygon points="143.08,542.75 145.83,538 140.33,538" fill="#ff00ff" stroke="#ff00ff" stroke-width="0.6" stroke-linejoin="miter"/>
<polygon points="153.01,545.75 155.76,541 150.26,541" fill="#ff00ff" stroke="#ff00ff" stroke-width="0.6" stroke-linejoin="miter"/>
<polygon points="162.94,547.25 165.69,542.5 160.19,542.5" fill="#ff00ff" stroke="#ff00ff" stroke-width="0.6" stroke-linejoin="miter"/>
<polygon points="172.86,545.75 175.61,541 170.11,541" fill="#ff00ff" stroke="#ff00ff" stroke-width="0.6" stroke-linejoin="miter"/>
<polygon points="182.79,549.05 185.54,544.3 180.04,544.3" fill="#ff00ff" stroke="#ff00ff" stroke-width="0.6" stroke-linejoin="miter"/>
<polygon points="192.72,551.75 195.47,547 189.97,547" fill="#ff00ff" stroke="#ff00ff" stroke-width="0.6" stroke-linejoin="miter"/>
<polygon points="202.65,547.15 205.4,542.4 199.9,542.4" fill="#ff00ff" stroke="#ff00ff" stroke-width="0.6" stroke-linejoin="miter"/>
<polygon points="212.58,546.25 215.33,541.5 209.83,541.5" fill="#ff00ff" stroke="#ff00ff" stroke-width="0.6" stroke-linejoin="miter"/>
<polygon points="222.5,550.85 225.25,546.1 219.75,546.1" fill="#ff00ff" stroke="#ff00ff" stroke-width="0.6" stroke-linejoin="miter"/>
<polygon points="232.43,549 235.18,544.25 229.68,544.25" fill="#ff00ff" stroke="#ff00ff" stroke-width="0.6" stroke-linejoin="miter"/>
<polygon points="242.36,551.5 245.11,546.75 239.61,546.75" fill="#ff00ff" stroke="#ff00ff" stroke-width="0.6" stroke-linejoin="miter"/>
<polygon points="252.29,560.25 255.04,555.5 249.54,555.5" fill="#ff00ff" stroke="#ff00ff" stroke-width="0.6" stroke-linejoin="miter"/>
<polygon points="262.22,559 264.97,554.25 259.47,554.25" fill="#ff00ff" stroke="#ff00ff" stroke-width="0.6" stroke-linejoin="miter"/>
<polygon points="272.14,572.25 274.89,567.5 269.39,567.5" fill="#ff00ff" stroke="#ff00ff" stroke-width="0.6" stroke-linejoin="miter"/>
<polygon points="282.07,579 284.82,574.25 279.32,574.25" fill="#ff00ff" stroke="#ff00ff" stroke-width="0.6" stroke-linejoin="miter"/>
</g>
<g>
<polyline points="44.5,488 45.21,489.65 45.92,491.31 46.99,492.74 48.12,494.15 49.24,495.55 50.41,496.93 51.65,498.23 52.89,499.53 54.14,500.83 55.41,502.1 56.7,503.36 57.98,504.63 59.26,505.89 60.54,507.16 61.82,508.42 62.95,509.83 64.07,511.23 65.2,512.63 66.33,514.04 67.37,515.5 68.37,517 69.36,518.5 70.36,520 71.37,521.49 72.39,522.97 73.4,524.46 74.42,525.94 75.58,527.31 76.84,528.6 78.09,529.9 79.34,531.19 80.59,532.48 81.85,533.77 83.11,535.05 84.38,536.33 85.64,537.61 86.9,538.9 88.16,540.18 89.42,541.47 90.68,542.76 91.7,543.8 103.37,548.3 113.3,554.4 123.22,561.9 133.15,573 143.08,584.4 153.01,605 162.94,636.25" fill="none" stroke="#800080" stroke-width="0.9" />
<polygon points="44.5,485.42 47.08,488 44.5,490.58 41.92,488" fill="#800080" stroke="#800080" stroke-width="0.6" stroke-linejoin="miter"/>
<polygon points="45.21,487.07 47.79,489.65 45.21,492.23 42.63,489.65" fill="#800080" stroke="#800080" stroke-width="0.6" stroke-linejoin="miter"/>
<polygon points="45.92,488.73 48.5,491.31 45.92,493.89 43.34,491.31" fill="#800080" stroke="#800080" stroke-width="0.6" stroke-linejoin="miter"/>
<polygon points="46.99,490.16 49.57,492.74 46.99,495.32 44.41,492.74" fill="#800080" stroke="#800080" stroke-width="0.6" stroke-linejoin="miter"/>
<polygon points="48.12,491.57 50.7,494.15 48.12,496.73 45.54,494.15" fill="#800080" stroke="#800080" stroke-width="0.6" stroke-linejoin="miter"/>
<polygon points="49.24,492.97 51.82,495.55 49.24,498.13 46.66,495.55" fill="#800080" stroke="#800080" stroke-width="0.6" stroke-linejoin="miter"/>
<polygon points="50.41,494.35 52.99,496.93 50.41,499.51 47.83,496.93" fill="#800080" stroke="#800080" stroke-width="0.6" stroke-linejoin="miter"/>
<polygon points="51.65,495.65 54.23,498.23 51.65,500.81 49.07,498.23" fill="#800080" stroke="#800080" stroke-width="0.6" stroke-linejoin="miter"/>
<polygon points="52.89,496.95 55.47,499.53 52.89,502.11 50.31,499.53" fill="#800080" stroke="#800080" stroke-width="0.6" stroke-linejoin="miter"/>
<polygon points="54.14,498.25 56.72,500.83 54.14,503.41 51.56,500.83" fill="#800080" stroke="#800080" stroke-width="0.6" stroke-linejoin="miter"/>
<polygon points="55.41,499.52 57.99,502.1 55.41,504.68 52.83,502.1" fill="#800080" stroke="#800080" stroke-width="0.6" stroke-linejoin="miter"/>
<polygon points="56.7,500.78 59.28,503.36 56.7,505.94 54.12,503.36" fill="#800080" stroke="#800080" stroke-width="0.6" stroke-linejoin="miter"/>
<polygon points="57.98,502.05 60.56,504.63 57.98,507.21 55.4,504.63" fill="#800080" stroke="#800080" stroke-width="0.6" stroke-linejoin="miter"/>
<polygon points="59.26,503.31 61.84,505.89 59.26,508.47 56.68,505.89" fill="#800080" stroke="#800080" stroke-width="0.6" stroke-linejoin="miter"/>
<polygon points="60.54,504.58 63.12,507.16 60.54,509.74 57.96,507.16" fill="#800080" stroke="#800080" stroke-width="0.6" stroke-linejoin="miter"/>
<polygon points="61.82,505.84 64.4,508.42 61.82,511 59.24,508.42" fill="#800080" stroke="#800080" stroke-width="0.6" stroke-linejoin="miter"/>
<polygon points="62.95,507.25 65.53,509.83 62.95,512.41 60.37,509.83" fill="#800080" stroke="#800080" stroke-width="0.6" stroke-linejoin="miter"/>
<polygon points="64.07,508.65 66.65,511.23 64.07,513.81 61.49,511.23" fill="#800080" stroke="#800080" stroke-width="0.6" stroke-linejoin="miter"/>
<polygon points="65.2,510.05 67.78,512.63 65.2,515.21 62.62,512.63" fill="#800080" stroke="#800080" stroke-width="0.6" stroke-linejoin="miter"/>
<polygon points="66.33,511.46 68.91,514.04 66.33,516.62 63.75,514.04" fill="#800080" stroke="#800080" stroke-width="0.6" stroke-linejoin="miter"/>
<polygon points="67.37,512.92 69.95,515.5 67.37,518.08 64.79,515.5" fill="#800080" stroke="#800080" stroke-width="0.6" stroke-linejoin="miter"/>
<polygon points="68.37,514.42 70.95,517 68.37,519.58 65.79,517" fill="#800080" stroke="#800080" stroke-width="0.6" stroke-linejoin="miter"/>
<polygon points="69.36,515.92 71.94,518.5 69.36,521.08 66.78,518.5" fill="#800080" stroke="#800080" stroke-width="0.6" stroke-linejoin="miter"/>
<polygon points="70.36,517.42 72.94,520 70.36,522.58 67.78,520" fill="#800080" stroke="#800080" stroke-width="0.6" stroke-linejoin="miter"/>
<polygon points="71.37,518.91 73.95,521.49 71.37,524.07 68.79,521.49" fill="#800080" stroke="#800080" stroke-width="0.6" stroke-linejoin="miter"/>
<polygon points="72.39,520.39 74.97,522.97 72.39,525.55 69.81,522.97" fill="#800080" stroke="#800080" stroke-width="0.6" stroke-linejoin="miter"/>
<polygon points="73.4,521.88 75.98,524.46 73.4,527.04 70.82,524.46" fill="#800080" stroke="#800080" stroke-width="0.6" stroke-linejoin="miter"/>
<polygon points="74.42,523.36 77,525.94 74.42,528.52 71.84,525.94" fill="#800080" stroke="#800080" stroke-width="0.6" stroke-linejoin="miter"/>
<polygon points="75.58,524.73 78.16,527.31 75.58,529.89 73,527.31" fill="#800080" stroke="#800080" stroke-width="0.6" stroke-linejoin="miter"/>
<polygon points="76.84,526.02 79.42,528.6 76.84,531.18 74.26,528.6" fill="#800080" stroke="#800080" stroke-width="0.6" stroke-linejoin="miter"/>
<polygon points="78.09,527.32 80.67,529.9 78.09,532.48 75.51,529.9" fill="#800080" stroke="#800080" stroke-width="0.6" stroke-linejoin="miter"/>
<polygon points="79.34,528.61 81.92,531.19 79.34,533.77 76.76,531.19" fill="#800080" stroke="#800080" stroke-width="0.6" stroke-linejoin="miter"/>
<polygon points="80.59,529.9 83.17,532.48 80.59,535.06 78.01,532.48" fill="#800080" stroke="#800080" stroke-width="0.6" stroke-linejoin="miter"/>
<polygon points="81.85,531.19 84.43,533.77 81.85,536.35 79.27,533.77" fill="#800080" stroke="#800080" stroke-width="0.6" stroke-linejoin="miter"/>
<polygon points="83.11,532.47 85.69,535.05 83.11,537.63 80.53,535.05" fill="#800080" stroke="#800080" stroke-width="0.6" stroke-linejoin="miter"/>
<polygon points="84.38,533.75 86.96,536.33 84.38,538.91 81.8,536.33" fill="#800080" stroke="#800080" stroke-width="0.6" stroke-linejoin="miter"/>
<polygon points="85.64,535.03 88.22,537.61 85.64,540.19 83.06,537.61" fill="#800080" stroke="#800080" stroke-width="0.6" stroke-linejoin="miter"/>
<polygon points="86.9,536.32 89.48,538.9 86.9,541.48 84.32,538.9" fill="#800080" stroke="#800080" stroke-width="0.6" stroke-linejoin="miter"/>
<polygon points="88.16,537.6 90.74,540.18 88.16,542.76 85.58,540.18" fill="#800080" stroke="#800080" stroke-width="0.6" stroke-linejoin="miter"/>
<polygon points="89.42,538.89 92,541.47 89.42,544.05 86.84,541.47" fill="#800080" stroke="#800080" stroke-width="0.6" stroke-linejoin="miter"/>
<polygon points="90.68,540.18 93.26,542.76 90.68,545.34 88.1,542.76" fill="#800080" stroke="#800080" stroke-width="0.6" stroke-linejoin="miter"/>
<polygon points="91.7,541.22 94.28,543.8 91.7,546.38 89.12,543.8" fill="#800080" stroke="#800080" stroke-width="0.6" stroke-linejoin="miter"/>
<polygon points="103.37,545.72 105.95,548.3 103.37,550.88 100.79,548.3" fill="#800080" stroke="#800080" stroke-width="0.6" stroke-linejoin="miter"/>
<polygon points="113.3,551.82 115.88,554.4 113.3,556.98 110.72,554.4" fill="#800080" stroke="#800080" stroke-width="0.6" stroke-linejoin="miter"/>
<polygon points="123.22,559.32 125.8,561.9 123.22,564.48 120.64,561.9" fill="#800080" stroke="#800080" stroke-width="0.6" stroke-linejoin="miter"/>
<polygon points="133.15,570.42 135.73,573 133.15,575.58 130.57,573" fill="#800080" stroke="#800080" stroke-width="0.6" stroke-linejoin="miter"/>
<polygon points="143.08,581.82 145.66,584.4 143.08,586.98 140.5,584.4" fill="#800080" stroke="#800080" stroke-width="0.6" stroke-linejoin="miter"/>
<polygon points="162.94,633.67 165.52,636.25 162.94,638.83 160.36,636.25" fill="#800080" stroke="#800080" stroke-width="0.6" stroke-linejoin="miter"/>
</g>
<g>
<polyline points="44.5,483.5 44.6,486 44.8,488.5 45.5,491.5 46.3,494.2 48.8,499.8 51.3,503.8 55,508.4 56.8,512.5 59.3,517.3 61.8,521.6 64.3,525.8 67.3,528.6 69.2,532 71,534.6 74.1,537.2 76.6,539.7 79.1,542.8 88.5,553 98,564 103.4,570.5 113.3,589 122.8,606.5 130.5,657" fill="none" stroke="#008000" stroke-width="0.9" />
<polygon points="41.97,483.5 46.34,480.97 46.34,486.03" fill="#008000" stroke="#008000" stroke-width="0.6" stroke-linejoin="miter"/>
<polygon points="42.07,486 46.44,483.47 46.44,488.53" fill="#008000" stroke="#008000" stroke-width="0.6" stroke-linejoin="miter"/>
<polygon points="42.27,488.5 46.64,485.97 46.64,491.03" fill="#008000" stroke="#008000" stroke-width="0.6" stroke-linejoin="miter"/>
<polygon points="42.97,491.5 47.34,488.97 47.34,494.03" fill="#008000" stroke="#008000" stroke-width="0.6" stroke-linejoin="miter"/>
<polygon points="43.77,494.2 48.14,491.67 48.14,496.73" fill="#008000" stroke="#008000" stroke-width="0.6" stroke-linejoin="miter"/>
<polygon points="46.27,499.8 50.64,497.27 50.64,502.33" fill="#008000" stroke="#008000" stroke-width="0.6" stroke-linejoin="miter"/>
<polygon points="48.77,503.8 53.14,501.27 53.14,506.33" fill="#008000" stroke="#008000" stroke-width="0.6" stroke-linejoin="miter"/>
<polygon points="52.47,508.4 56.84,505.87 56.84,510.93" fill="#008000" stroke="#008000" stroke-width="0.6" stroke-linejoin="miter"/>
<polygon points="54.27,512.5 58.64,509.97 58.64,515.03" fill="#008000" stroke="#008000" stroke-width="0.6" stroke-linejoin="miter"/>
<polygon points="56.77,517.3 61.14,514.77 61.14,519.83" fill="#008000" stroke="#008000" stroke-width="0.6" stroke-linejoin="miter"/>
<polygon points="59.27,521.6 63.64,519.07 63.64,524.13" fill="#008000" stroke="#008000" stroke-width="0.6" stroke-linejoin="miter"/>
<polygon points="61.77,525.8 66.14,523.27 66.14,528.33" fill="#008000" stroke="#008000" stroke-width="0.6" stroke-linejoin="miter"/>
<polygon points="64.77,528.6 69.14,526.07 69.14,531.13" fill="#008000" stroke="#008000" stroke-width="0.6" stroke-linejoin="miter"/>
<polygon points="66.67,532 71.04,529.47 71.04,534.53" fill="#008000" stroke="#008000" stroke-width="0.6" stroke-linejoin="miter"/>
<polygon points="68.47,534.6 72.84,532.07 72.84,537.13" fill="#008000" stroke="#008000" stroke-width="0.6" stroke-linejoin="miter"/>
<polygon points="71.57,537.2 75.94,534.67 75.94,539.73" fill="#008000" stroke="#008000" stroke-width="0.6" stroke-linejoin="miter"/>
<polygon points="74.07,539.7 78.44,537.17 78.44,542.23" fill="#008000" stroke="#008000" stroke-width="0.6" stroke-linejoin="miter"/>
<polygon points="76.57,542.8 80.94,540.27 80.94,545.33" fill="#008000" stroke="#008000" stroke-width="0.6" stroke-linejoin="miter"/>
<polygon points="120.27,606.5 124.64,603.97 124.64,609.03" fill="#008000" stroke="#008000" stroke-width="0.6" stroke-linejoin="miter"/>
</g>
<g>
<polyline points="44.5,491 44.5,493 45.1,496 45.1,498.5 47.6,502.2 50,506 52.5,510.9 56.2,515.8 58,518.9 60.5,523.9 63.3,528.5 67,533.1 69.8,537.8 72.5,548 75.3,558.5 78,568.5 80.9,577.5 83.9,589 86.4,598 88.5,608.8 91,620 93.3,628.8 97,657" fill="none" stroke="#ff8000" stroke-width="0.9" />
<polygon points="47.03,491 42.66,488.47 42.66,493.53" fill="#ff8000" stroke="#ff8000" stroke-width="0.6" stroke-linejoin="miter"/>
<polygon points="47.03,493 42.66,490.47 42.66,495.53" fill="#ff8000" stroke="#ff8000" stroke-width="0.6" stroke-linejoin="miter"/>
<polygon points="47.63,496 43.26,493.47 43.26,498.53" fill="#ff8000" stroke="#ff8000" stroke-width="0.6" stroke-linejoin="miter"/>
<polygon points="47.63,498.5 43.26,495.97 43.26,501.03" fill="#ff8000" stroke="#ff8000" stroke-width="0.6" stroke-linejoin="miter"/>
<polygon points="50.13,502.2 45.76,499.67 45.76,504.73" fill="#ff8000" stroke="#ff8000" stroke-width="0.6" stroke-linejoin="miter"/>
<polygon points="52.53,506 48.16,503.47 48.16,508.53" fill="#ff8000" stroke="#ff8000" stroke-width="0.6" stroke-linejoin="miter"/>
<polygon points="55.03,510.9 50.66,508.37 50.66,513.43" fill="#ff8000" stroke="#ff8000" stroke-width="0.6" stroke-linejoin="miter"/>
<polygon points="58.73,515.8 54.36,513.27 54.36,518.33" fill="#ff8000" stroke="#ff8000" stroke-width="0.6" stroke-linejoin="miter"/>
<polygon points="60.53,518.9 56.16,516.37 56.16,521.43" fill="#ff8000" stroke="#ff8000" stroke-width="0.6" stroke-linejoin="miter"/>
<polygon points="63.03,523.9 58.66,521.37 58.66,526.43" fill="#ff8000" stroke="#ff8000" stroke-width="0.6" stroke-linejoin="miter"/>
<polygon points="65.83,528.5 61.46,525.97 61.46,531.03" fill="#ff8000" stroke="#ff8000" stroke-width="0.6" stroke-linejoin="miter"/>
<polygon points="69.53,533.1 65.16,530.57 65.16,535.63" fill="#ff8000" stroke="#ff8000" stroke-width="0.6" stroke-linejoin="miter"/>
<polygon points="72.33,537.8 67.96,535.27 67.96,540.33" fill="#ff8000" stroke="#ff8000" stroke-width="0.6" stroke-linejoin="miter"/>
<polygon points="77.83,558.5 73.46,555.97 73.46,561.03" fill="#ff8000" stroke="#ff8000" stroke-width="0.6" stroke-linejoin="miter"/>
<polygon points="80.53,568.5 76.16,565.97 76.16,571.03" fill="#ff8000" stroke="#ff8000" stroke-width="0.6" stroke-linejoin="miter"/>
<polygon points="83.43,577.5 79.06,574.97 79.06,580.03" fill="#ff8000" stroke="#ff8000" stroke-width="0.6" stroke-linejoin="miter"/>
<polygon points="86.43,589 82.06,586.47 82.06,591.53" fill="#ff8000" stroke="#ff8000" stroke-width="0.6" stroke-linejoin="miter"/>
<polygon points="88.93,598 84.56,595.47 84.56,600.53" fill="#ff8000" stroke="#ff8000" stroke-width="0.6" stroke-linejoin="miter"/>
<polygon points="91.03,608.8 86.66,606.27 86.66,611.33" fill="#ff8000" stroke="#ff8000" stroke-width="0.6" stroke-linejoin="miter"/>
<polygon points="93.53,620 89.16,617.47 89.16,622.53" fill="#ff8000" stroke="#ff8000" stroke-width="0.6" stroke-linejoin="miter"/>
<polygon points="95.83,628.8 91.46,626.27 91.46,631.33" fill="#ff8000" stroke="#ff8000" stroke-width="0.6" stroke-linejoin="miter"/>
</g>
<rect x="43.9" y="461.6" width="253.3" height="195.4" fill="none" stroke="#333" stroke-width="1.1"/>
<line x1="222" y1="657" x2="297.2" y2="657" stroke="#5050c8" stroke-width="0.9" />
<line x1="43.8" y1="657" x2="43.8" y2="654" stroke="#333" stroke-width="0.9" />
<text x="43.8" y="670.6" font-family="Liberation Sans" font-size="11" text-anchor="middle" fill="#222" >0</text>
<line x1="68.62" y1="657" x2="68.62" y2="655" stroke="#333" stroke-width="0.9" />
<line x1="93.44" y1="657" x2="93.44" y2="654" stroke="#333" stroke-width="0.9" />
<text x="93.44" y="670.6" font-family="Liberation Sans" font-size="11" text-anchor="middle" fill="#222" >10</text>
<line x1="118.26" y1="657" x2="118.26" y2="655" stroke="#333" stroke-width="0.9" />
<line x1="143.08" y1="657" x2="143.08" y2="654" stroke="#333" stroke-width="0.9" />
<text x="143.08" y="670.6" font-family="Liberation Sans" font-size="11" text-anchor="middle" fill="#222" >20</text>
<line x1="167.9" y1="657" x2="167.9" y2="655" stroke="#333" stroke-width="0.9" />
<line x1="192.72" y1="657" x2="192.72" y2="654" stroke="#333" stroke-width="0.9" />
<text x="192.72" y="670.6" font-family="Liberation Sans" font-size="11" text-anchor="middle" fill="#222" >30</text>
<line x1="217.54" y1="657" x2="217.54" y2="655" stroke="#333" stroke-width="0.9" />
<line x1="242.36" y1="657" x2="242.36" y2="654" stroke="#333" stroke-width="0.9" />
<text x="242.36" y="670.6" font-family="Liberation Sans" font-size="11" text-anchor="middle" fill="#222" >40</text>
<line x1="267.18" y1="657" x2="267.18" y2="655" stroke="#333" stroke-width="0.9" />
<line x1="292" y1="657" x2="292" y2="654" stroke="#333" stroke-width="0.9" />
<text x="292" y="670.6" font-family="Liberation Sans" font-size="11" text-anchor="middle" fill="#222" >50</text>
<line x1="43.9" y1="656.7" x2="47.4" y2="656.7" stroke="#333" stroke-width="0.8" />
<line x1="43.9" y1="639.78" x2="45.9" y2="639.78" stroke="#333" stroke-width="0.8" />
<line x1="43.9" y1="629.89" x2="45.9" y2="629.89" stroke="#333" stroke-width="0.8" />
<line x1="43.9" y1="622.86" x2="45.9" y2="622.86" stroke="#333" stroke-width="0.8" />
<line x1="43.9" y1="617.42" x2="45.9" y2="617.42" stroke="#333" stroke-width="0.8" />
<line x1="43.9" y1="612.97" x2="45.9" y2="612.97" stroke="#333" stroke-width="0.8" />
<line x1="43.9" y1="609.21" x2="45.9" y2="609.21" stroke="#333" stroke-width="0.8" />
<line x1="43.9" y1="605.95" x2="45.9" y2="605.95" stroke="#333" stroke-width="0.8" />
<line x1="43.9" y1="603.07" x2="45.9" y2="603.07" stroke="#333" stroke-width="0.8" />
<line x1="43.9" y1="600.5" x2="47.4" y2="600.5" stroke="#333" stroke-width="0.8" />
<line x1="43.9" y1="583.58" x2="45.9" y2="583.58" stroke="#333" stroke-width="0.8" />
<line x1="43.9" y1="573.69" x2="45.9" y2="573.69" stroke="#333" stroke-width="0.8" />
<line x1="43.9" y1="566.66" x2="45.9" y2="566.66" stroke="#333" stroke-width="0.8" />
<line x1="43.9" y1="561.22" x2="45.9" y2="561.22" stroke="#333" stroke-width="0.8" />
<line x1="43.9" y1="556.77" x2="45.9" y2="556.77" stroke="#333" stroke-width="0.8" />
<line x1="43.9" y1="553.01" x2="45.9" y2="553.01" stroke="#333" stroke-width="0.8" />
<line x1="43.9" y1="549.75" x2="45.9" y2="549.75" stroke="#333" stroke-width="0.8" />
<line x1="43.9" y1="546.87" x2="45.9" y2="546.87" stroke="#333" stroke-width="0.8" />
<line x1="43.9" y1="544.3" x2="47.4" y2="544.3" stroke="#333" stroke-width="0.8" />
<line x1="43.9" y1="527.38" x2="45.9" y2="527.38" stroke="#333" stroke-width="0.8" />
<line x1="43.9" y1="517.49" x2="45.9" y2="517.49" stroke="#333" stroke-width="0.8" />
<line x1="43.9" y1="510.46" x2="45.9" y2="510.46" stroke="#333" stroke-width="0.8" />
<line x1="43.9" y1="505.02" x2="45.9" y2="505.02" stroke="#333" stroke-width="0.8" />
<line x1="43.9" y1="500.57" x2="45.9" y2="500.57" stroke="#333" stroke-width="0.8" />
<line x1="43.9" y1="496.81" x2="45.9" y2="496.81" stroke="#333" stroke-width="0.8" />
<line x1="43.9" y1="493.55" x2="45.9" y2="493.55" stroke="#333" stroke-width="0.8" />
<line x1="43.9" y1="490.67" x2="45.9" y2="490.67" stroke="#333" stroke-width="0.8" />
<line x1="43.9" y1="488.1" x2="47.4" y2="488.1" stroke="#333" stroke-width="0.8" />
<line x1="43.9" y1="471.18" x2="45.9" y2="471.18" stroke="#333" stroke-width="0.8" />
<text x="40.4" y="661.9" font-family="Liberation Sans" font-size="11.5" text-anchor="end" fill="#222">10<tspan font-size="8" dy="-4.6">1</tspan></text>
<text x="40.4" y="605.7" font-family="Liberation Sans" font-size="11.5" text-anchor="end" fill="#222">10<tspan font-size="8" dy="-4.6">2</tspan></text>
<text x="40.4" y="549.5" font-family="Liberation Sans" font-size="11.5" text-anchor="end" fill="#222">10<tspan font-size="8" dy="-4.6">3</tspan></text>
<text x="40.4" y="493.3" font-family="Liberation Sans" font-size="11.5" text-anchor="end" fill="#222">10<tspan font-size="8" dy="-4.6">4</tspan></text>
<text x="3" y="479.3" font-family="Liberation Serif" font-size="16.5" text-anchor="start" fill="#000" >(c)</text>
<text transform="translate(13.6,592.3) rotate(-90)" font-family="Liberation Sans" font-size="11.5" fill="#222">J<tspan font-size="8" dy="2.5">c</tspan><tspan dy="-2.5"> (A/cm</tspan><tspan font-size="8" dy="-5">2</tspan><tspan dy="5">)</tspan></text>
<text x="170" y="683.8" font-family="Liberation Sans" font-size="11.5" text-anchor="middle" fill="#222" >H (kOe)</text>
<line x1="86.3" y1="471.3" x2="95.7" y2="471.3" stroke="#000" stroke-width="1.1" />
<line x1="102.9" y1="471.3" x2="112.5" y2="471.3" stroke="#000" stroke-width="1.1" />
<rect x="97.4" y="469.4" width="3.8" height="3.8" fill="#000" stroke="#000" stroke-width="0.7"/>
<text x="116.3" y="475.3" font-family="Liberation Sans" font-size="11.4" text-anchor="start" fill="#222" >1.8K</text>
<line x1="142.5" y1="471.3" x2="152.6" y2="471.3" stroke="#ff0000" stroke-width="1.1" />
<line x1="159.8" y1="471.3" x2="169.5" y2="471.3" stroke="#ff0000" stroke-width="1.1" />
<circle cx="156.2" cy="471.3" r="2.1" fill="#ff0000" stroke="#ff0000" stroke-width="0.7"/>
<text x="172.5" y="475.3" font-family="Liberation Sans" font-size="11.4" text-anchor="start" fill="#222" >2K</text>
<line x1="190" y1="471.3" x2="199.7" y2="471.3" stroke="#0000ff" stroke-width="1.1" />
<line x1="206.9" y1="471.3" x2="217" y2="471.3" stroke="#0000ff" stroke-width="1.1" />
<polygon points="203.3,468.77 205.83,473.14 200.77,473.14" fill="#0000ff" stroke="#0000ff" stroke-width="0.7" stroke-linejoin="miter"/>
<text x="220" y="475.3" font-family="Liberation Sans" font-size="11.4" text-anchor="start" fill="#222" >2.5K</text>
<line x1="246.3" y1="471.3" x2="257.4" y2="471.3" stroke="#ff00ff" stroke-width="1.1" />
<line x1="264.6" y1="471.3" x2="274" y2="471.3" stroke="#ff00ff" stroke-width="1.1" />
<polygon points="261,473.83 263.53,469.46 258.47,469.46" fill="#ff00ff" stroke="#ff00ff" stroke-width="0.7" stroke-linejoin="miter"/>
<text x="277.2" y="475.3" font-family="Liberation Sans" font-size="11.4" text-anchor="start" fill="#222" >3K</text>
<line x1="86.3" y1="485.2" x2="95.7" y2="485.2" stroke="#800080" stroke-width="1.1" />
<line x1="102.9" y1="485.2" x2="112.5" y2="485.2" stroke="#800080" stroke-width="1.1" />
<polygon points="99.3,482.32 102.18,485.2 99.3,488.08 96.42,485.2" fill="#800080" stroke="#800080" stroke-width="0.7" stroke-linejoin="miter"/>
<text x="116.3" y="489.2" font-family="Liberation Sans" font-size="11.4" text-anchor="start" fill="#222" >4K</text>
<line x1="142.5" y1="485.2" x2="152.6" y2="485.2" stroke="#008000" stroke-width="1.1" />
<line x1="159.8" y1="485.2" x2="169.5" y2="485.2" stroke="#008000" stroke-width="1.1" />
<polygon points="153.67,485.2 158.04,482.67 158.04,487.73" fill="#008000" stroke="#008000" stroke-width="0.7" stroke-linejoin="miter"/>
<text x="172.5" y="489.2" font-family="Liberation Sans" font-size="11.4" text-anchor="start" fill="#222" >5K</text>
<line x1="190" y1="485.2" x2="199.7" y2="485.2" stroke="#ff8000" stroke-width="1.1" />
<line x1="206.9" y1="485.2" x2="217" y2="485.2" stroke="#ff8000" stroke-width="1.1" />
<polygon points="205.83,485.2 201.46,482.67 201.46,487.73" fill="#ff8000" stroke="#ff8000" stroke-width="0.7" stroke-linejoin="miter"/>
<text x="220" y="489.2" font-family="Liberation Sans" font-size="11.4" text-anchor="start" fill="#222" >6K</text>
<line x1="213" y1="503" x2="222.6" y2="503" stroke="#000" stroke-width="1.1" />
<line x1="229.8" y1="503" x2="239.5" y2="503" stroke="#000" stroke-width="1.1" />
<rect x="224.1" y="500.9" width="4.2" height="4.2" fill="#000" stroke="#000" stroke-width="0.7"/>
<line x1="213" y1="520.9" x2="222.6" y2="520.9" stroke="#000" stroke-width="1.1" />
<line x1="229.8" y1="520.9" x2="239.5" y2="520.9" stroke="#000" stroke-width="1.1" />
<rect x="224.1" y="518.8" width="4.2" height="4.2" fill="#fff" stroke="#000" stroke-width="0.7"/>
<text x="242.8" y="507" font-family="Liberation Sans" font-size="11" fill="#222">J<tspan font-size="7" dy="4.5">c,H//(101)</tspan></text>
<text x="242.8" y="525" font-family="Liberation Sans" font-size="11" fill="#222">J</text>
<text x="248.4" y="529.5" font-family="Liberation Sans" font-size="7" fill="#222">c,H</text>
<line x1="261.3" y1="524.6" x2="261.3" y2="529.2" stroke="#222" stroke-width="0.7" />
<line x1="259.2" y1="529.2" x2="263.4" y2="529.2" stroke="#222" stroke-width="0.7" />
<text x="264" y="529.5" font-family="Liberation Sans" font-size="7" fill="#222">(101)</text>
</svg></body></html>
